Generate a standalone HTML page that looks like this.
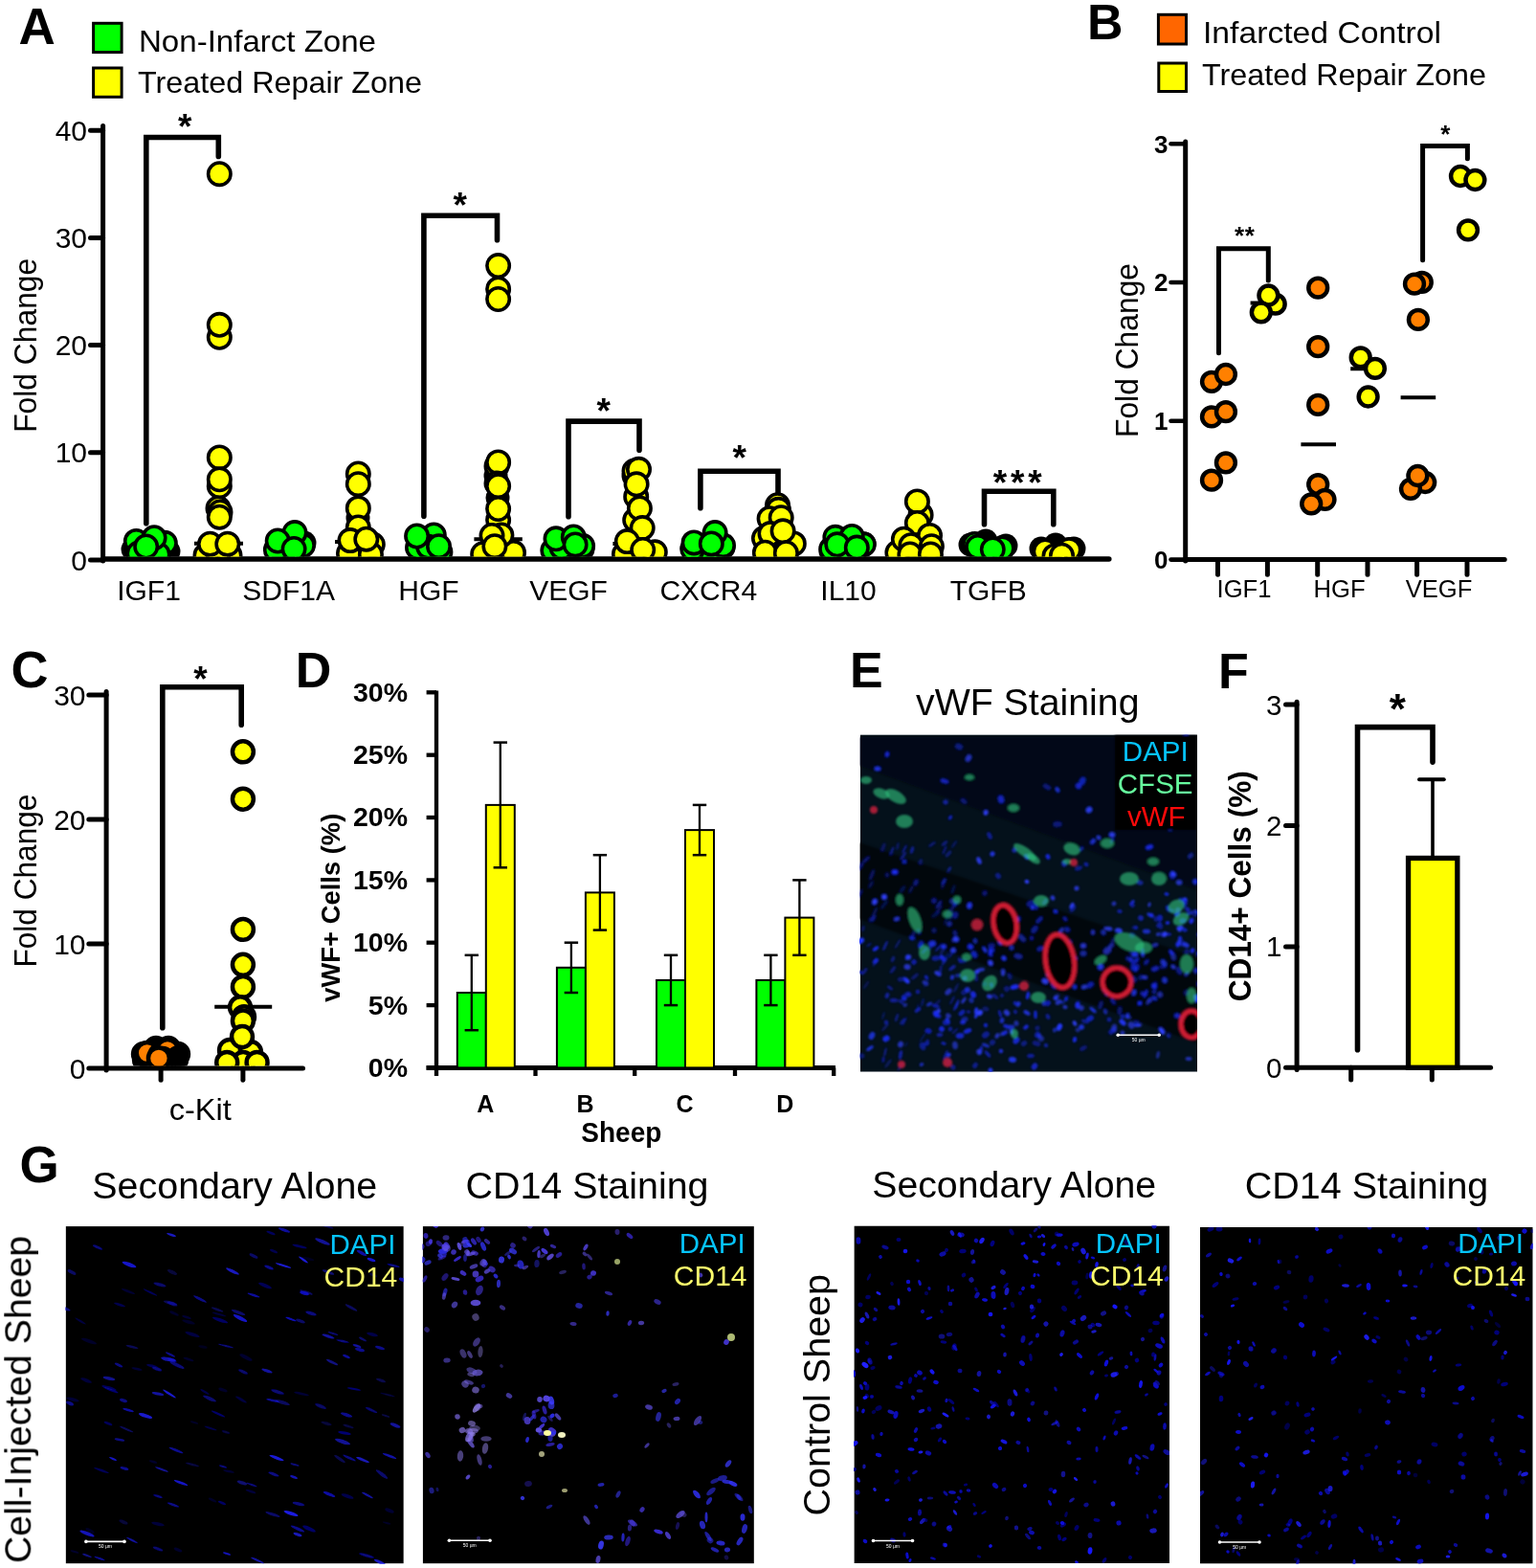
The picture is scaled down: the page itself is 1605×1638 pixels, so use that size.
<!DOCTYPE html><html><head><meta charset="utf-8"><style>html,body{margin:0;padding:0;background:#fff;}svg{display:block}</style></head><body><svg width="1605" height="1638" viewBox="0 0 1605 1638"><rect width="1605" height="1638" fill="#fff"/><text x="19.4" y="46.4" font-family="'Liberation Sans', Arial, sans-serif" font-size="53" font-weight="bold" fill="#000" text-anchor="start">A</text>
<rect x="97.6" y="24.3" width="29.5" height="30.3" fill="#00ff00" stroke="#000" stroke-width="3"/>
<rect x="97.6" y="71" width="29.5" height="30.3" fill="#ffff00" stroke="#000" stroke-width="3"/>
<text x="145.0" y="53.8" font-family="'Liberation Sans', Arial, sans-serif" font-size="30.5" font-weight="normal" fill="#000" text-anchor="start" textLength="248.0" lengthAdjust="spacingAndGlyphs">Non-Infarct Zone</text>
<text x="144.0" y="97.3" font-family="'Liberation Sans', Arial, sans-serif" font-size="30.5" font-weight="normal" fill="#000" text-anchor="start" textLength="297.0" lengthAdjust="spacingAndGlyphs">Treated Repair Zone</text>
<line x1="107.6" y1="131.5" x2="107.6" y2="586.0" stroke="#000" stroke-width="5" stroke-linecap="round"/>
<line x1="94.5" y1="585.0" x2="107.6" y2="585.0" stroke="#000" stroke-width="5" stroke-linecap="round"/>
<text x="91.0" y="595.5" font-family="'Liberation Sans', Arial, sans-serif" font-size="30" font-weight="normal" fill="#000" text-anchor="end">0</text>
<line x1="94.5" y1="472.8" x2="107.6" y2="472.8" stroke="#000" stroke-width="5" stroke-linecap="round"/>
<text x="91.0" y="483.3" font-family="'Liberation Sans', Arial, sans-serif" font-size="30" font-weight="normal" fill="#000" text-anchor="end">10</text>
<line x1="94.5" y1="360.6" x2="107.6" y2="360.6" stroke="#000" stroke-width="5" stroke-linecap="round"/>
<text x="91.0" y="371.1" font-family="'Liberation Sans', Arial, sans-serif" font-size="30" font-weight="normal" fill="#000" text-anchor="end">20</text>
<line x1="94.5" y1="248.4" x2="107.6" y2="248.4" stroke="#000" stroke-width="5" stroke-linecap="round"/>
<text x="91.0" y="258.9" font-family="'Liberation Sans', Arial, sans-serif" font-size="30" font-weight="normal" fill="#000" text-anchor="end">30</text>
<line x1="94.5" y1="136.2" x2="107.6" y2="136.2" stroke="#000" stroke-width="5" stroke-linecap="round"/>
<text x="91.0" y="146.7" font-family="'Liberation Sans', Arial, sans-serif" font-size="30" font-weight="normal" fill="#000" text-anchor="end">40</text>
<line x1="107.6" y1="584.0" x2="1158.8" y2="584.0" stroke="#000" stroke-width="5.5" stroke-linecap="round"/>
<text x="38.5" y="360.8" font-family="'Liberation Sans', Arial, sans-serif" font-size="33" font-weight="normal" fill="#000" text-anchor="middle" textLength="182.0" lengthAdjust="spacingAndGlyphs" transform="rotate(-90 38.5 360.8)">Fold Change</text>
<text x="155.5" y="627.4" font-family="'Liberation Sans', Arial, sans-serif" font-size="30" font-weight="normal" fill="#000" text-anchor="middle">IGF1</text>
<text x="301.7" y="627.4" font-family="'Liberation Sans', Arial, sans-serif" font-size="30" font-weight="normal" fill="#000" text-anchor="middle">SDF1A</text>
<text x="447.9" y="627.4" font-family="'Liberation Sans', Arial, sans-serif" font-size="30" font-weight="normal" fill="#000" text-anchor="middle">HGF</text>
<text x="594.1" y="627.4" font-family="'Liberation Sans', Arial, sans-serif" font-size="30" font-weight="normal" fill="#000" text-anchor="middle">VEGF</text>
<text x="740.3" y="627.4" font-family="'Liberation Sans', Arial, sans-serif" font-size="30" font-weight="normal" fill="#000" text-anchor="middle">CXCR4</text>
<text x="886.5" y="627.4" font-family="'Liberation Sans', Arial, sans-serif" font-size="30" font-weight="normal" fill="#000" text-anchor="middle">IL10</text>
<text x="1032.7" y="627.4" font-family="'Liberation Sans', Arial, sans-serif" font-size="30" font-weight="normal" fill="#000" text-anchor="middle">TGFB</text>
<polyline points="152.8,546.7 152.8,143.5 228.3,143.5 228.3,163.4" fill="none" stroke="#000" stroke-width="5.6" stroke-linecap="round" stroke-linejoin="miter"/>
<polyline points="442.9,539.3 442.9,225.2 519.5,225.2 519.5,250.7" fill="none" stroke="#000" stroke-width="5.6" stroke-linecap="round" stroke-linejoin="miter"/>
<polyline points="594.0,539.7 594.0,440.1 668.0,440.1 668.0,470.3" fill="none" stroke="#000" stroke-width="5.6" stroke-linecap="round" stroke-linejoin="miter"/>
<polyline points="731.9,530.7 731.9,492.2 813.0,492.2 813.0,514.8" fill="none" stroke="#000" stroke-width="5.6" stroke-linecap="round" stroke-linejoin="miter"/>
<polyline points="1028.5,547.8 1028.5,513.2 1100.8,513.2 1100.8,547.8" fill="none" stroke="#000" stroke-width="5.6" stroke-linecap="round" stroke-linejoin="miter"/>
<text x="193.3" y="144.9" font-family="'Liberation Sans', Arial, sans-serif" font-size="37" font-weight="bold" fill="#000" text-anchor="middle">*</text>
<text x="480.7" y="227.2" font-family="'Liberation Sans', Arial, sans-serif" font-size="37" font-weight="bold" fill="#000" text-anchor="middle">*</text>
<text x="630.6" y="441.8" font-family="'Liberation Sans', Arial, sans-serif" font-size="37" font-weight="bold" fill="#000" text-anchor="middle">*</text>
<text x="772.8" y="490.7" font-family="'Liberation Sans', Arial, sans-serif" font-size="37" font-weight="bold" fill="#000" text-anchor="middle">*</text>
<text x="1044.9" y="516.6" font-family="'Liberation Sans', Arial, sans-serif" font-size="37" font-weight="bold" fill="#000" text-anchor="middle">*</text>
<text x="1063.2" y="516.6" font-family="'Liberation Sans', Arial, sans-serif" font-size="37" font-weight="bold" fill="#000" text-anchor="middle">*</text>
<text x="1081.5" y="516.6" font-family="'Liberation Sans', Arial, sans-serif" font-size="37" font-weight="bold" fill="#000" text-anchor="middle">*</text>
<defs><clipPath id="clipA"><rect x="108" y="100" width="1060" height="481.5"/></clipPath><clipPath id="clipB"><rect x="1239" y="100" width="340" height="482"/></clipPath><clipPath id="clipC"><rect x="111" y="700" width="220" height="413.5"/></clipPath></defs>
<g clip-path="url(#clipA)">
<circle cx="139" cy="574" r="12.5" fill="#000"/>
<circle cx="176" cy="576" r="12.5" fill="#000"/>
<circle cx="142.4" cy="565.4" r="11.7" fill="#00ff00" stroke="#000" stroke-width="3.6"/>
<circle cx="172.3" cy="567.3" r="11.7" fill="#00ff00" stroke="#000" stroke-width="3.6"/>
<circle cx="145.0" cy="578.0" r="11.7" fill="#00ff00" stroke="#000" stroke-width="3.6"/>
<circle cx="165.0" cy="579.0" r="11.7" fill="#00ff00" stroke="#000" stroke-width="3.6"/>
<circle cx="161.1" cy="561.7" r="11.7" fill="#00ff00" stroke="#000" stroke-width="3.6"/>
<circle cx="152.7" cy="571.0" r="11.7" fill="#00ff00" stroke="#000" stroke-width="3.6"/>
<line x1="203.0" y1="567.8" x2="254.0" y2="567.8" stroke="#000" stroke-width="4" stroke-linecap="butt"/>
<circle cx="228" cy="533" r="12.5" fill="#000"/>
<circle cx="229.3" cy="181.7" r="11.7" fill="#ffff00" stroke="#000" stroke-width="3.6"/>
<circle cx="229.3" cy="352.3" r="11.7" fill="#ffff00" stroke="#000" stroke-width="3.6"/>
<circle cx="229.3" cy="339.3" r="11.7" fill="#ffff00" stroke="#000" stroke-width="3.6"/>
<circle cx="229.3" cy="477.9" r="11.7" fill="#ffff00" stroke="#000" stroke-width="3.6"/>
<circle cx="229.3" cy="507.8" r="11.7" fill="#ffff00" stroke="#000" stroke-width="3.6"/>
<circle cx="229.3" cy="500.8" r="11.7" fill="#ffff00" stroke="#000" stroke-width="3.6"/>
<circle cx="228.0" cy="531.0" r="11.7" fill="#ffff00" stroke="#000" stroke-width="3.6"/>
<circle cx="230.0" cy="535.0" r="11.7" fill="#ffff00" stroke="#000" stroke-width="3.6"/>
<circle cx="229.3" cy="540.2" r="11.7" fill="#ffff00" stroke="#000" stroke-width="3.6"/>
<circle cx="215.0" cy="580.0" r="11.7" fill="#ffff00" stroke="#000" stroke-width="3.6"/>
<circle cx="240.0" cy="580.0" r="11.7" fill="#ffff00" stroke="#000" stroke-width="3.6"/>
<circle cx="228.0" cy="578.0" r="11.7" fill="#ffff00" stroke="#000" stroke-width="3.6"/>
<circle cx="219.5" cy="568.2" r="11.7" fill="#ffff00" stroke="#000" stroke-width="3.6"/>
<circle cx="237.8" cy="568.2" r="11.7" fill="#ffff00" stroke="#000" stroke-width="3.6"/>
<circle cx="318" cy="567" r="12.5" fill="#000"/>
<circle cx="296" cy="578" r="12.5" fill="#000"/>
<circle cx="288.4" cy="574.4" r="11.7" fill="#00ff00" stroke="#000" stroke-width="3.6"/>
<circle cx="316.4" cy="569.7" r="11.7" fill="#00ff00" stroke="#000" stroke-width="3.6"/>
<circle cx="308.0" cy="556.6" r="11.7" fill="#00ff00" stroke="#000" stroke-width="3.6"/>
<circle cx="290.2" cy="565.0" r="11.7" fill="#00ff00" stroke="#000" stroke-width="3.6"/>
<circle cx="307.1" cy="573.5" r="11.7" fill="#00ff00" stroke="#000" stroke-width="3.6"/>
<line x1="350.0" y1="566.0" x2="400.0" y2="566.0" stroke="#000" stroke-width="4" stroke-linecap="butt"/>
<circle cx="374" cy="541" r="12.5" fill="#000"/>
<circle cx="374.3" cy="495.0" r="11.7" fill="#ffff00" stroke="#000" stroke-width="3.6"/>
<circle cx="374.3" cy="505.7" r="11.7" fill="#ffff00" stroke="#000" stroke-width="3.6"/>
<circle cx="374.3" cy="530.9" r="11.7" fill="#ffff00" stroke="#000" stroke-width="3.6"/>
<circle cx="374.3" cy="551.0" r="11.7" fill="#ffff00" stroke="#000" stroke-width="3.6"/>
<circle cx="389.3" cy="568.8" r="11.7" fill="#ffff00" stroke="#000" stroke-width="3.6"/>
<circle cx="364.5" cy="578.0" r="11.7" fill="#ffff00" stroke="#000" stroke-width="3.6"/>
<circle cx="387.4" cy="579.0" r="11.7" fill="#ffff00" stroke="#000" stroke-width="3.6"/>
<circle cx="366.0" cy="564.6" r="11.7" fill="#ffff00" stroke="#000" stroke-width="3.6"/>
<circle cx="382.8" cy="563.2" r="11.7" fill="#ffff00" stroke="#000" stroke-width="3.6"/>
<circle cx="447" cy="572" r="12.5" fill="#000"/>
<circle cx="440" cy="579" r="12.5" fill="#000"/>
<circle cx="442.0" cy="575.0" r="11.7" fill="#00ff00" stroke="#000" stroke-width="3.6"/>
<circle cx="436.5" cy="572.0" r="11.7" fill="#00ff00" stroke="#000" stroke-width="3.6"/>
<circle cx="459.9" cy="576.8" r="11.7" fill="#00ff00" stroke="#000" stroke-width="3.6"/>
<circle cx="453.3" cy="559.0" r="11.7" fill="#00ff00" stroke="#000" stroke-width="3.6"/>
<circle cx="447.7" cy="571.2" r="11.7" fill="#00ff00" stroke="#000" stroke-width="3.6"/>
<circle cx="435.6" cy="560.0" r="11.7" fill="#00ff00" stroke="#000" stroke-width="3.6"/>
<circle cx="458.5" cy="570.7" r="11.7" fill="#00ff00" stroke="#000" stroke-width="3.6"/>
<line x1="495.4" y1="563.3" x2="545.8" y2="563.3" stroke="#000" stroke-width="4" stroke-linecap="butt"/>
<circle cx="518" cy="497" r="12.5" fill="#000"/>
<circle cx="520" cy="520" r="12.5" fill="#000"/>
<circle cx="520.6" cy="277.6" r="11.7" fill="#ffff00" stroke="#000" stroke-width="3.6"/>
<circle cx="520.6" cy="302.0" r="11.7" fill="#ffff00" stroke="#000" stroke-width="3.6"/>
<circle cx="520.6" cy="312.5" r="11.7" fill="#ffff00" stroke="#000" stroke-width="3.6"/>
<circle cx="519.0" cy="487.0" r="11.7" fill="#ffff00" stroke="#000" stroke-width="3.6"/>
<circle cx="520.6" cy="482.9" r="11.7" fill="#ffff00" stroke="#000" stroke-width="3.6"/>
<circle cx="519.0" cy="505.0" r="11.7" fill="#ffff00" stroke="#000" stroke-width="3.6"/>
<circle cx="520.6" cy="507.7" r="11.7" fill="#ffff00" stroke="#000" stroke-width="3.6"/>
<circle cx="520.6" cy="543.2" r="11.7" fill="#ffff00" stroke="#000" stroke-width="3.6"/>
<circle cx="520.6" cy="531.5" r="11.7" fill="#ffff00" stroke="#000" stroke-width="3.6"/>
<circle cx="504.7" cy="578.7" r="11.7" fill="#ffff00" stroke="#000" stroke-width="3.6"/>
<circle cx="536.5" cy="577.3" r="11.7" fill="#ffff00" stroke="#000" stroke-width="3.6"/>
<circle cx="523.9" cy="559.0" r="11.7" fill="#ffff00" stroke="#000" stroke-width="3.6"/>
<circle cx="514.0" cy="559.5" r="11.7" fill="#ffff00" stroke="#000" stroke-width="3.6"/>
<circle cx="516.9" cy="570.7" r="11.7" fill="#ffff00" stroke="#000" stroke-width="3.6"/>
<circle cx="609" cy="574" r="12.5" fill="#000"/>
<circle cx="590" cy="579" r="12.5" fill="#000"/>
<circle cx="577.8" cy="575.0" r="11.7" fill="#00ff00" stroke="#000" stroke-width="3.6"/>
<circle cx="608.6" cy="570.3" r="11.7" fill="#00ff00" stroke="#000" stroke-width="3.6"/>
<circle cx="587.1" cy="572.1" r="11.7" fill="#00ff00" stroke="#000" stroke-width="3.6"/>
<circle cx="581.0" cy="562.8" r="11.7" fill="#00ff00" stroke="#000" stroke-width="3.6"/>
<circle cx="599.3" cy="561.0" r="11.7" fill="#00ff00" stroke="#000" stroke-width="3.6"/>
<circle cx="601.1" cy="568.9" r="11.7" fill="#00ff00" stroke="#000" stroke-width="3.6"/>
<line x1="640.4" y1="568.0" x2="691.8" y2="568.0" stroke="#000" stroke-width="4" stroke-linecap="butt"/>
<circle cx="662" cy="497" r="12.5" fill="#000"/>
<circle cx="664.7" cy="518.9" r="11.7" fill="#ffff00" stroke="#000" stroke-width="3.6"/>
<circle cx="663.7" cy="543.2" r="11.7" fill="#ffff00" stroke="#000" stroke-width="3.6"/>
<circle cx="663.0" cy="492.0" r="11.7" fill="#ffff00" stroke="#000" stroke-width="3.6"/>
<circle cx="667.5" cy="490.3" r="11.7" fill="#ffff00" stroke="#000" stroke-width="3.6"/>
<circle cx="665.1" cy="505.8" r="11.7" fill="#ffff00" stroke="#000" stroke-width="3.6"/>
<circle cx="668.4" cy="531.0" r="11.7" fill="#ffff00" stroke="#000" stroke-width="3.6"/>
<circle cx="671.2" cy="551.6" r="11.7" fill="#ffff00" stroke="#000" stroke-width="3.6"/>
<circle cx="652.5" cy="578.7" r="11.7" fill="#ffff00" stroke="#000" stroke-width="3.6"/>
<circle cx="684.3" cy="576.8" r="11.7" fill="#ffff00" stroke="#000" stroke-width="3.6"/>
<circle cx="655.3" cy="565.6" r="11.7" fill="#ffff00" stroke="#000" stroke-width="3.6"/>
<circle cx="671.7" cy="574.5" r="11.7" fill="#ffff00" stroke="#000" stroke-width="3.6"/>
<circle cx="756" cy="572" r="12.5" fill="#000"/>
<circle cx="734" cy="579" r="12.5" fill="#000"/>
<circle cx="726.5" cy="581.0" r="11.7" fill="#00ff00" stroke="#000" stroke-width="3.6"/>
<circle cx="744.3" cy="579.0" r="11.7" fill="#00ff00" stroke="#000" stroke-width="3.6"/>
<circle cx="723.7" cy="573.5" r="11.7" fill="#00ff00" stroke="#000" stroke-width="3.6"/>
<circle cx="755.5" cy="569.7" r="11.7" fill="#00ff00" stroke="#000" stroke-width="3.6"/>
<circle cx="747.1" cy="556.6" r="11.7" fill="#00ff00" stroke="#000" stroke-width="3.6"/>
<circle cx="725.1" cy="566.9" r="11.7" fill="#00ff00" stroke="#000" stroke-width="3.6"/>
<circle cx="743.3" cy="567.9" r="11.7" fill="#00ff00" stroke="#000" stroke-width="3.6"/>
<line x1="787.2" y1="567.9" x2="838.0" y2="567.9" stroke="#000" stroke-width="4" stroke-linecap="butt"/>
<circle cx="808" cy="548" r="12.5" fill="#000"/>
<circle cx="812.5" cy="527.7" r="11.7" fill="#ffff00" stroke="#000" stroke-width="3.6"/>
<circle cx="813.4" cy="532.3" r="11.7" fill="#ffff00" stroke="#000" stroke-width="3.6"/>
<circle cx="804.1" cy="541.7" r="11.7" fill="#ffff00" stroke="#000" stroke-width="3.6"/>
<circle cx="816.2" cy="540.7" r="11.7" fill="#ffff00" stroke="#000" stroke-width="3.6"/>
<circle cx="829.3" cy="567.9" r="11.7" fill="#ffff00" stroke="#000" stroke-width="3.6"/>
<circle cx="798.5" cy="562.2" r="11.7" fill="#ffff00" stroke="#000" stroke-width="3.6"/>
<circle cx="805.0" cy="557.6" r="11.7" fill="#ffff00" stroke="#000" stroke-width="3.6"/>
<circle cx="818.1" cy="554.8" r="11.7" fill="#ffff00" stroke="#000" stroke-width="3.6"/>
<circle cx="799.4" cy="577.2" r="11.7" fill="#ffff00" stroke="#000" stroke-width="3.6"/>
<circle cx="821.4" cy="577.7" r="11.7" fill="#ffff00" stroke="#000" stroke-width="3.6"/>
<circle cx="903" cy="568" r="12.5" fill="#000"/>
<circle cx="868" cy="576" r="12.5" fill="#000"/>
<circle cx="878.0" cy="581.0" r="11.7" fill="#00ff00" stroke="#000" stroke-width="3.6"/>
<circle cx="868.7" cy="573.5" r="11.7" fill="#00ff00" stroke="#000" stroke-width="3.6"/>
<circle cx="902.3" cy="568.8" r="11.7" fill="#00ff00" stroke="#000" stroke-width="3.6"/>
<circle cx="872.9" cy="561.3" r="11.7" fill="#00ff00" stroke="#000" stroke-width="3.6"/>
<circle cx="890.2" cy="560.4" r="11.7" fill="#00ff00" stroke="#000" stroke-width="3.6"/>
<circle cx="874.8" cy="568.8" r="11.7" fill="#00ff00" stroke="#000" stroke-width="3.6"/>
<circle cx="895.3" cy="572.1" r="11.7" fill="#00ff00" stroke="#000" stroke-width="3.6"/>
<line x1="933.2" y1="572.5" x2="984.0" y2="572.5" stroke="#000" stroke-width="4" stroke-linecap="butt"/>
<circle cx="962" cy="536" r="12.5" fill="#000"/>
<circle cx="962.1" cy="537.9" r="11.7" fill="#ffff00" stroke="#000" stroke-width="3.6"/>
<circle cx="958.4" cy="523.9" r="11.7" fill="#ffff00" stroke="#000" stroke-width="3.6"/>
<circle cx="958.4" cy="546.4" r="11.7" fill="#ffff00" stroke="#000" stroke-width="3.6"/>
<circle cx="937.9" cy="577.2" r="11.7" fill="#ffff00" stroke="#000" stroke-width="3.6"/>
<circle cx="944.4" cy="563.2" r="11.7" fill="#ffff00" stroke="#000" stroke-width="3.6"/>
<circle cx="971.5" cy="559.4" r="11.7" fill="#ffff00" stroke="#000" stroke-width="3.6"/>
<circle cx="951.9" cy="569.7" r="11.7" fill="#ffff00" stroke="#000" stroke-width="3.6"/>
<circle cx="973.4" cy="570.7" r="11.7" fill="#ffff00" stroke="#000" stroke-width="3.6"/>
<circle cx="950.9" cy="579.0" r="11.7" fill="#ffff00" stroke="#000" stroke-width="3.6"/>
<circle cx="972.4" cy="579.0" r="11.7" fill="#ffff00" stroke="#000" stroke-width="3.6"/>
<circle cx="1014" cy="569" r="12.5" fill="#000"/>
<circle cx="1051" cy="570" r="12.5" fill="#000"/>
<circle cx="1030" cy="565" r="12.5" fill="#000"/>
<circle cx="1018.6" cy="568.4" r="11.7" fill="#00ff00" stroke="#000" stroke-width="3.6"/>
<circle cx="1047.2" cy="572.8" r="11.7" fill="#00ff00" stroke="#000" stroke-width="3.6"/>
<circle cx="1021.7" cy="571.5" r="11.7" fill="#00ff00" stroke="#000" stroke-width="3.6"/>
<circle cx="1037.3" cy="574.0" r="11.7" fill="#00ff00" stroke="#000" stroke-width="3.6"/>
<circle cx="1088" cy="573" r="12.5" fill="#000"/>
<circle cx="1122" cy="573" r="12.5" fill="#000"/>
<circle cx="1103" cy="569" r="12.5" fill="#000"/>
<circle cx="1097" cy="578" r="12.5" fill="#000"/>
<circle cx="1092.1" cy="575.9" r="11.7" fill="#ffff00" stroke="#000" stroke-width="3.6"/>
<circle cx="1117.0" cy="574.6" r="11.7" fill="#ffff00" stroke="#000" stroke-width="3.6"/>
<circle cx="1102.0" cy="580.9" r="11.7" fill="#ffff00" stroke="#000" stroke-width="3.6"/>
<circle cx="1109.5" cy="580.2" r="11.7" fill="#ffff00" stroke="#000" stroke-width="3.6"/>
</g>
<text x="1136.0" y="41.0" font-family="'Liberation Sans', Arial, sans-serif" font-size="52" font-weight="bold" fill="#000" text-anchor="start">B</text>
<rect x="1210.4" y="15.3" width="29.1" height="30.7" fill="#ff6600" stroke="#000" stroke-width="3"/>
<rect x="1210.8" y="66" width="28.7" height="29.5" fill="#ffff00" stroke="#000" stroke-width="3"/>
<text x="1257.0" y="45.3" font-family="'Liberation Sans', Arial, sans-serif" font-size="30.5" font-weight="normal" fill="#000" text-anchor="start" textLength="249.0" lengthAdjust="spacingAndGlyphs">Infarcted Control</text>
<text x="1256.0" y="88.8" font-family="'Liberation Sans', Arial, sans-serif" font-size="30.5" font-weight="normal" fill="#000" text-anchor="start" textLength="297.0" lengthAdjust="spacingAndGlyphs">Treated Repair Zone</text>
<line x1="1238.7" y1="148.0" x2="1238.7" y2="586.0" stroke="#000" stroke-width="5" stroke-linecap="round"/>
<line x1="1223.5" y1="584.6" x2="1238.7" y2="584.6" stroke="#000" stroke-width="4.6" stroke-linecap="round"/>
<text x="1220.5" y="594.0" font-family="'Liberation Sans', Arial, sans-serif" font-size="26" font-weight="bold" fill="#000" text-anchor="end">0</text>
<line x1="1223.5" y1="439.8" x2="1238.7" y2="439.8" stroke="#000" stroke-width="4.6" stroke-linecap="round"/>
<text x="1220.5" y="449.2" font-family="'Liberation Sans', Arial, sans-serif" font-size="26" font-weight="bold" fill="#000" text-anchor="end">1</text>
<line x1="1223.5" y1="295.0" x2="1238.7" y2="295.0" stroke="#000" stroke-width="4.6" stroke-linecap="round"/>
<text x="1220.5" y="304.4" font-family="'Liberation Sans', Arial, sans-serif" font-size="26" font-weight="bold" fill="#000" text-anchor="end">2</text>
<line x1="1223.5" y1="150.2" x2="1238.7" y2="150.2" stroke="#000" stroke-width="4.6" stroke-linecap="round"/>
<text x="1220.5" y="159.6" font-family="'Liberation Sans', Arial, sans-serif" font-size="26" font-weight="bold" fill="#000" text-anchor="end">3</text>
<line x1="1238.7" y1="584.6" x2="1572.2" y2="584.6" stroke="#000" stroke-width="5" stroke-linecap="round"/>
<line x1="1272.5" y1="584.6" x2="1272.5" y2="600.3" stroke="#000" stroke-width="5" stroke-linecap="round"/>
<line x1="1324.4" y1="584.6" x2="1324.4" y2="600.3" stroke="#000" stroke-width="5" stroke-linecap="round"/>
<line x1="1376.7" y1="584.6" x2="1376.7" y2="600.3" stroke="#000" stroke-width="5" stroke-linecap="round"/>
<line x1="1429.0" y1="584.6" x2="1429.0" y2="600.3" stroke="#000" stroke-width="5" stroke-linecap="round"/>
<line x1="1480.6" y1="584.6" x2="1480.6" y2="600.3" stroke="#000" stroke-width="5" stroke-linecap="round"/>
<line x1="1533.0" y1="584.6" x2="1533.0" y2="600.3" stroke="#000" stroke-width="5" stroke-linecap="round"/>
<text x="1300.0" y="623.9" font-family="'Liberation Sans', Arial, sans-serif" font-size="25.6" font-weight="normal" fill="#000" text-anchor="middle">IGF1</text>
<text x="1399.5" y="623.9" font-family="'Liberation Sans', Arial, sans-serif" font-size="25.6" font-weight="normal" fill="#000" text-anchor="middle">HGF</text>
<text x="1503.5" y="623.9" font-family="'Liberation Sans', Arial, sans-serif" font-size="25.6" font-weight="normal" fill="#000" text-anchor="middle">VEGF</text>
<text x="1189.2" y="366.0" font-family="'Liberation Sans', Arial, sans-serif" font-size="33" font-weight="normal" fill="#000" text-anchor="middle" textLength="182.0" lengthAdjust="spacingAndGlyphs" transform="rotate(-90 1189.2 366.0)">Fold Change</text>
<polyline points="1273.5,368.7 1273.5,259.8 1325.3,259.8 1325.3,293.0" fill="none" stroke="#000" stroke-width="5" stroke-linecap="round" stroke-linejoin="miter"/>
<polyline points="1486.6,271.7 1486.6,152.4 1533.4,152.4 1533.4,165.7" fill="none" stroke="#000" stroke-width="5" stroke-linecap="round" stroke-linejoin="miter"/>
<text x="1295.1" y="254.9" font-family="'Liberation Sans', Arial, sans-serif" font-size="26" font-weight="bold" fill="#000" text-anchor="middle">*</text>
<text x="1305.8" y="254.9" font-family="'Liberation Sans', Arial, sans-serif" font-size="26" font-weight="bold" fill="#000" text-anchor="middle">*</text>
<text x="1510.3" y="148.7" font-family="'Liberation Sans', Arial, sans-serif" font-size="26" font-weight="bold" fill="#000" text-anchor="middle">*</text>
<g clip-path="url(#clipB)">
<line x1="1306.6" y1="316.4" x2="1340.0" y2="316.4" stroke="#000" stroke-width="4" stroke-linecap="butt"/>
<line x1="1359.4" y1="464.2" x2="1396.0" y2="464.2" stroke="#000" stroke-width="4" stroke-linecap="butt"/>
<line x1="1411.2" y1="385.2" x2="1446.0" y2="385.2" stroke="#000" stroke-width="4" stroke-linecap="butt"/>
<line x1="1463.6" y1="415.3" x2="1500.2" y2="415.3" stroke="#000" stroke-width="4" stroke-linecap="butt"/>
<circle cx="1266.0" cy="398.8" r="9.9" fill="#ff8000" stroke="#000" stroke-width="4.5"/>
<circle cx="1280.9" cy="391.0" r="9.9" fill="#ff8000" stroke="#000" stroke-width="4.5"/>
<circle cx="1266.0" cy="435.4" r="9.9" fill="#ff8000" stroke="#000" stroke-width="4.5"/>
<circle cx="1280.9" cy="430.2" r="9.9" fill="#ff8000" stroke="#000" stroke-width="4.5"/>
<circle cx="1280.9" cy="483.3" r="9.9" fill="#ff8000" stroke="#000" stroke-width="4.5"/>
<circle cx="1266.0" cy="501.7" r="9.9" fill="#ff8000" stroke="#000" stroke-width="4.5"/>
<circle cx="1332.7" cy="317.7" r="9.9" fill="#ffff00" stroke="#000" stroke-width="4.5"/>
<circle cx="1325.4" cy="308.5" r="9.9" fill="#ffff00" stroke="#000" stroke-width="4.5"/>
<circle cx="1317.8" cy="326.3" r="9.9" fill="#ffff00" stroke="#000" stroke-width="4.5"/>
<circle cx="1377.2" cy="300.7" r="9.9" fill="#ff8000" stroke="#000" stroke-width="4.5"/>
<circle cx="1377.2" cy="362.2" r="9.9" fill="#ff8000" stroke="#000" stroke-width="4.5"/>
<circle cx="1377.2" cy="422.9" r="9.9" fill="#ff8000" stroke="#000" stroke-width="4.5"/>
<circle cx="1377.2" cy="506.1" r="9.9" fill="#ff8000" stroke="#000" stroke-width="4.5"/>
<circle cx="1384.5" cy="521.8" r="9.9" fill="#ff8000" stroke="#000" stroke-width="4.5"/>
<circle cx="1370.2" cy="526.3" r="9.9" fill="#ff8000" stroke="#000" stroke-width="4.5"/>
<circle cx="1421.7" cy="373.4" r="9.9" fill="#ffff00" stroke="#000" stroke-width="4.5"/>
<circle cx="1436.9" cy="384.9" r="9.9" fill="#ffff00" stroke="#000" stroke-width="4.5"/>
<circle cx="1429.6" cy="414.5" r="9.9" fill="#ffff00" stroke="#000" stroke-width="4.5"/>
<circle cx="1485.8" cy="294.9" r="9.9" fill="#ff8000" stroke="#000" stroke-width="4.5"/>
<circle cx="1478.0" cy="296.7" r="9.9" fill="#ff8000" stroke="#000" stroke-width="4.5"/>
<circle cx="1481.9" cy="333.9" r="9.9" fill="#ff8000" stroke="#000" stroke-width="4.5"/>
<circle cx="1489.2" cy="504.0" r="9.9" fill="#ff8000" stroke="#000" stroke-width="4.5"/>
<circle cx="1474.0" cy="510.8" r="9.9" fill="#ff8000" stroke="#000" stroke-width="4.5"/>
<circle cx="1481.4" cy="497.0" r="9.9" fill="#ff8000" stroke="#000" stroke-width="4.5"/>
<circle cx="1526.0" cy="184.0" r="9.9" fill="#ffff00" stroke="#000" stroke-width="4.5"/>
<circle cx="1541.4" cy="188.0" r="9.9" fill="#ffff00" stroke="#000" stroke-width="4.5"/>
<circle cx="1534.0" cy="240.3" r="9.9" fill="#ffff00" stroke="#000" stroke-width="4.5"/>
</g>
<text x="11.5" y="718.4" font-family="'Liberation Sans', Arial, sans-serif" font-size="54" font-weight="bold" fill="#000" text-anchor="start">C</text>
<line x1="111.1" y1="722.6" x2="111.1" y2="1118.0" stroke="#000" stroke-width="5" stroke-linecap="round"/>
<line x1="92.8" y1="1116.0" x2="111.1" y2="1116.0" stroke="#000" stroke-width="5" stroke-linecap="round"/>
<text x="89.5" y="1126.6" font-family="'Liberation Sans', Arial, sans-serif" font-size="30" font-weight="normal" fill="#000" text-anchor="end">0</text>
<line x1="92.8" y1="986.0" x2="111.1" y2="986.0" stroke="#000" stroke-width="5" stroke-linecap="round"/>
<text x="89.5" y="996.6" font-family="'Liberation Sans', Arial, sans-serif" font-size="30" font-weight="normal" fill="#000" text-anchor="end">10</text>
<line x1="92.8" y1="856.0" x2="111.1" y2="856.0" stroke="#000" stroke-width="5" stroke-linecap="round"/>
<text x="89.5" y="866.6" font-family="'Liberation Sans', Arial, sans-serif" font-size="30" font-weight="normal" fill="#000" text-anchor="end">20</text>
<line x1="92.8" y1="726.0" x2="111.1" y2="726.0" stroke="#000" stroke-width="5" stroke-linecap="round"/>
<text x="89.5" y="736.6" font-family="'Liberation Sans', Arial, sans-serif" font-size="30" font-weight="normal" fill="#000" text-anchor="end">30</text>
<line x1="111.1" y1="1116.0" x2="316.5" y2="1116.0" stroke="#000" stroke-width="5" stroke-linecap="round"/>
<line x1="168.1" y1="1116.0" x2="168.1" y2="1128.2" stroke="#000" stroke-width="5" stroke-linecap="round"/>
<line x1="253.9" y1="1116.0" x2="253.9" y2="1128.2" stroke="#000" stroke-width="5" stroke-linecap="round"/>
<text x="209.3" y="1169.9" font-family="'Liberation Sans', Arial, sans-serif" font-size="32" font-weight="normal" fill="#000" text-anchor="middle" textLength="65.0" lengthAdjust="spacingAndGlyphs">c-Kit</text>
<text x="38.5" y="920.1" font-family="'Liberation Sans', Arial, sans-serif" font-size="33" font-weight="normal" fill="#000" text-anchor="middle" textLength="181.0" lengthAdjust="spacingAndGlyphs" transform="rotate(-90 38.5 920.1)">Fold Change</text>
<polyline points="169.8,1073.8 169.8,717.7 252.2,717.7 252.2,757.3" fill="none" stroke="#000" stroke-width="5.6" stroke-linecap="round" stroke-linejoin="miter"/>
<text x="209.4" y="721.5" font-family="'Liberation Sans', Arial, sans-serif" font-size="37" font-weight="bold" fill="#000" text-anchor="middle">*</text>
<g clip-path="url(#clipC)">
<line x1="224.2" y1="1051.7" x2="284.2" y2="1051.7" stroke="#000" stroke-width="4" stroke-linecap="butt"/>
<circle cx="150" cy="1101" r="13.2" fill="#000"/>
<circle cx="163" cy="1095" r="13.2" fill="#000"/>
<circle cx="176" cy="1095" r="13.2" fill="#000"/>
<circle cx="186" cy="1101" r="13.2" fill="#000"/>
<circle cx="184" cy="1107" r="13.2" fill="#000"/>
<circle cx="158" cy="1108" r="13.2" fill="#000"/>
<circle cx="172" cy="1108" r="13.2" fill="#000"/>
<circle cx="151" cy="1107" r="13.2" fill="#000"/>
<circle cx="153.7" cy="1100.0" r="10.95" fill="#ff8000" stroke="#000" stroke-width="4.5"/>
<circle cx="167.5" cy="1102" r="13.2" fill="#000"/>
<circle cx="175.0" cy="1097.0" r="10.95" fill="#ff8000" stroke="#000" stroke-width="4.5"/>
<circle cx="170" cy="1106" r="13.2" fill="#000"/>
<circle cx="186" cy="1104" r="12" fill="#000"/>
<circle cx="165.9" cy="1105.4" r="10.95" fill="#ff8000" stroke="#000" stroke-width="4.5"/>
<circle cx="253.9" cy="785.3" r="10.95" fill="#ffff00" stroke="#000" stroke-width="4.5"/>
<circle cx="253.9" cy="834.7" r="10.95" fill="#ffff00" stroke="#000" stroke-width="4.5"/>
<circle cx="253.9" cy="970.9" r="10.95" fill="#ffff00" stroke="#000" stroke-width="4.5"/>
<circle cx="253.9" cy="1007.8" r="10.95" fill="#ffff00" stroke="#000" stroke-width="4.5"/>
<circle cx="253.9" cy="1030.9" r="10.95" fill="#ffff00" stroke="#000" stroke-width="4.5"/>
<circle cx="251.0" cy="1052.3" r="10.95" fill="#ffff00" stroke="#000" stroke-width="4.5"/>
<circle cx="255.0" cy="1062.2" r="10.95" fill="#ffff00" stroke="#000" stroke-width="4.5"/>
<circle cx="253.9" cy="1066.5" r="10.95" fill="#ffff00" stroke="#000" stroke-width="4.5"/>
<circle cx="240.0" cy="1097.0" r="10.95" fill="#ffff00" stroke="#000" stroke-width="4.5"/>
<circle cx="262.0" cy="1099.0" r="10.95" fill="#ffff00" stroke="#000" stroke-width="4.5"/>
<circle cx="253.0" cy="1083.0" r="10.95" fill="#ffff00" stroke="#000" stroke-width="4.5"/>
<circle cx="254.0" cy="1110.0" r="10.95" fill="#ffff00" stroke="#000" stroke-width="4.5"/>
<circle cx="237.2" cy="1109.9" r="10.95" fill="#ffff00" stroke="#000" stroke-width="4.5"/>
<circle cx="268.6" cy="1109.9" r="10.95" fill="#ffff00" stroke="#000" stroke-width="4.5"/>
</g>
<text x="308.7" y="718.3" font-family="'Liberation Sans', Arial, sans-serif" font-size="52" font-weight="bold" fill="#000" text-anchor="start">D</text>
<line x1="456.0" y1="721.4" x2="456.0" y2="1117.5" stroke="#000" stroke-width="4.3" stroke-linecap="butt"/>
<line x1="445.6" y1="1115.4" x2="456.0" y2="1115.4" stroke="#000" stroke-width="4.3" stroke-linecap="butt"/>
<text x="426.0" y="1124.8" font-family="'Liberation Sans', Arial, sans-serif" font-size="28.5" font-weight="bold" fill="#000" text-anchor="end">0%</text>
<line x1="445.6" y1="1050.1" x2="456.0" y2="1050.1" stroke="#000" stroke-width="4.3" stroke-linecap="butt"/>
<text x="426.0" y="1059.5" font-family="'Liberation Sans', Arial, sans-serif" font-size="28.5" font-weight="bold" fill="#000" text-anchor="end">5%</text>
<line x1="445.6" y1="984.7" x2="456.0" y2="984.7" stroke="#000" stroke-width="4.3" stroke-linecap="butt"/>
<text x="426.0" y="994.1" font-family="'Liberation Sans', Arial, sans-serif" font-size="28.5" font-weight="bold" fill="#000" text-anchor="end">10%</text>
<line x1="445.6" y1="919.4" x2="456.0" y2="919.4" stroke="#000" stroke-width="4.3" stroke-linecap="butt"/>
<text x="426.0" y="928.8" font-family="'Liberation Sans', Arial, sans-serif" font-size="28.5" font-weight="bold" fill="#000" text-anchor="end">15%</text>
<line x1="445.6" y1="854.0" x2="456.0" y2="854.0" stroke="#000" stroke-width="4.3" stroke-linecap="butt"/>
<text x="426.0" y="863.4" font-family="'Liberation Sans', Arial, sans-serif" font-size="28.5" font-weight="bold" fill="#000" text-anchor="end">20%</text>
<line x1="445.6" y1="788.7" x2="456.0" y2="788.7" stroke="#000" stroke-width="4.3" stroke-linecap="butt"/>
<text x="426.0" y="798.1" font-family="'Liberation Sans', Arial, sans-serif" font-size="28.5" font-weight="bold" fill="#000" text-anchor="end">25%</text>
<line x1="445.6" y1="723.3" x2="456.0" y2="723.3" stroke="#000" stroke-width="4.3" stroke-linecap="butt"/>
<text x="426.0" y="732.7" font-family="'Liberation Sans', Arial, sans-serif" font-size="28.5" font-weight="bold" fill="#000" text-anchor="end">30%</text>
<line x1="445.6" y1="1115.4" x2="873.0" y2="1115.4" stroke="#000" stroke-width="5" stroke-linecap="butt"/>
<line x1="456.0" y1="1115.4" x2="456.0" y2="1124.0" stroke="#000" stroke-width="4.3" stroke-linecap="butt"/>
<line x1="559.5" y1="1115.4" x2="559.5" y2="1124.0" stroke="#000" stroke-width="4.3" stroke-linecap="butt"/>
<line x1="663.2" y1="1115.4" x2="663.2" y2="1124.0" stroke="#000" stroke-width="4.3" stroke-linecap="butt"/>
<line x1="768.0" y1="1115.4" x2="768.0" y2="1124.0" stroke="#000" stroke-width="4.3" stroke-linecap="butt"/>
<line x1="871.2" y1="1115.4" x2="871.2" y2="1124.0" stroke="#000" stroke-width="4.3" stroke-linecap="butt"/>
<rect x="477.8" y="1037.0" width="30.0" height="78.4" fill="#00ff00" stroke="#000" stroke-width="2"/>
<line x1="492.8" y1="1076.2" x2="492.8" y2="997.8" stroke="#000" stroke-width="2.3" stroke-linecap="butt"/>
<line x1="485.6" y1="1076.2" x2="500.0" y2="1076.2" stroke="#000" stroke-width="2.5" stroke-linecap="butt"/>
<line x1="485.6" y1="997.8" x2="500.0" y2="997.8" stroke="#000" stroke-width="2.5" stroke-linecap="butt"/>
<rect x="507.8" y="840.9" width="30.0" height="274.5" fill="#ffff00" stroke="#000" stroke-width="2"/>
<line x1="522.8" y1="906.3" x2="522.8" y2="775.6" stroke="#000" stroke-width="2.3" stroke-linecap="butt"/>
<line x1="515.6" y1="906.3" x2="530.0" y2="906.3" stroke="#000" stroke-width="2.5" stroke-linecap="butt"/>
<line x1="515.6" y1="775.6" x2="530.0" y2="775.6" stroke="#000" stroke-width="2.5" stroke-linecap="butt"/>
<rect x="581.9" y="1010.8" width="30.0" height="104.6" fill="#00ff00" stroke="#000" stroke-width="2"/>
<line x1="596.9" y1="1037.0" x2="596.9" y2="984.7" stroke="#000" stroke-width="2.3" stroke-linecap="butt"/>
<line x1="589.7" y1="1037.0" x2="604.1" y2="1037.0" stroke="#000" stroke-width="2.5" stroke-linecap="butt"/>
<line x1="589.7" y1="984.7" x2="604.1" y2="984.7" stroke="#000" stroke-width="2.5" stroke-linecap="butt"/>
<rect x="611.9" y="932.4" width="30.0" height="183.0" fill="#ffff00" stroke="#000" stroke-width="2"/>
<line x1="626.9" y1="971.6" x2="626.9" y2="893.2" stroke="#000" stroke-width="2.3" stroke-linecap="butt"/>
<line x1="619.7" y1="971.6" x2="634.1" y2="971.6" stroke="#000" stroke-width="2.5" stroke-linecap="butt"/>
<line x1="619.7" y1="893.2" x2="634.1" y2="893.2" stroke="#000" stroke-width="2.5" stroke-linecap="butt"/>
<rect x="686.0" y="1023.9" width="30.0" height="91.5" fill="#00ff00" stroke="#000" stroke-width="2"/>
<line x1="701.0" y1="1050.1" x2="701.0" y2="997.8" stroke="#000" stroke-width="2.3" stroke-linecap="butt"/>
<line x1="693.8" y1="1050.1" x2="708.2" y2="1050.1" stroke="#000" stroke-width="2.5" stroke-linecap="butt"/>
<line x1="693.8" y1="997.8" x2="708.2" y2="997.8" stroke="#000" stroke-width="2.5" stroke-linecap="butt"/>
<rect x="716.0" y="867.1" width="30.0" height="248.3" fill="#ffff00" stroke="#000" stroke-width="2"/>
<line x1="731.0" y1="893.2" x2="731.0" y2="840.9" stroke="#000" stroke-width="2.3" stroke-linecap="butt"/>
<line x1="723.8" y1="893.2" x2="738.2" y2="893.2" stroke="#000" stroke-width="2.5" stroke-linecap="butt"/>
<line x1="723.8" y1="840.9" x2="738.2" y2="840.9" stroke="#000" stroke-width="2.5" stroke-linecap="butt"/>
<rect x="790.4" y="1023.9" width="30.0" height="91.5" fill="#00ff00" stroke="#000" stroke-width="2"/>
<line x1="805.4" y1="1050.1" x2="805.4" y2="997.8" stroke="#000" stroke-width="2.3" stroke-linecap="butt"/>
<line x1="798.2" y1="1050.1" x2="812.6" y2="1050.1" stroke="#000" stroke-width="2.5" stroke-linecap="butt"/>
<line x1="798.2" y1="997.8" x2="812.6" y2="997.8" stroke="#000" stroke-width="2.5" stroke-linecap="butt"/>
<rect x="820.4" y="958.6" width="30.0" height="156.8" fill="#ffff00" stroke="#000" stroke-width="2"/>
<line x1="835.4" y1="997.8" x2="835.4" y2="919.4" stroke="#000" stroke-width="2.3" stroke-linecap="butt"/>
<line x1="828.2" y1="997.8" x2="842.6" y2="997.8" stroke="#000" stroke-width="2.5" stroke-linecap="butt"/>
<line x1="828.2" y1="919.4" x2="842.6" y2="919.4" stroke="#000" stroke-width="2.5" stroke-linecap="butt"/>
<text x="507.4" y="1161.8" font-family="'Liberation Sans', Arial, sans-serif" font-size="25" font-weight="bold" fill="#000" text-anchor="middle">A</text>
<text x="611.5" y="1161.8" font-family="'Liberation Sans', Arial, sans-serif" font-size="25" font-weight="bold" fill="#000" text-anchor="middle">B</text>
<text x="715.6" y="1161.8" font-family="'Liberation Sans', Arial, sans-serif" font-size="25" font-weight="bold" fill="#000" text-anchor="middle">C</text>
<text x="820.4" y="1161.8" font-family="'Liberation Sans', Arial, sans-serif" font-size="25" font-weight="bold" fill="#000" text-anchor="middle">D</text>
<text x="649.3" y="1193.2" font-family="'Liberation Sans', Arial, sans-serif" font-size="29" font-weight="bold" fill="#000" text-anchor="middle" textLength="84.0" lengthAdjust="spacingAndGlyphs">Sheep</text>
<text x="354.8" y="948.2" font-family="'Liberation Sans', Arial, sans-serif" font-size="27" font-weight="bold" fill="#000" text-anchor="middle" textLength="197.0" lengthAdjust="spacingAndGlyphs" transform="rotate(-90 354.8 948.2)">vWF+ Cells (%)</text>
<text x="1273.0" y="718.9" font-family="'Liberation Sans', Arial, sans-serif" font-size="52" font-weight="bold" fill="#000" text-anchor="start">F</text>
<line x1="1355.1" y1="733.3" x2="1355.1" y2="1117.5" stroke="#000" stroke-width="5" stroke-linecap="round"/>
<line x1="1343.5" y1="1115.3" x2="1355.1" y2="1115.3" stroke="#000" stroke-width="5" stroke-linecap="round"/>
<text x="1339.5" y="1125.7" font-family="'Liberation Sans', Arial, sans-serif" font-size="29.5" font-weight="normal" fill="#000" text-anchor="end">0</text>
<line x1="1343.5" y1="988.9" x2="1355.1" y2="988.9" stroke="#000" stroke-width="5" stroke-linecap="round"/>
<text x="1339.5" y="999.3" font-family="'Liberation Sans', Arial, sans-serif" font-size="29.5" font-weight="normal" fill="#000" text-anchor="end">1</text>
<line x1="1343.5" y1="862.5" x2="1355.1" y2="862.5" stroke="#000" stroke-width="5" stroke-linecap="round"/>
<text x="1339.5" y="872.9" font-family="'Liberation Sans', Arial, sans-serif" font-size="29.5" font-weight="normal" fill="#000" text-anchor="end">2</text>
<line x1="1343.5" y1="736.1" x2="1355.1" y2="736.1" stroke="#000" stroke-width="5" stroke-linecap="round"/>
<text x="1339.5" y="746.5" font-family="'Liberation Sans', Arial, sans-serif" font-size="29.5" font-weight="normal" fill="#000" text-anchor="end">3</text>
<line x1="1355.1" y1="1115.3" x2="1557.6" y2="1115.3" stroke="#000" stroke-width="5" stroke-linecap="round"/>
<line x1="1411.7" y1="1115.3" x2="1411.7" y2="1128.0" stroke="#000" stroke-width="5" stroke-linecap="round"/>
<line x1="1496.3" y1="1115.3" x2="1496.3" y2="1128.0" stroke="#000" stroke-width="5" stroke-linecap="round"/>
<line x1="1497.0" y1="896.0" x2="1497.0" y2="814.0" stroke="#000" stroke-width="3.6" stroke-linecap="butt"/>
<line x1="1483.0" y1="814.2" x2="1508.8" y2="814.2" stroke="#000" stroke-width="3.9" stroke-linecap="round"/>
<rect x="1471.55" y="896.45" width="51.3" height="218.8" fill="#ffff00" stroke="#000" stroke-width="5.3"/>
<polyline points="1418.5,1096.7 1418.5,759.6 1497.0,759.6 1497.0,796.1" fill="none" stroke="#000" stroke-width="5.6" stroke-linecap="round" stroke-linejoin="miter"/>
<text x="1460.3" y="755.5" font-family="'Liberation Sans', Arial, sans-serif" font-size="44" font-weight="bold" fill="#000" text-anchor="middle">*</text>
<text x="1306.7" y="925.8" font-family="'Liberation Sans', Arial, sans-serif" font-size="33" font-weight="bold" fill="#000" text-anchor="middle" textLength="241.0" lengthAdjust="spacingAndGlyphs" transform="rotate(-90 1306.7 925.8)">CD14+ Cells (%)</text>
<filter id="bl" x="-5%" y="-5%" width="110%" height="110%"><feGaussianBlur stdDeviation="0.7"/></filter>
<filter id="bl2" x="-5%" y="-5%" width="110%" height="110%"><feGaussianBlur stdDeviation="1.1"/></filter>
<clipPath id="im1"><rect x="68.6" y="1281.1" width="353.20000000000005" height="352.3000000000002"/></clipPath>
<g clip-path="url(#im1)"><rect x="68.6" y="1281.1" width="353.20000000000005" height="352.3000000000002" fill="#000"/><g filter="url(#bl)"><ellipse cx="228" cy="1477" rx="7.8" ry="1.2" fill="#08088c" fill-opacity="0.76" transform="rotate(25 228 1477)"/><ellipse cx="236" cy="1496" rx="4.4" ry="1.3" fill="#1818ea" fill-opacity="0.26" transform="rotate(17 236 1496)"/><ellipse cx="355" cy="1524" rx="6.9" ry="1.6" fill="#2020ff" fill-opacity="0.31" transform="rotate(34 355 1524)"/><ellipse cx="73" cy="1466" rx="4.2" ry="1.9" fill="#1010d4" fill-opacity="0.62" transform="rotate(24 73 1466)"/><ellipse cx="343" cy="1396" rx="6.9" ry="1.5" fill="#1818ea" fill-opacity="0.66" transform="rotate(17 343 1396)"/><ellipse cx="230" cy="1379" rx="8.5" ry="1.8" fill="#08088c" fill-opacity="0.70" transform="rotate(18 230 1379)"/><ellipse cx="180" cy="1362" rx="5.8" ry="1.8" fill="#1010d4" fill-opacity="0.47" transform="rotate(20 180 1362)"/><ellipse cx="407" cy="1578" rx="5.0" ry="1.9" fill="#1010d4" fill-opacity="0.24" transform="rotate(22 407 1578)"/><ellipse cx="201" cy="1530" rx="7.5" ry="1.3" fill="#1818ea" fill-opacity="0.26" transform="rotate(14 201 1530)"/><ellipse cx="186" cy="1619" rx="4.6" ry="1.7" fill="#1010d4" fill-opacity="0.21" transform="rotate(23 186 1619)"/><ellipse cx="233" cy="1452" rx="4.9" ry="1.7" fill="#08088c" fill-opacity="0.29" transform="rotate(19 233 1452)"/><ellipse cx="296" cy="1322" rx="8.5" ry="1.0" fill="#2020ff" fill-opacity="0.81" transform="rotate(17 296 1322)"/><ellipse cx="413" cy="1489" rx="5.8" ry="1.9" fill="#1818ea" fill-opacity="0.65" transform="rotate(21 413 1489)"/><ellipse cx="104" cy="1628" rx="6.0" ry="1.0" fill="#1818ea" fill-opacity="0.63" transform="rotate(20 104 1628)"/><ellipse cx="362" cy="1417" rx="4.1" ry="1.4" fill="#1818ea" fill-opacity="0.64" transform="rotate(23 362 1417)"/><ellipse cx="113" cy="1487" rx="4.6" ry="1.4" fill="#08088c" fill-opacity="0.64" transform="rotate(22 113 1487)"/><ellipse cx="178" cy="1361" rx="7.3" ry="1.9" fill="#1818ea" fill-opacity="0.34" transform="rotate(14 178 1361)"/><ellipse cx="404" cy="1591" rx="4.4" ry="1.0" fill="#08088c" fill-opacity="0.28" transform="rotate(15 404 1591)"/><ellipse cx="249" cy="1371" rx="7.7" ry="1.6" fill="#2020ff" fill-opacity="0.41" transform="rotate(20 249 1371)"/><ellipse cx="130" cy="1534" rx="4.6" ry="1.5" fill="#1010d4" fill-opacity="0.66" transform="rotate(15 130 1534)"/><ellipse cx="286" cy="1307" rx="4.3" ry="1.4" fill="#1010d4" fill-opacity="0.37" transform="rotate(23 286 1307)"/><ellipse cx="84" cy="1380" rx="6.6" ry="1.1" fill="#08088c" fill-opacity="0.45" transform="rotate(31 84 1380)"/><ellipse cx="383" cy="1625" rx="8.3" ry="1.6" fill="#08088c" fill-opacity="0.85" transform="rotate(16 383 1625)"/><ellipse cx="236" cy="1406" rx="8.3" ry="1.0" fill="#0c0cb0" fill-opacity="0.65" transform="rotate(14 236 1406)"/><ellipse cx="239" cy="1537" rx="6.0" ry="1.4" fill="#1010d4" fill-opacity="0.23" transform="rotate(12 239 1537)"/><ellipse cx="399" cy="1540" rx="7.6" ry="1.9" fill="#1818ea" fill-opacity="0.45" transform="rotate(37 399 1540)"/><ellipse cx="311" cy="1597" rx="7.9" ry="1.6" fill="#1010d4" fill-opacity="0.64" transform="rotate(24 311 1597)"/><ellipse cx="203" cy="1486" rx="4.3" ry="1.1" fill="#08088c" fill-opacity="0.28" transform="rotate(16 203 1486)"/><ellipse cx="159" cy="1427" rx="6.1" ry="1.5" fill="#08088c" fill-opacity="0.58" transform="rotate(14 159 1427)"/><ellipse cx="252" cy="1462" rx="6.7" ry="1.5" fill="#0c0cb0" fill-opacity="0.36" transform="rotate(30 252 1462)"/><ellipse cx="315" cy="1456" rx="8.0" ry="1.4" fill="#0c0cb0" fill-opacity="0.30" transform="rotate(12 315 1456)"/><ellipse cx="285" cy="1463" rx="7.0" ry="1.4" fill="#0c0cb0" fill-opacity="0.82" transform="rotate(13 285 1463)"/><ellipse cx="184" cy="1515" rx="8.0" ry="1.4" fill="#1818ea" fill-opacity="0.61" transform="rotate(22 184 1515)"/><ellipse cx="180" cy="1329" rx="5.6" ry="1.9" fill="#2020ff" fill-opacity="0.23" transform="rotate(25 180 1329)"/><ellipse cx="91" cy="1625" rx="5.2" ry="1.2" fill="#2020ff" fill-opacity="0.49" transform="rotate(21 91 1625)"/><ellipse cx="290" cy="1454" rx="7.2" ry="1.8" fill="#0c0cb0" fill-opacity="0.64" transform="rotate(18 290 1454)"/><ellipse cx="181" cy="1572" rx="6.6" ry="1.3" fill="#0c0cb0" fill-opacity="0.75" transform="rotate(19 181 1572)"/><ellipse cx="75" cy="1329" rx="4.9" ry="1.8" fill="#2020ff" fill-opacity="0.39" transform="rotate(27 75 1329)"/><ellipse cx="344" cy="1561" rx="6.8" ry="1.7" fill="#1010d4" fill-opacity="0.77" transform="rotate(22 344 1561)"/><ellipse cx="407" cy="1521" rx="7.7" ry="1.3" fill="#1818ea" fill-opacity="0.70" transform="rotate(20 407 1521)"/><ellipse cx="335" cy="1469" rx="6.4" ry="1.9" fill="#0c0cb0" fill-opacity="0.55" transform="rotate(23 335 1469)"/><ellipse cx="421" cy="1337" rx="4.4" ry="1.9" fill="#1818ea" fill-opacity="0.71" transform="rotate(21 421 1337)"/><ellipse cx="114" cy="1440" rx="6.5" ry="1.7" fill="#2020ff" fill-opacity="0.55" transform="rotate(12 114 1440)"/><ellipse cx="358" cy="1401" rx="6.9" ry="1.2" fill="#0c0cb0" fill-opacity="0.71" transform="rotate(12 358 1401)"/><ellipse cx="358" cy="1506" rx="8.4" ry="2.0" fill="#2020ff" fill-opacity="0.58" transform="rotate(19 358 1506)"/><ellipse cx="348" cy="1393" rx="5.6" ry="1.1" fill="#1010d4" fill-opacity="0.51" transform="rotate(17 348 1393)"/><ellipse cx="263" cy="1551" rx="5.9" ry="1.0" fill="#1010d4" fill-opacity="0.57" transform="rotate(19 263 1551)"/><ellipse cx="311" cy="1603" rx="4.7" ry="1.5" fill="#2020ff" fill-opacity="0.71" transform="rotate(20 311 1603)"/><ellipse cx="365" cy="1523" rx="7.4" ry="1.4" fill="#1010d4" fill-opacity="0.59" transform="rotate(25 365 1523)"/><ellipse cx="362" cy="1478" rx="6.4" ry="1.8" fill="#1818ea" fill-opacity="0.59" transform="rotate(18 362 1478)"/><ellipse cx="178" cy="1415" rx="5.4" ry="1.1" fill="#1818ea" fill-opacity="0.58" transform="rotate(26 178 1415)"/><ellipse cx="165" cy="1456" rx="6.4" ry="1.5" fill="#2020ff" fill-opacity="0.62" transform="rotate(11 165 1456)"/><ellipse cx="78" cy="1621" rx="4.5" ry="1.1" fill="#08088c" fill-opacity="0.32" transform="rotate(15 78 1621)"/><ellipse cx="398" cy="1442" rx="5.2" ry="1.5" fill="#2020ff" fill-opacity="0.29" transform="rotate(19 398 1442)"/><ellipse cx="222" cy="1567" rx="4.5" ry="1.4" fill="#0c0cb0" fill-opacity="0.22" transform="rotate(25 222 1567)"/><ellipse cx="160" cy="1527" rx="4.2" ry="1.2" fill="#1010d4" fill-opacity="0.21" transform="rotate(17 160 1527)"/><ellipse cx="169" cy="1535" rx="7.3" ry="1.1" fill="#2020ff" fill-opacity="0.56" transform="rotate(20 169 1535)"/><ellipse cx="157" cy="1350" rx="8.0" ry="1.0" fill="#08088c" fill-opacity="0.64" transform="rotate(26 157 1350)"/><ellipse cx="360" cy="1497" rx="6.9" ry="1.5" fill="#08088c" fill-opacity="0.80" transform="rotate(10 360 1497)"/><ellipse cx="285" cy="1582" rx="8.1" ry="1.6" fill="#1818ea" fill-opacity="0.44" transform="rotate(18 285 1582)"/><ellipse cx="132" cy="1493" rx="8.0" ry="1.1" fill="#1818ea" fill-opacity="0.37" transform="rotate(23 132 1493)"/><ellipse cx="325" cy="1372" rx="6.0" ry="1.9" fill="#1010d4" fill-opacity="0.58" transform="rotate(18 325 1372)"/><ellipse cx="318" cy="1351" rx="4.9" ry="1.7" fill="#1010d4" fill-opacity="0.84" transform="rotate(14 318 1351)"/><ellipse cx="411" cy="1322" rx="6.9" ry="1.3" fill="#08088c" fill-opacity="0.90" transform="rotate(14 411 1322)"/><ellipse cx="363" cy="1563" rx="6.8" ry="1.9" fill="#08088c" fill-opacity="0.54" transform="rotate(19 363 1563)"/><ellipse cx="135" cy="1321" rx="7.8" ry="2.0" fill="#1818ea" fill-opacity="0.85" transform="rotate(20 135 1321)"/><ellipse cx="102" cy="1303" rx="5.5" ry="1.5" fill="#1010d4" fill-opacity="0.56" transform="rotate(25 102 1303)"/><ellipse cx="220" cy="1492" rx="6.9" ry="1.0" fill="#1010d4" fill-opacity="0.34" transform="rotate(18 220 1492)"/><ellipse cx="212" cy="1407" rx="4.7" ry="1.5" fill="#08088c" fill-opacity="0.21" transform="rotate(12 212 1407)"/><ellipse cx="384" cy="1562" rx="6.6" ry="1.2" fill="#2020ff" fill-opacity="0.61" transform="rotate(28 384 1562)"/><ellipse cx="189" cy="1549" rx="7.7" ry="1.4" fill="#1818ea" fill-opacity="0.83" transform="rotate(20 189 1549)"/><ellipse cx="379" cy="1525" rx="7.4" ry="1.4" fill="#2020ff" fill-opacity="0.71" transform="rotate(22 379 1525)"/><ellipse cx="93" cy="1401" rx="8.5" ry="1.9" fill="#0c0cb0" fill-opacity="0.23" transform="rotate(19 93 1401)"/><ellipse cx="165" cy="1618" rx="5.5" ry="1.7" fill="#0c0cb0" fill-opacity="0.60" transform="rotate(20 165 1618)"/><ellipse cx="257" cy="1418" rx="7.4" ry="2.0" fill="#1010d4" fill-opacity="0.22" transform="rotate(27 257 1418)"/><ellipse cx="286" cy="1540" rx="6.0" ry="1.5" fill="#0c0cb0" fill-opacity="0.73" transform="rotate(20 286 1540)"/><ellipse cx="297" cy="1285" rx="6.5" ry="1.5" fill="#0c0cb0" fill-opacity="0.88" transform="rotate(20 297 1285)"/><ellipse cx="269" cy="1630" rx="7.6" ry="1.1" fill="#2020ff" fill-opacity="0.62" transform="rotate(24 269 1630)"/><ellipse cx="337" cy="1297" rx="8.4" ry="1.9" fill="#2020ff" fill-opacity="0.58" transform="rotate(23 337 1297)"/><ellipse cx="279" cy="1432" rx="5.9" ry="1.5" fill="#2020ff" fill-opacity="0.62" transform="rotate(19 279 1432)"/><ellipse cx="197" cy="1381" rx="7.0" ry="1.7" fill="#0c0cb0" fill-opacity="0.22" transform="rotate(16 197 1381)"/><ellipse cx="341" cy="1487" rx="5.8" ry="1.7" fill="#1818ea" fill-opacity="0.24" transform="rotate(15 341 1487)"/><ellipse cx="180" cy="1421" rx="4.3" ry="1.9" fill="#0c0cb0" fill-opacity="0.50" transform="rotate(13 180 1421)"/><ellipse cx="237" cy="1623" rx="4.2" ry="1.1" fill="#1818ea" fill-opacity="0.77" transform="rotate(16 237 1623)"/><ellipse cx="390" cy="1332" rx="4.2" ry="1.4" fill="#1010d4" fill-opacity="0.28" transform="rotate(24 390 1332)"/><ellipse cx="373" cy="1406" rx="4.6" ry="1.4" fill="#1818ea" fill-opacity="0.67" transform="rotate(19 373 1406)"/><ellipse cx="229" cy="1373" rx="7.7" ry="1.1" fill="#08088c" fill-opacity="0.40" transform="rotate(15 229 1373)"/><ellipse cx="114" cy="1450" rx="8.0" ry="1.8" fill="#08088c" fill-opacity="0.64" transform="rotate(17 114 1450)"/><ellipse cx="195" cy="1376" rx="4.9" ry="1.3" fill="#08088c" fill-opacity="0.37" transform="rotate(17 195 1376)"/><ellipse cx="405" cy="1457" rx="8.0" ry="1.0" fill="#1818ea" fill-opacity="0.24" transform="rotate(14 405 1457)"/><ellipse cx="164" cy="1430" rx="5.3" ry="1.8" fill="#08088c" fill-opacity="0.84" transform="rotate(18 164 1430)"/><ellipse cx="125" cy="1363" rx="6.2" ry="1.4" fill="#0c0cb0" fill-opacity="0.44" transform="rotate(18 125 1363)"/><ellipse cx="243" cy="1328" rx="7.6" ry="1.6" fill="#2020ff" fill-opacity="0.74" transform="rotate(26 243 1328)"/><ellipse cx="143" cy="1430" rx="5.8" ry="1.2" fill="#0c0cb0" fill-opacity="0.31" transform="rotate(13 143 1430)"/><ellipse cx="364" cy="1490" rx="5.9" ry="1.4" fill="#1818ea" fill-opacity="0.27" transform="rotate(18 364 1490)"/><ellipse cx="378" cy="1309" rx="5.9" ry="1.6" fill="#1010d4" fill-opacity="0.77" transform="rotate(28 378 1309)"/><ellipse cx="232" cy="1570" rx="4.4" ry="1.3" fill="#08088c" fill-opacity="0.71" transform="rotate(24 232 1570)"/><ellipse cx="314" cy="1380" rx="5.0" ry="1.7" fill="#1818ea" fill-opacity="0.43" transform="rotate(20 314 1380)"/><ellipse cx="389" cy="1394" rx="6.0" ry="1.8" fill="#0c0cb0" fill-opacity="0.41" transform="rotate(14 389 1394)"/><ellipse cx="180" cy="1421" rx="5.1" ry="1.4" fill="#08088c" fill-opacity="0.46" transform="rotate(22 180 1421)"/><ellipse cx="197" cy="1420" rx="5.7" ry="1.4" fill="#08088c" fill-opacity="0.31" transform="rotate(17 197 1420)"/><ellipse cx="277" cy="1343" rx="7.4" ry="1.9" fill="#1010d4" fill-opacity="0.40" transform="rotate(22 277 1343)"/><ellipse cx="76" cy="1462" rx="6.9" ry="1.8" fill="#1010d4" fill-opacity="0.24" transform="rotate(14 76 1462)"/><ellipse cx="262" cy="1558" rx="5.5" ry="1.3" fill="#1010d4" fill-opacity="0.27" transform="rotate(18 262 1558)"/><ellipse cx="179" cy="1290" rx="5.1" ry="1.2" fill="#2020ff" fill-opacity="0.74" transform="rotate(19 179 1290)"/><ellipse cx="253" cy="1549" rx="5.6" ry="1.8" fill="#2020ff" fill-opacity="0.43" transform="rotate(18 253 1549)"/><ellipse cx="116" cy="1452" rx="8.1" ry="1.4" fill="#08088c" fill-opacity="0.78" transform="rotate(21 116 1452)"/><ellipse cx="304" cy="1581" rx="7.8" ry="1.9" fill="#2020ff" fill-opacity="0.87" transform="rotate(18 304 1581)"/><ellipse cx="295" cy="1465" rx="8.2" ry="1.9" fill="#2020ff" fill-opacity="0.37" transform="rotate(18 295 1465)"/><ellipse cx="125" cy="1504" rx="5.4" ry="1.4" fill="#1818ea" fill-opacity="0.57" transform="rotate(11 125 1504)"/><ellipse cx="165" cy="1592" rx="6.9" ry="1.8" fill="#0c0cb0" fill-opacity="0.33" transform="rotate(12 165 1592)"/><ellipse cx="90" cy="1442" rx="6.2" ry="1.8" fill="#08088c" fill-opacity="0.42" transform="rotate(21 90 1442)"/><ellipse cx="138" cy="1407" rx="6.7" ry="1.2" fill="#2020ff" fill-opacity="0.33" transform="rotate(14 138 1407)"/><ellipse cx="167" cy="1342" rx="6.8" ry="1.9" fill="#0c0cb0" fill-opacity="0.59" transform="rotate(16 167 1342)"/><ellipse cx="370" cy="1451" rx="7.5" ry="1.1" fill="#08088c" fill-opacity="0.80" transform="rotate(10 370 1451)"/><ellipse cx="209" cy="1357" rx="7.6" ry="1.4" fill="#1818ea" fill-opacity="0.57" transform="rotate(27 209 1357)"/><ellipse cx="251" cy="1377" rx="8.0" ry="1.9" fill="#1818ea" fill-opacity="0.83" transform="rotate(27 251 1377)"/><ellipse cx="227" cy="1368" rx="6.7" ry="1.2" fill="#2020ff" fill-opacity="0.31" transform="rotate(20 227 1368)"/><ellipse cx="182" cy="1372" rx="5.2" ry="1.5" fill="#08088c" fill-opacity="0.31" transform="rotate(24 182 1372)"/><ellipse cx="341" cy="1281" rx="7.7" ry="1.1" fill="#1818ea" fill-opacity="0.39" transform="rotate(16 341 1281)"/><ellipse cx="322" cy="1315" rx="6.4" ry="1.5" fill="#08088c" fill-opacity="0.21" transform="rotate(14 322 1315)"/><ellipse cx="134" cy="1349" rx="7.5" ry="1.4" fill="#1010d4" fill-opacity="0.23" transform="rotate(21 134 1349)"/><ellipse cx="214" cy="1454" rx="5.4" ry="1.1" fill="#0c0cb0" fill-opacity="0.41" transform="rotate(32 214 1454)"/><ellipse cx="233" cy="1532" rx="4.3" ry="1.1" fill="#0c0cb0" fill-opacity="0.67" transform="rotate(16 233 1532)"/><ellipse cx="307" cy="1543" rx="4.1" ry="1.4" fill="#2020ff" fill-opacity="0.70" transform="rotate(21 307 1543)"/><ellipse cx="152" cy="1479" rx="7.5" ry="1.9" fill="#2020ff" fill-opacity="0.79" transform="rotate(18 152 1479)"/><ellipse cx="323" cy="1597" rx="7.4" ry="2.0" fill="#08088c" fill-opacity="0.73" transform="rotate(24 323 1597)"/><ellipse cx="265" cy="1312" rx="4.9" ry="1.7" fill="#1818ea" fill-opacity="0.43" transform="rotate(26 265 1312)"/><ellipse cx="403" cy="1479" rx="4.4" ry="1.1" fill="#2020ff" fill-opacity="0.27" transform="rotate(19 403 1479)"/><ellipse cx="308" cy="1530" rx="4.9" ry="1.0" fill="#1818ea" fill-opacity="0.52" transform="rotate(16 308 1530)"/><ellipse cx="317" cy="1316" rx="5.8" ry="1.1" fill="#2020ff" fill-opacity="0.84" transform="rotate(34 317 1316)"/><ellipse cx="219" cy="1461" rx="7.5" ry="1.8" fill="#1818ea" fill-opacity="0.47" transform="rotate(23 219 1461)"/><ellipse cx="185" cy="1426" rx="8.4" ry="1.8" fill="#0c0cb0" fill-opacity="0.66" transform="rotate(25 185 1426)"/><ellipse cx="283" cy="1288" rx="4.8" ry="1.3" fill="#0c0cb0" fill-opacity="0.51" transform="rotate(20 283 1288)"/><ellipse cx="265" cy="1353" rx="6.8" ry="1.2" fill="#1010d4" fill-opacity="0.74" transform="rotate(18 265 1353)"/><ellipse cx="388" cy="1473" rx="6.8" ry="1.5" fill="#0c0cb0" fill-opacity="0.60" transform="rotate(24 388 1473)"/><ellipse cx="138" cy="1609" rx="6.6" ry="1.0" fill="#1818ea" fill-opacity="0.66" transform="rotate(28 138 1609)"/><ellipse cx="343" cy="1329" rx="6.6" ry="1.7" fill="#2020ff" fill-opacity="0.43" transform="rotate(20 343 1329)"/><ellipse cx="397" cy="1408" rx="5.1" ry="1.6" fill="#1818ea" fill-opacity="0.58" transform="rotate(17 397 1408)"/><ellipse cx="91" cy="1602" rx="8.1" ry="2.0" fill="#1818ea" fill-opacity="0.77" transform="rotate(21 91 1602)"/><ellipse cx="281" cy="1324" rx="5.1" ry="1.6" fill="#0c0cb0" fill-opacity="0.78" transform="rotate(22 281 1324)"/><ellipse cx="134" cy="1473" rx="6.0" ry="1.4" fill="#1010d4" fill-opacity="0.75" transform="rotate(16 134 1473)"/><ellipse cx="397" cy="1632" rx="6.8" ry="1.6" fill="#2020ff" fill-opacity="0.73" transform="rotate(25 397 1632)"/><ellipse cx="124" cy="1426" rx="4.6" ry="1.4" fill="#1010d4" fill-opacity="0.60" transform="rotate(26 124 1426)"/><ellipse cx="129" cy="1463" rx="4.2" ry="1.8" fill="#0c0cb0" fill-opacity="0.71" transform="rotate(19 129 1463)"/><ellipse cx="347" cy="1423" rx="6.7" ry="1.5" fill="#2020ff" fill-opacity="0.49" transform="rotate(26 347 1423)"/><ellipse cx="289" cy="1523" rx="8.0" ry="1.5" fill="#2020ff" fill-opacity="0.83" transform="rotate(20 289 1523)"/><ellipse cx="312" cy="1571" rx="6.5" ry="1.9" fill="#1010d4" fill-opacity="0.57" transform="rotate(12 312 1571)"/><ellipse cx="254" cy="1433" rx="5.3" ry="1.6" fill="#1010d4" fill-opacity="0.50" transform="rotate(24 254 1433)"/><ellipse cx="201" cy="1394" rx="8.0" ry="1.9" fill="#0c0cb0" fill-opacity="0.37" transform="rotate(18 201 1394)"/><ellipse cx="367" cy="1366" rx="7.1" ry="1.5" fill="#2020ff" fill-opacity="0.37" transform="rotate(29 367 1366)"/><ellipse cx="176" cy="1420" rx="8.0" ry="2.0" fill="#1818ea" fill-opacity="0.71" transform="rotate(10 176 1420)"/><ellipse cx="376" cy="1410" rx="5.0" ry="1.7" fill="#1818ea" fill-opacity="0.60" transform="rotate(14 376 1410)"/><ellipse cx="388" cy="1316" rx="4.6" ry="1.5" fill="#1818ea" fill-opacity="0.87" transform="rotate(18 388 1316)"/><ellipse cx="68" cy="1367" rx="6.0" ry="1.5" fill="#1010d4" fill-opacity="0.57" transform="rotate(19 68 1367)"/><ellipse cx="118" cy="1524" rx="4.2" ry="1.0" fill="#1818ea" fill-opacity="0.83" transform="rotate(24 118 1524)"/><ellipse cx="177" cy="1456" rx="8.0" ry="1.2" fill="#2020ff" fill-opacity="0.80" transform="rotate(33 177 1456)"/><ellipse cx="313" cy="1302" rx="7.8" ry="1.4" fill="#0c0cb0" fill-opacity="0.53" transform="rotate(14 313 1302)"/><ellipse cx="129" cy="1590" rx="4.9" ry="1.9" fill="#1818ea" fill-opacity="0.24" transform="rotate(23 129 1590)"/><ellipse cx="106" cy="1536" rx="8.3" ry="1.3" fill="#0c0cb0" fill-opacity="0.49" transform="rotate(20 106 1536)"/><ellipse cx="379" cy="1399" rx="4.4" ry="1.2" fill="#2020ff" fill-opacity="0.42" transform="rotate(28 379 1399)"/><ellipse cx="320" cy="1350" rx="7.2" ry="1.5" fill="#1818ea" fill-opacity="0.41" transform="rotate(18 320 1350)"/><ellipse cx="165" cy="1563" rx="5.0" ry="1.3" fill="#08088c" fill-opacity="0.85" transform="rotate(18 165 1563)"/><ellipse cx="304" cy="1378" rx="6.1" ry="1.1" fill="#1010d4" fill-opacity="0.84" transform="rotate(20 304 1378)"/><ellipse cx="94" cy="1599" rx="5.1" ry="1.8" fill="#08088c" fill-opacity="0.26" transform="rotate(27 94 1599)"/></g></g>
<line x1="89.9" y1="1610.4" x2="130" y2="1610.4" stroke="#fff" stroke-width="1.6"/>
<circle cx="89.9" cy="1610.4" r="1.8" fill="#fff"/><circle cx="130" cy="1610.4" r="1.8" fill="#fff"/>
<text x="110.0" y="1617.4" font-family="'Liberation Sans', Arial, sans-serif" font-size="5" font-weight="normal" fill="#fff" text-anchor="middle">50 µm</text>
<text x="413.4" y="1309.8" font-family="'Liberation Sans', Arial, sans-serif" font-size="29.5" font-weight="normal" fill="#06c4fc" text-anchor="end">DAPI</text>
<text x="415.3" y="1343.6" font-family="'Liberation Sans', Arial, sans-serif" font-size="30" font-weight="normal" fill="#fcfc6c" text-anchor="end">CD14</text>
<clipPath id="im2"><rect x="441.7" y="1281.1" width="346.2" height="352.3000000000002"/></clipPath>
<g clip-path="url(#im2)"><rect x="441.7" y="1281.1" width="346.2" height="352.3000000000002" fill="#000"/><g filter="url(#bl)"><ellipse cx="483" cy="1272" rx="2.6" ry="2.4" fill="#2e2ee8" fill-opacity="0.92" transform="rotate(133 483 1272)"/><ellipse cx="518" cy="1333" rx="2.8" ry="2.0" fill="#2e2ee8" fill-opacity="0.83" transform="rotate(44 518 1333)"/><ellipse cx="536" cy="1301" rx="2.9" ry="2.7" fill="#4a3ae8" fill-opacity="0.56" transform="rotate(29 536 1301)"/><ellipse cx="497" cy="1331" rx="3.4" ry="3.4" fill="#5a48f0" fill-opacity="0.74" transform="rotate(177 497 1331)"/><ellipse cx="525" cy="1366" rx="3.4" ry="2.2" fill="#6050e0" fill-opacity="0.57" transform="rotate(35 525 1366)"/><ellipse cx="465" cy="1350" rx="4.5" ry="2.2" fill="#2e2ee8" fill-opacity="0.64" transform="rotate(106 465 1350)"/><ellipse cx="466" cy="1293" rx="2.7" ry="3.5" fill="#5a48f0" fill-opacity="0.51" transform="rotate(85 466 1293)"/><ellipse cx="505" cy="1302" rx="5.0" ry="2.4" fill="#2e2ee8" fill-opacity="0.82" transform="rotate(66 505 1302)"/><ellipse cx="509" cy="1328" rx="3.5" ry="2.2" fill="#6050e0" fill-opacity="0.74" transform="rotate(148 509 1328)"/><ellipse cx="448" cy="1299" rx="2.6" ry="3.4" fill="#3a2ad8" fill-opacity="0.54" transform="rotate(66 448 1299)"/><ellipse cx="486" cy="1295" rx="2.8" ry="2.9" fill="#2e2ee8" fill-opacity="0.64" transform="rotate(166 486 1295)"/><ellipse cx="487" cy="1301" rx="2.6" ry="3.5" fill="#3c3cff" fill-opacity="0.74" transform="rotate(87 487 1301)"/><ellipse cx="490" cy="1300" rx="3.8" ry="1.6" fill="#3c3cff" fill-opacity="0.91" transform="rotate(45 490 1300)"/><ellipse cx="463" cy="1307" rx="5.3" ry="2.8" fill="#2e2ee8" fill-opacity="0.85" transform="rotate(177 463 1307)"/><ellipse cx="465" cy="1303" rx="3.9" ry="3.5" fill="#5a48f0" fill-opacity="0.88" transform="rotate(76 465 1303)"/><ellipse cx="500" cy="1295" rx="3.4" ry="2.3" fill="#3a2ad8" fill-opacity="0.57" transform="rotate(57 500 1295)"/><ellipse cx="467" cy="1301" rx="4.0" ry="2.5" fill="#4a3ae8" fill-opacity="0.75" transform="rotate(61 467 1301)"/><ellipse cx="504" cy="1284" rx="2.6" ry="2.1" fill="#3c3cff" fill-opacity="0.75" transform="rotate(125 504 1284)"/><ellipse cx="465" cy="1334" rx="4.4" ry="2.7" fill="#3a2ad8" fill-opacity="0.51" transform="rotate(129 465 1334)"/><ellipse cx="463" cy="1309" rx="4.4" ry="3.1" fill="#2e2ee8" fill-opacity="0.66" transform="rotate(52 463 1309)"/><ellipse cx="447" cy="1319" rx="3.8" ry="2.2" fill="#3c3cff" fill-opacity="0.65" transform="rotate(157 447 1319)"/><ellipse cx="501" cy="1336" rx="4.6" ry="2.9" fill="#3a2ad8" fill-opacity="0.83" transform="rotate(154 501 1336)"/><ellipse cx="462" cy="1314" rx="4.7" ry="1.6" fill="#3a2ad8" fill-opacity="0.57" transform="rotate(156 462 1314)"/><ellipse cx="501" cy="1348" rx="5.5" ry="3.5" fill="#4a3ae8" fill-opacity="0.57" transform="rotate(114 501 1348)"/><ellipse cx="484" cy="1330" rx="3.7" ry="2.2" fill="#4a3ae8" fill-opacity="0.80" transform="rotate(35 484 1330)"/><ellipse cx="497" cy="1361" rx="5.4" ry="3.2" fill="#6050e0" fill-opacity="0.89" transform="rotate(0 497 1361)"/><ellipse cx="495" cy="1297" rx="4.1" ry="2.2" fill="#3a2ad8" fill-opacity="0.76" transform="rotate(54 495 1297)"/><ellipse cx="444" cy="1336" rx="3.9" ry="1.8" fill="#3a2ad8" fill-opacity="0.67" transform="rotate(116 444 1336)"/><ellipse cx="532" cy="1313" rx="2.5" ry="1.7" fill="#3c3cff" fill-opacity="0.75" transform="rotate(63 532 1313)"/><ellipse cx="464" cy="1354" rx="3.8" ry="2.0" fill="#6050e0" fill-opacity="0.63" transform="rotate(102 464 1354)"/><ellipse cx="441" cy="1316" rx="3.3" ry="3.5" fill="#2e2ee8" fill-opacity="0.72" transform="rotate(29 441 1316)"/><ellipse cx="486" cy="1297" rx="3.9" ry="1.7" fill="#5a48f0" fill-opacity="0.78" transform="rotate(167 486 1297)"/><ellipse cx="480" cy="1302" rx="4.1" ry="2.0" fill="#6050e0" fill-opacity="0.92" transform="rotate(71 480 1302)"/><ellipse cx="434" cy="1320" rx="3.4" ry="2.7" fill="#3a2ad8" fill-opacity="0.71" transform="rotate(130 434 1320)"/><ellipse cx="507" cy="1319" rx="3.5" ry="2.1" fill="#3c3cff" fill-opacity="0.74" transform="rotate(51 507 1319)"/><ellipse cx="455" cy="1280" rx="3.3" ry="2.4" fill="#4a3ae8" fill-opacity="0.91" transform="rotate(24 455 1280)"/><ellipse cx="544" cy="1321" rx="4.6" ry="3.4" fill="#2e2ee8" fill-opacity="0.79" transform="rotate(77 544 1321)"/><ellipse cx="440" cy="1303" rx="3.9" ry="3.0" fill="#3a2ad8" fill-opacity="0.64" transform="rotate(130 440 1303)"/><ellipse cx="445" cy="1291" rx="2.9" ry="2.5" fill="#3a2ad8" fill-opacity="0.75" transform="rotate(85 445 1291)"/><ellipse cx="450" cy="1297" rx="2.7" ry="2.0" fill="#4a3ae8" fill-opacity="0.87" transform="rotate(97 450 1297)"/><ellipse cx="476" cy="1336" rx="4.6" ry="1.6" fill="#6050e0" fill-opacity="0.88" transform="rotate(12 476 1336)"/><ellipse cx="488" cy="1308" rx="2.9" ry="2.7" fill="#6050e0" fill-opacity="0.69" transform="rotate(53 488 1308)"/><ellipse cx="506" cy="1321" rx="3.3" ry="2.6" fill="#4a3ae8" fill-opacity="0.55" transform="rotate(68 506 1321)"/><ellipse cx="505" cy="1319" rx="4.0" ry="3.4" fill="#6050e0" fill-opacity="0.67" transform="rotate(123 505 1319)"/><ellipse cx="486" cy="1314" rx="4.1" ry="1.9" fill="#2e2ee8" fill-opacity="0.53" transform="rotate(91 486 1314)"/><ellipse cx="459" cy="1299" rx="3.9" ry="2.3" fill="#3a2ad8" fill-opacity="0.56" transform="rotate(42 459 1299)"/><ellipse cx="496" cy="1309" rx="4.0" ry="2.4" fill="#4a3ae8" fill-opacity="0.68" transform="rotate(16 496 1309)"/><ellipse cx="489" cy="1309" rx="2.7" ry="1.8" fill="#6050e0" fill-opacity="0.93" transform="rotate(98 489 1309)"/><ellipse cx="492" cy="1310" rx="5.0" ry="1.8" fill="#6050e0" fill-opacity="0.78" transform="rotate(164 492 1310)"/><ellipse cx="475" cy="1363" rx="3.6" ry="2.9" fill="#6050e0" fill-opacity="0.66" transform="rotate(127 475 1363)"/><ellipse cx="488" cy="1297" rx="3.1" ry="1.9" fill="#2e2ee8" fill-opacity="0.53" transform="rotate(7 488 1297)"/><ellipse cx="495" cy="1323" rx="4.5" ry="2.2" fill="#6050e0" fill-opacity="0.69" transform="rotate(160 495 1323)"/><ellipse cx="460" cy="1312" rx="3.0" ry="2.2" fill="#3c3cff" fill-opacity="0.67" transform="rotate(34 460 1312)"/><ellipse cx="478" cy="1315" rx="4.5" ry="1.6" fill="#3a2ad8" fill-opacity="0.90" transform="rotate(147 478 1315)"/><ellipse cx="467" cy="1304" rx="3.9" ry="3.4" fill="#6050e0" fill-opacity="0.55" transform="rotate(4 467 1304)"/><ellipse cx="540" cy="1322" rx="3.0" ry="1.5" fill="#4a3ae8" fill-opacity="0.52" transform="rotate(179 540 1322)"/><ellipse cx="612" cy="1303" rx="3.7" ry="1.9" fill="#5a48f0" fill-opacity="0.77" transform="rotate(122 612 1303)"/><ellipse cx="569" cy="1307" rx="4.1" ry="2.1" fill="#4a3ae8" fill-opacity="0.89" transform="rotate(38 569 1307)"/><ellipse cx="514" cy="1326" rx="3.9" ry="3.0" fill="#4a3ae8" fill-opacity="0.66" transform="rotate(31 514 1326)"/><ellipse cx="560" cy="1305" rx="4.8" ry="1.6" fill="#4a3ae8" fill-opacity="0.52" transform="rotate(145 560 1305)"/><ellipse cx="567" cy="1312" rx="3.3" ry="1.6" fill="#6050e0" fill-opacity="0.42" transform="rotate(150 567 1312)"/><ellipse cx="548" cy="1294" rx="2.7" ry="2.0" fill="#5a48f0" fill-opacity="0.45" transform="rotate(34 548 1294)"/><ellipse cx="509" cy="1297" rx="3.6" ry="2.0" fill="#4a3ae8" fill-opacity="0.61" transform="rotate(39 509 1297)"/><ellipse cx="553" cy="1279" rx="4.7" ry="3.0" fill="#6050e0" fill-opacity="0.68" transform="rotate(55 553 1279)"/><ellipse cx="616" cy="1334" rx="2.8" ry="2.3" fill="#3a2ad8" fill-opacity="0.64" transform="rotate(147 616 1334)"/><ellipse cx="616" cy="1313" rx="4.3" ry="1.6" fill="#6050e0" fill-opacity="0.50" transform="rotate(50 616 1313)"/><ellipse cx="575" cy="1313" rx="4.4" ry="2.3" fill="#6050e0" fill-opacity="0.85" transform="rotate(139 575 1313)"/><ellipse cx="531" cy="1309" rx="4.5" ry="1.5" fill="#3c3cff" fill-opacity="0.42" transform="rotate(147 531 1309)"/><ellipse cx="578" cy="1302" rx="3.3" ry="1.7" fill="#4a3ae8" fill-opacity="0.65" transform="rotate(23 578 1302)"/><ellipse cx="620" cy="1330" rx="2.8" ry="3.0" fill="#4a3ae8" fill-opacity="0.81" transform="rotate(100 620 1330)"/><ellipse cx="611" cy="1310" rx="2.8" ry="1.8" fill="#6050e0" fill-opacity="0.58" transform="rotate(42 611 1310)"/><ellipse cx="563" cy="1310" rx="4.1" ry="1.7" fill="#5a48f0" fill-opacity="0.78" transform="rotate(95 563 1310)"/><ellipse cx="588" cy="1329" rx="4.0" ry="1.8" fill="#6050e0" fill-opacity="0.42" transform="rotate(165 588 1329)"/><ellipse cx="474" cy="1308" rx="2.8" ry="2.8" fill="#4a3ae8" fill-opacity="0.74" transform="rotate(107 474 1308)"/><ellipse cx="610" cy="1323" rx="3.5" ry="1.8" fill="#3a2ad8" fill-opacity="0.54" transform="rotate(87 610 1323)"/><ellipse cx="571" cy="1287" rx="4.5" ry="2.5" fill="#5a48f0" fill-opacity="0.85" transform="rotate(66 571 1287)"/><ellipse cx="549" cy="1324" rx="3.5" ry="1.6" fill="#6050e0" fill-opacity="0.60" transform="rotate(150 549 1324)"/><ellipse cx="584" cy="1311" rx="3.7" ry="2.2" fill="#3a2ad8" fill-opacity="0.67" transform="rotate(143 584 1311)"/><ellipse cx="561" cy="1320" rx="4.1" ry="2.7" fill="#2e2ee8" fill-opacity="0.41" transform="rotate(92 561 1320)"/><ellipse cx="524" cy="1316" rx="3.5" ry="3.0" fill="#3c3cff" fill-opacity="0.81" transform="rotate(98 524 1316)"/><ellipse cx="484" cy="1414" rx="4.9" ry="3.0" fill="#7a68e0" fill-opacity="0.48" transform="rotate(65 484 1414)"/><ellipse cx="497" cy="1376" rx="3.6" ry="3.9" fill="#9080e0" fill-opacity="0.47" transform="rotate(155 497 1376)"/><ellipse cx="499" cy="1434" rx="5.6" ry="3.4" fill="#6a5ad8" fill-opacity="0.73" transform="rotate(173 499 1434)"/><ellipse cx="493" cy="1432" rx="5.9" ry="3.1" fill="#6a5ad8" fill-opacity="0.53" transform="rotate(22 493 1432)"/><ellipse cx="481" cy="1521" rx="5.7" ry="3.2" fill="#8a78e8" fill-opacity="0.52" transform="rotate(95 481 1521)"/><ellipse cx="492" cy="1508" rx="5.3" ry="2.2" fill="#6a5ad8" fill-opacity="0.78" transform="rotate(53 492 1508)"/><ellipse cx="493" cy="1487" rx="4.0" ry="2.9" fill="#9080e0" fill-opacity="0.59" transform="rotate(11 493 1487)"/><ellipse cx="489" cy="1504" rx="3.2" ry="2.1" fill="#6a5ad8" fill-opacity="0.40" transform="rotate(160 489 1504)"/><ellipse cx="490" cy="1444" rx="5.1" ry="2.1" fill="#6a5ad8" fill-opacity="0.57" transform="rotate(18 490 1444)"/><ellipse cx="490" cy="1501" rx="5.6" ry="3.2" fill="#8a78e8" fill-opacity="0.71" transform="rotate(116 490 1501)"/><ellipse cx="497" cy="1452" rx="3.8" ry="3.5" fill="#8a78e8" fill-opacity="0.61" transform="rotate(17 497 1452)"/><ellipse cx="499" cy="1470" rx="3.8" ry="3.6" fill="#7a68e0" fill-opacity="0.44" transform="rotate(128 499 1470)"/><ellipse cx="486" cy="1446" rx="3.4" ry="3.9" fill="#7a68e0" fill-opacity="0.56" transform="rotate(134 486 1446)"/><ellipse cx="492" cy="1501" rx="5.8" ry="2.1" fill="#6a5ad8" fill-opacity="0.69" transform="rotate(69 492 1501)"/><ellipse cx="508" cy="1503" rx="5.7" ry="2.8" fill="#8a78e8" fill-opacity="0.48" transform="rotate(180 508 1503)"/><ellipse cx="491" cy="1415" rx="4.3" ry="2.1" fill="#7a68e0" fill-opacity="0.54" transform="rotate(61 491 1415)"/><ellipse cx="507" cy="1513" rx="5.9" ry="3.1" fill="#9080e0" fill-opacity="0.52" transform="rotate(100 507 1513)"/><ellipse cx="492" cy="1436" rx="3.8" ry="2.0" fill="#8a78e8" fill-opacity="0.46" transform="rotate(15 492 1436)"/><ellipse cx="494" cy="1495" rx="5.9" ry="2.9" fill="#8a78e8" fill-opacity="0.56" transform="rotate(175 494 1495)"/><ellipse cx="478" cy="1480" rx="2.7" ry="2.8" fill="#7a68e0" fill-opacity="0.70" transform="rotate(85 478 1480)"/><ellipse cx="498" cy="1471" rx="5.7" ry="2.8" fill="#9080e0" fill-opacity="0.80" transform="rotate(130 498 1471)"/><ellipse cx="501" cy="1525" rx="6.0" ry="2.4" fill="#7a68e0" fill-opacity="0.54" transform="rotate(76 501 1525)"/><ellipse cx="492" cy="1501" rx="5.2" ry="2.2" fill="#8a78e8" fill-opacity="0.66" transform="rotate(114 492 1501)"/><ellipse cx="496" cy="1492" rx="5.9" ry="3.2" fill="#9080e0" fill-opacity="0.41" transform="rotate(3 496 1492)"/><ellipse cx="494" cy="1498" rx="2.8" ry="2.3" fill="#9080e0" fill-opacity="0.64" transform="rotate(33 494 1498)"/><ellipse cx="501" cy="1469" rx="3.5" ry="2.2" fill="#7a68e0" fill-opacity="0.53" transform="rotate(175 501 1469)"/><ellipse cx="483" cy="1494" rx="3.4" ry="3.1" fill="#8a78e8" fill-opacity="0.68" transform="rotate(157 483 1494)"/><ellipse cx="490" cy="1495" rx="4.0" ry="3.0" fill="#8a78e8" fill-opacity="0.62" transform="rotate(3 490 1495)"/><ellipse cx="498" cy="1402" rx="5.2" ry="3.1" fill="#6a5ad8" fill-opacity="0.55" transform="rotate(125 498 1402)"/><ellipse cx="502" cy="1412" rx="6.0" ry="2.6" fill="#9080e0" fill-opacity="0.42" transform="rotate(95 502 1412)"/><ellipse cx="568" cy="1483" rx="3.5" ry="3.3" fill="#2e2ee8" fill-opacity="0.72" transform="rotate(38 568 1483)"/><ellipse cx="575" cy="1502" rx="3.9" ry="2.6" fill="#2e2ee8" fill-opacity="0.62" transform="rotate(89 575 1502)"/><ellipse cx="567" cy="1497" rx="4.5" ry="2.5" fill="#3a2ad8" fill-opacity="0.66" transform="rotate(174 567 1497)"/><ellipse cx="576" cy="1463" rx="4.5" ry="2.9" fill="#3c3cff" fill-opacity="0.84" transform="rotate(70 576 1463)"/><ellipse cx="560" cy="1474" rx="3.9" ry="1.5" fill="#3a2ad8" fill-opacity="0.62" transform="rotate(162 560 1474)"/><ellipse cx="564" cy="1462" rx="2.8" ry="2.9" fill="#6050e0" fill-opacity="0.84" transform="rotate(5 564 1462)"/><ellipse cx="556" cy="1481" rx="4.2" ry="1.7" fill="#3c3cff" fill-opacity="0.63" transform="rotate(127 556 1481)"/><ellipse cx="583" cy="1480" rx="4.4" ry="2.0" fill="#6050e0" fill-opacity="0.72" transform="rotate(49 583 1480)"/><ellipse cx="551" cy="1484" rx="4.1" ry="3.4" fill="#5a48f0" fill-opacity="0.73" transform="rotate(84 551 1484)"/><ellipse cx="577" cy="1498" rx="3.6" ry="2.5" fill="#6050e0" fill-opacity="0.76" transform="rotate(14 577 1498)"/><ellipse cx="575" cy="1509" rx="4.8" ry="1.8" fill="#3a2ad8" fill-opacity="0.71" transform="rotate(168 575 1509)"/><ellipse cx="558" cy="1478" rx="4.6" ry="2.1" fill="#3a2ad8" fill-opacity="0.64" transform="rotate(76 558 1478)"/><ellipse cx="576" cy="1468" rx="4.1" ry="3.4" fill="#3c3cff" fill-opacity="0.65" transform="rotate(88 576 1468)"/><ellipse cx="585" cy="1511" rx="2.9" ry="3.1" fill="#2e2ee8" fill-opacity="0.82" transform="rotate(51 585 1511)"/><ellipse cx="569" cy="1473" rx="4.7" ry="2.1" fill="#3a2ad8" fill-opacity="0.72" transform="rotate(74 569 1473)"/><ellipse cx="577" cy="1495" rx="4.5" ry="3.3" fill="#4a3ae8" fill-opacity="0.80" transform="rotate(32 577 1495)"/><ellipse cx="578" cy="1497" rx="3.2" ry="1.7" fill="#2e2ee8" fill-opacity="0.80" transform="rotate(169 578 1497)"/><ellipse cx="566" cy="1490" rx="4.0" ry="1.7" fill="#4a3ae8" fill-opacity="0.86" transform="rotate(138 566 1490)"/><ellipse cx="563" cy="1494" rx="2.6" ry="3.3" fill="#6050e0" fill-opacity="0.99" transform="rotate(99 563 1494)"/><ellipse cx="577" cy="1479" rx="2.7" ry="2.1" fill="#2e2ee8" fill-opacity="0.94" transform="rotate(146 577 1479)"/><ellipse cx="551" cy="1504" rx="3.1" ry="1.8" fill="#2e2ee8" fill-opacity="0.85" transform="rotate(103 551 1504)"/><ellipse cx="571" cy="1461" rx="3.6" ry="3.4" fill="#5a48f0" fill-opacity="0.91" transform="rotate(24 571 1461)"/><ellipse cx="776" cy="1585" rx="3.7" ry="2.5" fill="#3030f0" fill-opacity="0.86" transform="rotate(90 776 1585)"/><ellipse cx="778" cy="1597" rx="5.0" ry="2.7" fill="#3030f0" fill-opacity="0.74" transform="rotate(106 778 1597)"/><ellipse cx="773" cy="1610" rx="4.9" ry="2.5" fill="#3030f0" fill-opacity="0.77" transform="rotate(123 773 1610)"/><ellipse cx="760" cy="1619" rx="3.1" ry="2.4" fill="#3030f0" fill-opacity="0.74" transform="rotate(172 760 1619)"/><ellipse cx="753" cy="1612" rx="4.6" ry="2.4" fill="#3030f0" fill-opacity="0.80" transform="rotate(188 753 1612)"/><ellipse cx="747" cy="1619" rx="4.6" ry="1.9" fill="#3030f0" fill-opacity="0.69" transform="rotate(205 747 1619)"/><ellipse cx="742" cy="1609" rx="3.6" ry="2.9" fill="#3030f0" fill-opacity="0.52" transform="rotate(221 742 1609)"/><ellipse cx="740" cy="1605" rx="5.9" ry="2.1" fill="#3030f0" fill-opacity="0.64" transform="rotate(237 740 1605)"/><ellipse cx="734" cy="1593" rx="4.4" ry="2.9" fill="#3030f0" fill-opacity="0.76" transform="rotate(254 734 1593)"/><ellipse cx="738" cy="1585" rx="5.4" ry="1.5" fill="#3030f0" fill-opacity="0.79" transform="rotate(270 738 1585)"/><ellipse cx="741" cy="1568" rx="4.4" ry="2.2" fill="#3030f0" fill-opacity="0.69" transform="rotate(303 741 1568)"/><ellipse cx="743" cy="1558" rx="5.9" ry="2.6" fill="#3030f0" fill-opacity="0.58" transform="rotate(319 743 1558)"/><ellipse cx="747" cy="1547" rx="5.0" ry="2.1" fill="#3030f0" fill-opacity="0.55" transform="rotate(335 747 1547)"/><ellipse cx="755" cy="1544" rx="4.9" ry="2.9" fill="#3030f0" fill-opacity="0.60" transform="rotate(352 755 1544)"/><ellipse cx="760" cy="1548" rx="5.8" ry="2.1" fill="#3030f0" fill-opacity="0.79" transform="rotate(368 760 1548)"/><ellipse cx="766" cy="1550" rx="4.7" ry="2.3" fill="#3030f0" fill-opacity="0.90" transform="rotate(385 766 1550)"/><ellipse cx="772" cy="1564" rx="5.7" ry="2.3" fill="#3030f0" fill-opacity="0.50" transform="rotate(401 772 1564)"/><ellipse cx="772" cy="1564" rx="3.6" ry="1.8" fill="#3030f0" fill-opacity="0.59" transform="rotate(417 772 1564)"/><ellipse cx="784" cy="1577" rx="4.4" ry="1.9" fill="#3030f0" fill-opacity="0.54" transform="rotate(434 784 1577)"/><ellipse cx="708" cy="1464" rx="3.6" ry="2.5" fill="#2e2ee8" fill-opacity="0.70" transform="rotate(129 708 1464)"/><ellipse cx="658" cy="1596" rx="3.5" ry="2.1" fill="#4a3ae8" fill-opacity="0.52" transform="rotate(96 658 1596)"/><ellipse cx="661" cy="1591" rx="5.7" ry="2.5" fill="#4a3ae8" fill-opacity="0.60" transform="rotate(30 661 1591)"/><ellipse cx="728" cy="1561" rx="5.3" ry="2.5" fill="#2e2ee8" fill-opacity="0.89" transform="rotate(49 728 1561)"/><ellipse cx="711" cy="1582" rx="5.5" ry="2.8" fill="#6050e0" fill-opacity="0.75" transform="rotate(143 711 1582)"/><ellipse cx="688" cy="1480" rx="5.0" ry="2.7" fill="#3c3cff" fill-opacity="0.59" transform="rotate(105 688 1480)"/><ellipse cx="656" cy="1610" rx="5.4" ry="2.4" fill="#3a2ad8" fill-opacity="0.58" transform="rotate(109 656 1610)"/><ellipse cx="729" cy="1484" rx="5.9" ry="2.8" fill="#6050e0" fill-opacity="0.65" transform="rotate(126 729 1484)"/><ellipse cx="636" cy="1606" rx="4.8" ry="2.6" fill="#3c3cff" fill-opacity="0.71" transform="rotate(178 636 1606)"/><ellipse cx="707" cy="1482" rx="3.5" ry="2.1" fill="#6050e0" fill-opacity="0.70" transform="rotate(174 707 1482)"/><ellipse cx="651" cy="1606" rx="4.5" ry="1.6" fill="#2e2ee8" fill-opacity="0.79" transform="rotate(93 651 1606)"/><ellipse cx="661" cy="1591" rx="3.9" ry="2.5" fill="#4a3ae8" fill-opacity="0.56" transform="rotate(58 661 1591)"/><ellipse cx="671" cy="1577" rx="3.1" ry="2.3" fill="#4a3ae8" fill-opacity="0.71" transform="rotate(123 671 1577)"/><ellipse cx="628" cy="1614" rx="4.6" ry="2.8" fill="#3c3cff" fill-opacity="0.87" transform="rotate(103 628 1614)"/><ellipse cx="688" cy="1600" rx="4.9" ry="2.1" fill="#3a2ad8" fill-opacity="0.94" transform="rotate(17 688 1600)"/><ellipse cx="678" cy="1470" rx="4.0" ry="2.5" fill="#6050e0" fill-opacity="0.70" transform="rotate(18 678 1470)"/><ellipse cx="613" cy="1588" rx="5.5" ry="2.3" fill="#6050e0" fill-opacity="0.66" transform="rotate(56 613 1588)"/><ellipse cx="676" cy="1510" rx="3.4" ry="1.6" fill="#6050e0" fill-opacity="0.65" transform="rotate(131 676 1510)"/><ellipse cx="457" cy="1556" rx="2.3" ry="1.5" fill="#2e2ee8" fill-opacity="0.38" transform="rotate(76 457 1556)"/><ellipse cx="548" cy="1480" rx="4.3" ry="1.6" fill="#3c3cff" fill-opacity="0.34" transform="rotate(106 548 1480)"/><ellipse cx="658" cy="1382" rx="3.1" ry="1.9" fill="#4a3ae8" fill-opacity="0.68" transform="rotate(118 658 1382)"/><ellipse cx="625" cy="1629" rx="4.1" ry="2.4" fill="#6050e0" fill-opacity="0.77" transform="rotate(102 625 1629)"/><ellipse cx="505" cy="1448" rx="2.2" ry="2.2" fill="#2e2ee8" fill-opacity="0.45" transform="rotate(58 505 1448)"/><ellipse cx="759" cy="1402" rx="3.0" ry="2.8" fill="#4a3ae8" fill-opacity="0.85" transform="rotate(113 759 1402)"/><ellipse cx="489" cy="1543" rx="2.9" ry="1.8" fill="#6050e0" fill-opacity="0.84" transform="rotate(131 489 1543)"/><ellipse cx="447" cy="1520" rx="3.5" ry="2.2" fill="#5a48f0" fill-opacity="0.64" transform="rotate(57 447 1520)"/><ellipse cx="599" cy="1383" rx="3.6" ry="1.9" fill="#5a48f0" fill-opacity="0.57" transform="rotate(6 599 1383)"/><ellipse cx="643" cy="1458" rx="2.8" ry="2.0" fill="#2e2ee8" fill-opacity="0.64" transform="rotate(162 643 1458)"/><ellipse cx="500" cy="1607" rx="2.1" ry="2.2" fill="#6050e0" fill-opacity="0.41" transform="rotate(8 500 1607)"/><ellipse cx="759" cy="1627" rx="2.6" ry="2.2" fill="#3a2ad8" fill-opacity="0.32" transform="rotate(59 759 1627)"/><ellipse cx="486" cy="1350" rx="2.3" ry="2.8" fill="#3a2ad8" fill-opacity="0.65" transform="rotate(177 486 1350)"/><ellipse cx="708" cy="1594" rx="4.0" ry="1.9" fill="#3a2ad8" fill-opacity="0.39" transform="rotate(105 708 1594)"/><ellipse cx="536" cy="1307" rx="4.4" ry="2.8" fill="#3c3cff" fill-opacity="0.72" transform="rotate(32 536 1307)"/><ellipse cx="605" cy="1364" rx="3.8" ry="2.9" fill="#3c3cff" fill-opacity="0.61" transform="rotate(10 605 1364)"/><ellipse cx="575" cy="1482" rx="3.7" ry="1.5" fill="#4a3ae8" fill-opacity="0.38" transform="rotate(51 575 1482)"/><ellipse cx="698" cy="1604" rx="4.4" ry="2.2" fill="#5a48f0" fill-opacity="0.76" transform="rotate(58 698 1604)"/><ellipse cx="699" cy="1489" rx="2.9" ry="1.9" fill="#6050e0" fill-opacity="0.42" transform="rotate(58 699 1489)"/><ellipse cx="732" cy="1486" rx="2.0" ry="2.4" fill="#3c3cff" fill-opacity="0.43" transform="rotate(82 732 1486)"/><ellipse cx="446" cy="1389" rx="3.0" ry="2.5" fill="#5a48f0" fill-opacity="0.42" transform="rotate(41 446 1389)"/><ellipse cx="732" cy="1332" rx="2.3" ry="2.4" fill="#5a48f0" fill-opacity="0.69" transform="rotate(137 732 1332)"/><ellipse cx="694" cy="1453" rx="2.8" ry="1.9" fill="#3c3cff" fill-opacity="0.63" transform="rotate(157 694 1453)"/><ellipse cx="646" cy="1561" rx="3.9" ry="2.0" fill="#3c3cff" fill-opacity="0.56" transform="rotate(117 646 1561)"/><ellipse cx="623" cy="1574" rx="2.4" ry="1.7" fill="#2e2ee8" fill-opacity="0.73" transform="rotate(54 623 1574)"/><ellipse cx="574" cy="1574" rx="3.6" ry="1.7" fill="#2e2ee8" fill-opacity="0.55" transform="rotate(153 574 1574)"/><ellipse cx="636" cy="1351" rx="4.3" ry="1.8" fill="#4a3ae8" fill-opacity="0.60" transform="rotate(18 636 1351)"/><ellipse cx="512" cy="1532" rx="2.2" ry="2.0" fill="#3a2ad8" fill-opacity="0.68" transform="rotate(50 512 1532)"/><ellipse cx="658" cy="1291" rx="4.0" ry="2.1" fill="#3a2ad8" fill-opacity="0.74" transform="rotate(41 658 1291)"/><ellipse cx="467" cy="1421" rx="3.7" ry="2.6" fill="#6050e0" fill-opacity="0.56" transform="rotate(176 467 1421)"/><ellipse cx="628" cy="1551" rx="3.5" ry="1.8" fill="#2e2ee8" fill-opacity="0.72" transform="rotate(172 628 1551)"/><ellipse cx="532" cy="1458" rx="3.5" ry="2.4" fill="#6050e0" fill-opacity="0.67" transform="rotate(32 532 1458)"/><ellipse cx="761" cy="1529" rx="4.3" ry="2.3" fill="#3c3cff" fill-opacity="0.73" transform="rotate(128 761 1529)"/><ellipse cx="670" cy="1382" rx="3.2" ry="2.3" fill="#6050e0" fill-opacity="0.70" transform="rotate(177 670 1382)"/><ellipse cx="706" cy="1446" rx="3.6" ry="1.9" fill="#6050e0" fill-opacity="0.43" transform="rotate(169 706 1446)"/><ellipse cx="687" cy="1360" rx="3.9" ry="2.5" fill="#4a3ae8" fill-opacity="0.60" transform="rotate(26 687 1360)"/><ellipse cx="714" cy="1582" rx="3.7" ry="2.5" fill="#6050e0" fill-opacity="0.38" transform="rotate(26 714 1582)"/><ellipse cx="482" cy="1300" rx="3.1" ry="1.8" fill="#6050e0" fill-opacity="0.37" transform="rotate(137 482 1300)"/><ellipse cx="451" cy="1557" rx="3.3" ry="2.6" fill="#3c3cff" fill-opacity="0.49" transform="rotate(78 451 1557)"/><ellipse cx="521" cy="1341" rx="4.2" ry="2.0" fill="#3c3cff" fill-opacity="0.72" transform="rotate(92 521 1341)"/><ellipse cx="645" cy="1287" rx="2.5" ry="2.9" fill="#5a48f0" fill-opacity="0.45" transform="rotate(178 645 1287)"/><ellipse cx="546" cy="1565" rx="2.2" ry="2.2" fill="#3c3cff" fill-opacity="0.81" transform="rotate(43 546 1565)"/><ellipse cx="524" cy="1427" rx="2.0" ry="1.7" fill="#6050e0" fill-opacity="0.38" transform="rotate(39 524 1427)"/><ellipse cx="552" cy="1550" rx="3.9" ry="3.0" fill="#3a2ad8" fill-opacity="0.36" transform="rotate(170 552 1550)"/><ellipse cx="635" cy="1372" rx="2.7" ry="1.7" fill="#3c3cff" fill-opacity="0.73" transform="rotate(96 635 1372)"/><ellipse cx="572" cy="1497" rx="4" ry="3" fill="#ffffa0"/><ellipse cx="587" cy="1499" rx="4" ry="3" fill="#f0f0c0"/><ellipse cx="764" cy="1397" rx="4" ry="4" fill="#d8e890" fill-opacity="0.8"/><ellipse cx="590" cy="1557" rx="3" ry="2" fill="#e0e0a0" fill-opacity="0.7"/><ellipse cx="645" cy="1318" rx="3" ry="3" fill="#d8e890" fill-opacity="0.7"/><ellipse cx="566" cy="1519" rx="3" ry="3" fill="#e8e8b0" fill-opacity="0.7"/></g></g>
<line x1="469.4" y1="1609.3" x2="512" y2="1609.3" stroke="#fff" stroke-width="1.6"/>
<circle cx="469.4" cy="1609.3" r="1.8" fill="#fff"/><circle cx="512" cy="1609.3" r="1.8" fill="#fff"/>
<text x="490.7" y="1616.3" font-family="'Liberation Sans', Arial, sans-serif" font-size="5" font-weight="normal" fill="#fff" text-anchor="middle">50 µm</text>
<text x="778.6" y="1308.8" font-family="'Liberation Sans', Arial, sans-serif" font-size="29.5" font-weight="normal" fill="#06c4fc" text-anchor="end">DAPI</text>
<text x="780.5" y="1342.7" font-family="'Liberation Sans', Arial, sans-serif" font-size="30" font-weight="normal" fill="#fcfc6c" text-anchor="end">CD14</text>
<clipPath id="im3"><rect x="892.4" y="1280.5" width="329.6" height="352.5"/></clipPath>
<g clip-path="url(#im3)"><rect x="892.4" y="1280.5" width="329.6" height="352.5" fill="#000"/><g filter="url(#bl)"><ellipse cx="971" cy="1472" rx="2.8" ry="2.1" fill="#0808a0" fill-opacity="0.78" transform="rotate(67 971 1472)"/><ellipse cx="1192" cy="1446" rx="4.0" ry="1.9" fill="#1414ff" fill-opacity="0.91" transform="rotate(99 1192 1446)"/><ellipse cx="1049" cy="1506" rx="3.7" ry="2.0" fill="#1414ff" fill-opacity="0.86" transform="rotate(27 1049 1506)"/><ellipse cx="1114" cy="1303" rx="1.9" ry="2.3" fill="#0808a0" fill-opacity="0.90" transform="rotate(136 1114 1303)"/><ellipse cx="981" cy="1490" rx="3.4" ry="2.5" fill="#2020ff" fill-opacity="0.67" transform="rotate(166 981 1490)"/><ellipse cx="1156" cy="1437" rx="2.0" ry="1.5" fill="#0a0ac4" fill-opacity="0.57" transform="rotate(168 1156 1437)"/><ellipse cx="1211" cy="1434" rx="2.7" ry="2.4" fill="#0a0ac4" fill-opacity="0.77" transform="rotate(113 1211 1434)"/><ellipse cx="1068" cy="1424" rx="3.3" ry="2.5" fill="#0a0ac4" fill-opacity="0.92" transform="rotate(42 1068 1424)"/><ellipse cx="1219" cy="1517" rx="3.9" ry="2.5" fill="#0a0ac4" fill-opacity="0.76" transform="rotate(29 1219 1517)"/><ellipse cx="1128" cy="1355" rx="2.4" ry="1.5" fill="#0808a0" fill-opacity="0.72" transform="rotate(150 1128 1355)"/><ellipse cx="1103" cy="1451" rx="2.7" ry="1.5" fill="#0c0ce8" fill-opacity="0.61" transform="rotate(62 1103 1451)"/><ellipse cx="1146" cy="1588" rx="3.5" ry="1.8" fill="#0808a0" fill-opacity="0.77" transform="rotate(8 1146 1588)"/><ellipse cx="1074" cy="1605" rx="4.0" ry="1.7" fill="#1414ff" fill-opacity="0.49" transform="rotate(50 1074 1605)"/><ellipse cx="1090" cy="1291" rx="2.4" ry="1.6" fill="#2020ff" fill-opacity="0.83" transform="rotate(36 1090 1291)"/><ellipse cx="1215" cy="1400" rx="3.8" ry="1.8" fill="#1414ff" fill-opacity="0.70" transform="rotate(65 1215 1400)"/><ellipse cx="1064" cy="1507" rx="2.0" ry="2.6" fill="#0808a0" fill-opacity="0.90" transform="rotate(107 1064 1507)"/><ellipse cx="982" cy="1504" rx="2.8" ry="1.6" fill="#0a0ac4" fill-opacity="0.62" transform="rotate(129 982 1504)"/><ellipse cx="1004" cy="1558" rx="1.8" ry="2.1" fill="#0a0ac4" fill-opacity="0.80" transform="rotate(178 1004 1558)"/><ellipse cx="912" cy="1501" rx="3.1" ry="1.7" fill="#0a0ac4" fill-opacity="0.72" transform="rotate(84 912 1501)"/><ellipse cx="1086" cy="1617" rx="2.4" ry="1.9" fill="#0a0ac4" fill-opacity="0.78" transform="rotate(4 1086 1617)"/><ellipse cx="998" cy="1408" rx="3.7" ry="1.6" fill="#0a0ac4" fill-opacity="0.88" transform="rotate(56 998 1408)"/><ellipse cx="927" cy="1567" rx="2.5" ry="1.6" fill="#1414ff" fill-opacity="0.89" transform="rotate(175 927 1567)"/><ellipse cx="971" cy="1346" rx="2.0" ry="1.7" fill="#0c0ce8" fill-opacity="0.63" transform="rotate(78 971 1346)"/><ellipse cx="1167" cy="1435" rx="2.0" ry="2.3" fill="#1414ff" fill-opacity="0.57" transform="rotate(154 1167 1435)"/><ellipse cx="1080" cy="1376" rx="3.0" ry="1.5" fill="#0c0ce8" fill-opacity="0.89" transform="rotate(142 1080 1376)"/><ellipse cx="1169" cy="1345" rx="3.6" ry="1.7" fill="#0c0ce8" fill-opacity="0.52" transform="rotate(50 1169 1345)"/><ellipse cx="988" cy="1560" rx="3.2" ry="1.7" fill="#0a0ac4" fill-opacity="0.76" transform="rotate(49 988 1560)"/><ellipse cx="904" cy="1426" rx="3.9" ry="2.4" fill="#2020ff" fill-opacity="0.99" transform="rotate(36 904 1426)"/><ellipse cx="1035" cy="1615" rx="1.9" ry="1.9" fill="#1414ff" fill-opacity="0.86" transform="rotate(167 1035 1615)"/><ellipse cx="1139" cy="1620" rx="3.7" ry="2.4" fill="#1414ff" fill-opacity="0.98" transform="rotate(98 1139 1620)"/><ellipse cx="932" cy="1366" rx="3.8" ry="2.5" fill="#0808a0" fill-opacity="0.94" transform="rotate(6 932 1366)"/><ellipse cx="1082" cy="1285" rx="2.9" ry="1.6" fill="#1414ff" fill-opacity="0.46" transform="rotate(134 1082 1285)"/><ellipse cx="1069" cy="1299" rx="2.6" ry="1.6" fill="#0c0ce8" fill-opacity="0.92" transform="rotate(164 1069 1299)"/><ellipse cx="1049" cy="1556" rx="2.1" ry="2.5" fill="#1414ff" fill-opacity="0.52" transform="rotate(63 1049 1556)"/><ellipse cx="971" cy="1377" rx="3.6" ry="1.3" fill="#1414ff" fill-opacity="0.80" transform="rotate(160 971 1377)"/><ellipse cx="1177" cy="1298" rx="3.2" ry="2.0" fill="#0a0ac4" fill-opacity="0.48" transform="rotate(49 1177 1298)"/><ellipse cx="999" cy="1569" rx="1.9" ry="1.4" fill="#1414ff" fill-opacity="0.72" transform="rotate(154 999 1569)"/><ellipse cx="903" cy="1532" rx="2.5" ry="1.7" fill="#2020ff" fill-opacity="0.64" transform="rotate(93 903 1532)"/><ellipse cx="1105" cy="1487" rx="4.0" ry="1.9" fill="#1414ff" fill-opacity="0.52" transform="rotate(65 1105 1487)"/><ellipse cx="893" cy="1535" rx="2.2" ry="1.8" fill="#0808a0" fill-opacity="0.78" transform="rotate(143 893 1535)"/><ellipse cx="1150" cy="1414" rx="3.8" ry="1.4" fill="#0808a0" fill-opacity="0.80" transform="rotate(144 1150 1414)"/><ellipse cx="1143" cy="1391" rx="2.8" ry="1.6" fill="#2020ff" fill-opacity="0.74" transform="rotate(171 1143 1391)"/><ellipse cx="1121" cy="1305" rx="2.1" ry="1.3" fill="#2020ff" fill-opacity="0.63" transform="rotate(76 1121 1305)"/><ellipse cx="1212" cy="1477" rx="2.8" ry="1.5" fill="#0c0ce8" fill-opacity="0.90" transform="rotate(157 1212 1477)"/><ellipse cx="1111" cy="1593" rx="3.4" ry="2.0" fill="#0c0ce8" fill-opacity="0.51" transform="rotate(143 1111 1593)"/><ellipse cx="1086" cy="1282" rx="1.9" ry="1.4" fill="#2020ff" fill-opacity="0.50" transform="rotate(26 1086 1282)"/><ellipse cx="1183" cy="1343" rx="1.9" ry="1.4" fill="#0c0ce8" fill-opacity="0.72" transform="rotate(4 1183 1343)"/><ellipse cx="1122" cy="1380" rx="1.9" ry="2.3" fill="#0c0ce8" fill-opacity="0.73" transform="rotate(54 1122 1380)"/><ellipse cx="1128" cy="1318" rx="1.9" ry="1.7" fill="#0808a0" fill-opacity="0.76" transform="rotate(135 1128 1318)"/><ellipse cx="1165" cy="1365" rx="2.8" ry="2.2" fill="#1414ff" fill-opacity="0.97" transform="rotate(32 1165 1365)"/><ellipse cx="975" cy="1492" rx="2.7" ry="1.4" fill="#0808a0" fill-opacity="0.73" transform="rotate(169 975 1492)"/><ellipse cx="1213" cy="1426" rx="2.7" ry="2.0" fill="#1414ff" fill-opacity="0.77" transform="rotate(135 1213 1426)"/><ellipse cx="1197" cy="1522" rx="3.8" ry="1.5" fill="#2020ff" fill-opacity="0.50" transform="rotate(28 1197 1522)"/><ellipse cx="1139" cy="1604" rx="3.1" ry="2.4" fill="#2020ff" fill-opacity="0.52" transform="rotate(93 1139 1604)"/><ellipse cx="1140" cy="1332" rx="3.7" ry="2.0" fill="#1414ff" fill-opacity="0.88" transform="rotate(93 1140 1332)"/><ellipse cx="1114" cy="1582" rx="3.1" ry="1.6" fill="#0808a0" fill-opacity="0.57" transform="rotate(107 1114 1582)"/><ellipse cx="900" cy="1449" rx="3.1" ry="1.6" fill="#1414ff" fill-opacity="0.72" transform="rotate(69 900 1449)"/><ellipse cx="1177" cy="1428" rx="2.3" ry="2.1" fill="#0808a0" fill-opacity="0.95" transform="rotate(126 1177 1428)"/><ellipse cx="1107" cy="1290" rx="3.7" ry="1.8" fill="#0c0ce8" fill-opacity="0.85" transform="rotate(179 1107 1290)"/><ellipse cx="1209" cy="1445" rx="3.2" ry="2.3" fill="#1414ff" fill-opacity="0.49" transform="rotate(41 1209 1445)"/><ellipse cx="964" cy="1370" rx="2.1" ry="2.1" fill="#0a0ac4" fill-opacity="0.82" transform="rotate(160 964 1370)"/><ellipse cx="904" cy="1610" rx="2.5" ry="1.9" fill="#0c0ce8" fill-opacity="0.85" transform="rotate(31 904 1610)"/><ellipse cx="920" cy="1313" rx="1.9" ry="1.9" fill="#0a0ac4" fill-opacity="0.85" transform="rotate(150 920 1313)"/><ellipse cx="1003" cy="1290" rx="2.9" ry="1.6" fill="#2020ff" fill-opacity="0.77" transform="rotate(60 1003 1290)"/><ellipse cx="1207" cy="1418" rx="3.7" ry="1.4" fill="#0c0ce8" fill-opacity="0.69" transform="rotate(98 1207 1418)"/><ellipse cx="1037" cy="1466" rx="3.9" ry="1.8" fill="#0808a0" fill-opacity="0.87" transform="rotate(45 1037 1466)"/><ellipse cx="1142" cy="1384" rx="2.0" ry="2.5" fill="#0a0ac4" fill-opacity="0.64" transform="rotate(122 1142 1384)"/><ellipse cx="1079" cy="1466" rx="2.6" ry="2.2" fill="#0808a0" fill-opacity="0.82" transform="rotate(120 1079 1466)"/><ellipse cx="1079" cy="1344" rx="2.2" ry="2.5" fill="#1414ff" fill-opacity="0.81" transform="rotate(116 1079 1344)"/><ellipse cx="933" cy="1609" rx="3.2" ry="2.1" fill="#0a0ac4" fill-opacity="0.68" transform="rotate(25 933 1609)"/><ellipse cx="991" cy="1346" rx="3.4" ry="1.4" fill="#1414ff" fill-opacity="0.55" transform="rotate(87 991 1346)"/><ellipse cx="1075" cy="1483" rx="2.4" ry="1.8" fill="#0c0ce8" fill-opacity="0.93" transform="rotate(71 1075 1483)"/><ellipse cx="906" cy="1458" rx="2.6" ry="1.7" fill="#0808a0" fill-opacity="0.67" transform="rotate(44 906 1458)"/><ellipse cx="1071" cy="1552" rx="2.1" ry="2.1" fill="#0c0ce8" fill-opacity="0.82" transform="rotate(64 1071 1552)"/><ellipse cx="1078" cy="1601" rx="3.0" ry="2.2" fill="#1414ff" fill-opacity="0.67" transform="rotate(20 1078 1601)"/><ellipse cx="1217" cy="1325" rx="3.6" ry="2.0" fill="#2020ff" fill-opacity="0.54" transform="rotate(109 1217 1325)"/><ellipse cx="951" cy="1587" rx="1.9" ry="2.3" fill="#0a0ac4" fill-opacity="0.94" transform="rotate(67 951 1587)"/><ellipse cx="1205" cy="1415" rx="2.5" ry="1.9" fill="#0808a0" fill-opacity="0.74" transform="rotate(99 1205 1415)"/><ellipse cx="1125" cy="1596" rx="3.1" ry="2.2" fill="#0c0ce8" fill-opacity="0.45" transform="rotate(120 1125 1596)"/><ellipse cx="1146" cy="1514" rx="3.2" ry="1.6" fill="#0808a0" fill-opacity="0.88" transform="rotate(89 1146 1514)"/><ellipse cx="962" cy="1567" rx="2.0" ry="1.7" fill="#2020ff" fill-opacity="0.81" transform="rotate(167 962 1567)"/><ellipse cx="942" cy="1445" rx="1.9" ry="2.1" fill="#0c0ce8" fill-opacity="0.73" transform="rotate(16 942 1445)"/><ellipse cx="1057" cy="1287" rx="3.7" ry="2.2" fill="#0a0ac4" fill-opacity="0.52" transform="rotate(61 1057 1287)"/><ellipse cx="1175" cy="1492" rx="3.4" ry="1.7" fill="#0c0ce8" fill-opacity="0.89" transform="rotate(167 1175 1492)"/><ellipse cx="1199" cy="1584" rx="2.9" ry="1.4" fill="#1414ff" fill-opacity="0.47" transform="rotate(79 1199 1584)"/><ellipse cx="918" cy="1351" rx="2.8" ry="1.4" fill="#2020ff" fill-opacity="0.92" transform="rotate(29 918 1351)"/><ellipse cx="961" cy="1453" rx="3.5" ry="1.8" fill="#2020ff" fill-opacity="0.55" transform="rotate(4 961 1453)"/><ellipse cx="1189" cy="1534" rx="2.8" ry="1.8" fill="#0a0ac4" fill-opacity="0.67" transform="rotate(66 1189 1534)"/><ellipse cx="1212" cy="1564" rx="2.1" ry="1.9" fill="#0a0ac4" fill-opacity="0.56" transform="rotate(47 1212 1564)"/><ellipse cx="961" cy="1340" rx="3.2" ry="1.5" fill="#1414ff" fill-opacity="0.78" transform="rotate(73 961 1340)"/><ellipse cx="1038" cy="1345" rx="2.8" ry="1.8" fill="#2020ff" fill-opacity="0.84" transform="rotate(151 1038 1345)"/><ellipse cx="909" cy="1422" rx="3.8" ry="2.4" fill="#0c0ce8" fill-opacity="0.58" transform="rotate(71 909 1422)"/><ellipse cx="1020" cy="1347" rx="2.6" ry="1.5" fill="#0c0ce8" fill-opacity="0.48" transform="rotate(60 1020 1347)"/><ellipse cx="1132" cy="1377" rx="3.5" ry="2.6" fill="#2020ff" fill-opacity="0.72" transform="rotate(142 1132 1377)"/><ellipse cx="1077" cy="1291" rx="2.5" ry="1.4" fill="#0a0ac4" fill-opacity="0.69" transform="rotate(61 1077 1291)"/><ellipse cx="921" cy="1498" rx="1.8" ry="2.0" fill="#0c0ce8" fill-opacity="0.72" transform="rotate(19 921 1498)"/><ellipse cx="954" cy="1460" rx="2.5" ry="1.9" fill="#2020ff" fill-opacity="0.64" transform="rotate(60 954 1460)"/><ellipse cx="1109" cy="1415" rx="2.0" ry="1.7" fill="#2020ff" fill-opacity="0.92" transform="rotate(135 1109 1415)"/><ellipse cx="930" cy="1418" rx="2.2" ry="2.3" fill="#2020ff" fill-opacity="0.85" transform="rotate(60 930 1418)"/><ellipse cx="1168" cy="1475" rx="3.6" ry="1.9" fill="#0a0ac4" fill-opacity="0.69" transform="rotate(166 1168 1475)"/><ellipse cx="1124" cy="1402" rx="3.4" ry="2.1" fill="#0808a0" fill-opacity="0.84" transform="rotate(148 1124 1402)"/><ellipse cx="1020" cy="1452" rx="3.6" ry="1.4" fill="#0c0ce8" fill-opacity="0.83" transform="rotate(28 1020 1452)"/><ellipse cx="1110" cy="1393" rx="3.7" ry="2.4" fill="#0c0ce8" fill-opacity="0.70" transform="rotate(108 1110 1393)"/><ellipse cx="1188" cy="1539" rx="1.8" ry="1.6" fill="#0a0ac4" fill-opacity="0.88" transform="rotate(60 1188 1539)"/><ellipse cx="1194" cy="1399" rx="2.0" ry="2.1" fill="#2020ff" fill-opacity="0.58" transform="rotate(56 1194 1399)"/><ellipse cx="908" cy="1334" rx="4.0" ry="1.4" fill="#0808a0" fill-opacity="0.61" transform="rotate(116 908 1334)"/><ellipse cx="961" cy="1580" rx="3.5" ry="2.1" fill="#0808a0" fill-opacity="0.88" transform="rotate(93 961 1580)"/><ellipse cx="1069" cy="1346" rx="1.9" ry="2.3" fill="#0c0ce8" fill-opacity="0.78" transform="rotate(32 1069 1346)"/><ellipse cx="1175" cy="1316" rx="2.0" ry="1.9" fill="#0a0ac4" fill-opacity="0.57" transform="rotate(170 1175 1316)"/><ellipse cx="1166" cy="1497" rx="2.7" ry="2.2" fill="#0a0ac4" fill-opacity="0.88" transform="rotate(116 1166 1497)"/><ellipse cx="988" cy="1614" rx="2.3" ry="2.0" fill="#2020ff" fill-opacity="0.71" transform="rotate(80 988 1614)"/><ellipse cx="1132" cy="1307" rx="3.5" ry="2.5" fill="#2020ff" fill-opacity="0.83" transform="rotate(62 1132 1307)"/><ellipse cx="1012" cy="1557" rx="2.3" ry="1.8" fill="#0808a0" fill-opacity="1.00" transform="rotate(12 1012 1557)"/><ellipse cx="1003" cy="1432" rx="2.5" ry="2.3" fill="#1414ff" fill-opacity="0.56" transform="rotate(15 1003 1432)"/><ellipse cx="964" cy="1589" rx="3.8" ry="2.0" fill="#2020ff" fill-opacity="0.68" transform="rotate(132 964 1589)"/><ellipse cx="1205" cy="1599" rx="3.8" ry="2.6" fill="#2020ff" fill-opacity="0.71" transform="rotate(171 1205 1599)"/><ellipse cx="1086" cy="1292" rx="2.2" ry="1.4" fill="#0c0ce8" fill-opacity="0.85" transform="rotate(172 1086 1292)"/><ellipse cx="989" cy="1463" rx="2.2" ry="1.6" fill="#0c0ce8" fill-opacity="0.72" transform="rotate(115 989 1463)"/><ellipse cx="904" cy="1445" rx="2.1" ry="1.9" fill="#0a0ac4" fill-opacity="0.95" transform="rotate(35 904 1445)"/><ellipse cx="1038" cy="1353" rx="3.9" ry="2.6" fill="#0a0ac4" fill-opacity="0.93" transform="rotate(88 1038 1353)"/><ellipse cx="1015" cy="1337" rx="2.8" ry="2.6" fill="#2020ff" fill-opacity="0.57" transform="rotate(56 1015 1337)"/><ellipse cx="1208" cy="1382" rx="3.8" ry="2.3" fill="#0a0ac4" fill-opacity="0.61" transform="rotate(5 1208 1382)"/><ellipse cx="972" cy="1565" rx="3.2" ry="1.5" fill="#1414ff" fill-opacity="0.46" transform="rotate(2 972 1565)"/><ellipse cx="1206" cy="1281" rx="2.6" ry="2.6" fill="#2020ff" fill-opacity="0.65" transform="rotate(177 1206 1281)"/><ellipse cx="1074" cy="1453" rx="2.8" ry="1.7" fill="#0a0ac4" fill-opacity="0.48" transform="rotate(43 1074 1453)"/><ellipse cx="1072" cy="1313" rx="3.3" ry="1.9" fill="#1414ff" fill-opacity="0.85" transform="rotate(56 1072 1313)"/><ellipse cx="1004" cy="1290" rx="3.8" ry="2.4" fill="#1414ff" fill-opacity="0.59" transform="rotate(7 1004 1290)"/><ellipse cx="937" cy="1548" rx="3.5" ry="1.7" fill="#0808a0" fill-opacity="0.52" transform="rotate(142 937 1548)"/><ellipse cx="897" cy="1296" rx="3.8" ry="2.5" fill="#0c0ce8" fill-opacity="0.71" transform="rotate(87 897 1296)"/><ellipse cx="1112" cy="1608" rx="2.9" ry="1.8" fill="#0808a0" fill-opacity="0.80" transform="rotate(147 1112 1608)"/><ellipse cx="989" cy="1306" rx="2.0" ry="2.3" fill="#0808a0" fill-opacity="0.69" transform="rotate(25 989 1306)"/><ellipse cx="984" cy="1370" rx="2.1" ry="1.7" fill="#0808a0" fill-opacity="0.74" transform="rotate(51 984 1370)"/><ellipse cx="1028" cy="1580" rx="3.1" ry="1.3" fill="#0808a0" fill-opacity="0.77" transform="rotate(149 1028 1580)"/><ellipse cx="1073" cy="1452" rx="2.0" ry="2.2" fill="#0a0ac4" fill-opacity="0.65" transform="rotate(50 1073 1452)"/><ellipse cx="1062" cy="1596" rx="2.2" ry="2.5" fill="#2020ff" fill-opacity="0.55" transform="rotate(173 1062 1596)"/><ellipse cx="1018" cy="1572" rx="2.3" ry="1.3" fill="#0a0ac4" fill-opacity="0.62" transform="rotate(57 1018 1572)"/><ellipse cx="1093" cy="1476" rx="2.4" ry="2.6" fill="#2020ff" fill-opacity="0.49" transform="rotate(6 1093 1476)"/><ellipse cx="968" cy="1351" rx="2.1" ry="2.1" fill="#0808a0" fill-opacity="0.52" transform="rotate(14 968 1351)"/><ellipse cx="1169" cy="1591" rx="2.7" ry="2.6" fill="#0c0ce8" fill-opacity="0.70" transform="rotate(170 1169 1591)"/><ellipse cx="988" cy="1478" rx="3.9" ry="1.5" fill="#2020ff" fill-opacity="0.95" transform="rotate(31 988 1478)"/><ellipse cx="951" cy="1630" rx="2.1" ry="1.4" fill="#0c0ce8" fill-opacity="0.87" transform="rotate(121 951 1630)"/><ellipse cx="950" cy="1347" rx="1.9" ry="2.5" fill="#1414ff" fill-opacity="0.74" transform="rotate(148 950 1347)"/><ellipse cx="1018" cy="1318" rx="2.4" ry="1.5" fill="#0c0ce8" fill-opacity="0.53" transform="rotate(70 1018 1318)"/><ellipse cx="934" cy="1404" rx="3.9" ry="1.3" fill="#0c0ce8" fill-opacity="0.65" transform="rotate(165 934 1404)"/><ellipse cx="939" cy="1449" rx="3.9" ry="1.9" fill="#0808a0" fill-opacity="0.84" transform="rotate(12 939 1449)"/><ellipse cx="995" cy="1288" rx="3.1" ry="1.9" fill="#2020ff" fill-opacity="0.75" transform="rotate(62 995 1288)"/><ellipse cx="1038" cy="1469" rx="3.5" ry="1.7" fill="#1414ff" fill-opacity="0.86" transform="rotate(150 1038 1469)"/><ellipse cx="1139" cy="1386" rx="2.5" ry="2.4" fill="#1414ff" fill-opacity="0.52" transform="rotate(155 1139 1386)"/><ellipse cx="1091" cy="1300" rx="2.1" ry="1.3" fill="#1414ff" fill-opacity="0.93" transform="rotate(111 1091 1300)"/><ellipse cx="1154" cy="1630" rx="3.3" ry="1.7" fill="#0808a0" fill-opacity="0.70" transform="rotate(123 1154 1630)"/><ellipse cx="1084" cy="1395" rx="2.5" ry="2.0" fill="#1414ff" fill-opacity="0.66" transform="rotate(106 1084 1395)"/><ellipse cx="997" cy="1407" rx="3.7" ry="2.4" fill="#0a0ac4" fill-opacity="0.61" transform="rotate(108 997 1407)"/><ellipse cx="1214" cy="1375" rx="2.3" ry="2.6" fill="#0808a0" fill-opacity="0.85" transform="rotate(22 1214 1375)"/><ellipse cx="974" cy="1433" rx="2.9" ry="2.0" fill="#1414ff" fill-opacity="0.93" transform="rotate(48 974 1433)"/><ellipse cx="1218" cy="1467" rx="1.9" ry="1.8" fill="#0808a0" fill-opacity="0.75" transform="rotate(79 1218 1467)"/><ellipse cx="1093" cy="1383" rx="2.6" ry="2.6" fill="#2020ff" fill-opacity="0.65" transform="rotate(43 1093 1383)"/><ellipse cx="963" cy="1474" rx="3.4" ry="1.8" fill="#2020ff" fill-opacity="0.76" transform="rotate(159 963 1474)"/><ellipse cx="896" cy="1411" rx="2.6" ry="2.1" fill="#2020ff" fill-opacity="0.93" transform="rotate(67 896 1411)"/><ellipse cx="1085" cy="1332" rx="1.9" ry="1.3" fill="#0a0ac4" fill-opacity="0.94" transform="rotate(40 1085 1332)"/><ellipse cx="961" cy="1434" rx="3.0" ry="2.5" fill="#0c0ce8" fill-opacity="0.74" transform="rotate(35 961 1434)"/><ellipse cx="1135" cy="1572" rx="2.8" ry="2.2" fill="#1414ff" fill-opacity="0.52" transform="rotate(151 1135 1572)"/><ellipse cx="1182" cy="1414" rx="2.4" ry="1.5" fill="#0a0ac4" fill-opacity="0.90" transform="rotate(86 1182 1414)"/><ellipse cx="1090" cy="1310" rx="2.6" ry="1.9" fill="#0a0ac4" fill-opacity="0.99" transform="rotate(5 1090 1310)"/><ellipse cx="1048" cy="1329" rx="3.1" ry="2.5" fill="#2020ff" fill-opacity="0.61" transform="rotate(37 1048 1329)"/><ellipse cx="987" cy="1506" rx="1.9" ry="2.4" fill="#0c0ce8" fill-opacity="0.86" transform="rotate(134 987 1506)"/><ellipse cx="998" cy="1580" rx="3.2" ry="1.4" fill="#2020ff" fill-opacity="0.81" transform="rotate(58 998 1580)"/><ellipse cx="1105" cy="1591" rx="2.2" ry="1.8" fill="#0a0ac4" fill-opacity="0.50" transform="rotate(41 1105 1591)"/><ellipse cx="1104" cy="1289" rx="2.3" ry="2.4" fill="#0808a0" fill-opacity="0.55" transform="rotate(168 1104 1289)"/><ellipse cx="1163" cy="1571" rx="2.4" ry="2.6" fill="#2020ff" fill-opacity="0.81" transform="rotate(165 1163 1571)"/><ellipse cx="1066" cy="1351" rx="2.1" ry="2.0" fill="#0808a0" fill-opacity="0.79" transform="rotate(54 1066 1351)"/><ellipse cx="1009" cy="1551" rx="2.2" ry="1.4" fill="#0808a0" fill-opacity="0.69" transform="rotate(164 1009 1551)"/><ellipse cx="995" cy="1348" rx="2.2" ry="1.4" fill="#1414ff" fill-opacity="0.70" transform="rotate(157 995 1348)"/><ellipse cx="1198" cy="1457" rx="2.2" ry="1.3" fill="#0a0ac4" fill-opacity="0.72" transform="rotate(152 1198 1457)"/><ellipse cx="1019" cy="1581" rx="2.3" ry="1.8" fill="#0c0ce8" fill-opacity="0.57" transform="rotate(150 1019 1581)"/><ellipse cx="986" cy="1402" rx="3.4" ry="1.6" fill="#0a0ac4" fill-opacity="0.62" transform="rotate(10 986 1402)"/><ellipse cx="949" cy="1339" rx="2.3" ry="2.2" fill="#1414ff" fill-opacity="0.79" transform="rotate(87 949 1339)"/><ellipse cx="950" cy="1545" rx="2.7" ry="1.5" fill="#0808a0" fill-opacity="0.62" transform="rotate(71 950 1545)"/><ellipse cx="1016" cy="1308" rx="2.9" ry="2.1" fill="#2020ff" fill-opacity="0.60" transform="rotate(97 1016 1308)"/><ellipse cx="1189" cy="1522" rx="4.0" ry="1.7" fill="#0808a0" fill-opacity="1.00" transform="rotate(40 1189 1522)"/><ellipse cx="1051" cy="1343" rx="3.7" ry="1.5" fill="#0a0ac4" fill-opacity="0.63" transform="rotate(129 1051 1343)"/><ellipse cx="1007" cy="1332" rx="2.1" ry="2.5" fill="#0808a0" fill-opacity="0.66" transform="rotate(54 1007 1332)"/><ellipse cx="906" cy="1403" rx="2.0" ry="2.3" fill="#0808a0" fill-opacity="0.75" transform="rotate(114 906 1403)"/><ellipse cx="992" cy="1595" rx="2.5" ry="1.8" fill="#0808a0" fill-opacity="0.96" transform="rotate(159 992 1595)"/><ellipse cx="1107" cy="1606" rx="3.4" ry="1.8" fill="#0808a0" fill-opacity="0.71" transform="rotate(76 1107 1606)"/><ellipse cx="1079" cy="1368" rx="3.6" ry="2.2" fill="#0808a0" fill-opacity="0.63" transform="rotate(126 1079 1368)"/><ellipse cx="945" cy="1603" rx="2.7" ry="1.6" fill="#0808a0" fill-opacity="0.67" transform="rotate(87 945 1603)"/><ellipse cx="1082" cy="1318" rx="3.3" ry="1.5" fill="#2020ff" fill-opacity="0.82" transform="rotate(10 1082 1318)"/><ellipse cx="931" cy="1475" rx="3.7" ry="2.0" fill="#2020ff" fill-opacity="0.67" transform="rotate(21 931 1475)"/><ellipse cx="914" cy="1378" rx="2.1" ry="2.5" fill="#0a0ac4" fill-opacity="0.71" transform="rotate(57 914 1378)"/><ellipse cx="1035" cy="1373" rx="2.4" ry="2.3" fill="#1414ff" fill-opacity="0.97" transform="rotate(173 1035 1373)"/><ellipse cx="1112" cy="1367" rx="3.4" ry="2.5" fill="#0a0ac4" fill-opacity="0.50" transform="rotate(47 1112 1367)"/><ellipse cx="1124" cy="1545" rx="2.5" ry="1.4" fill="#2020ff" fill-opacity="0.91" transform="rotate(41 1124 1545)"/><ellipse cx="939" cy="1295" rx="2.1" ry="2.5" fill="#0808a0" fill-opacity="0.69" transform="rotate(88 939 1295)"/><ellipse cx="1033" cy="1480" rx="2.4" ry="2.0" fill="#2020ff" fill-opacity="0.77" transform="rotate(103 1033 1480)"/><ellipse cx="1020" cy="1296" rx="2.3" ry="2.3" fill="#0c0ce8" fill-opacity="0.73" transform="rotate(31 1020 1296)"/><ellipse cx="1207" cy="1579" rx="2.4" ry="2.1" fill="#0a0ac4" fill-opacity="0.76" transform="rotate(131 1207 1579)"/><ellipse cx="1211" cy="1406" rx="4.0" ry="2.3" fill="#1414ff" fill-opacity="0.72" transform="rotate(21 1211 1406)"/><ellipse cx="1136" cy="1333" rx="3.4" ry="1.6" fill="#0808a0" fill-opacity="0.50" transform="rotate(98 1136 1333)"/><ellipse cx="918" cy="1520" rx="3.2" ry="2.0" fill="#0c0ce8" fill-opacity="0.84" transform="rotate(17 918 1520)"/><ellipse cx="1074" cy="1514" rx="3.3" ry="1.3" fill="#1414ff" fill-opacity="0.60" transform="rotate(80 1074 1514)"/><ellipse cx="1123" cy="1340" rx="3.4" ry="2.4" fill="#0808a0" fill-opacity="0.65" transform="rotate(6 1123 1340)"/><ellipse cx="907" cy="1355" rx="2.8" ry="2.2" fill="#0808a0" fill-opacity="0.63" transform="rotate(2 907 1355)"/><ellipse cx="966" cy="1440" rx="2.3" ry="1.5" fill="#0a0ac4" fill-opacity="0.67" transform="rotate(144 966 1440)"/><ellipse cx="1023" cy="1626" rx="2.3" ry="1.4" fill="#0808a0" fill-opacity="0.67" transform="rotate(21 1023 1626)"/><ellipse cx="1086" cy="1359" rx="2.4" ry="2.3" fill="#0808a0" fill-opacity="0.78" transform="rotate(82 1086 1359)"/><ellipse cx="1111" cy="1540" rx="3.2" ry="2.3" fill="#2020ff" fill-opacity="0.55" transform="rotate(94 1111 1540)"/><ellipse cx="1041" cy="1467" rx="3.9" ry="1.5" fill="#0808a0" fill-opacity="0.74" transform="rotate(51 1041 1467)"/><ellipse cx="994" cy="1464" rx="4.0" ry="1.5" fill="#0808a0" fill-opacity="0.72" transform="rotate(41 994 1464)"/><ellipse cx="1050" cy="1367" rx="1.8" ry="1.3" fill="#2020ff" fill-opacity="0.79" transform="rotate(166 1050 1367)"/><ellipse cx="911" cy="1459" rx="1.9" ry="2.2" fill="#0c0ce8" fill-opacity="0.62" transform="rotate(86 911 1459)"/><ellipse cx="1048" cy="1386" rx="2.5" ry="2.0" fill="#1414ff" fill-opacity="0.67" transform="rotate(55 1048 1386)"/><ellipse cx="1106" cy="1320" rx="2.0" ry="2.3" fill="#1414ff" fill-opacity="0.74" transform="rotate(123 1106 1320)"/><ellipse cx="1146" cy="1459" rx="3.9" ry="1.7" fill="#0c0ce8" fill-opacity="0.92" transform="rotate(113 1146 1459)"/><ellipse cx="1061" cy="1455" rx="3.8" ry="1.8" fill="#2020ff" fill-opacity="0.84" transform="rotate(65 1061 1455)"/><ellipse cx="1077" cy="1418" rx="3.9" ry="1.7" fill="#0808a0" fill-opacity="0.71" transform="rotate(84 1077 1418)"/><ellipse cx="1102" cy="1558" rx="2.6" ry="2.1" fill="#1414ff" fill-opacity="0.86" transform="rotate(135 1102 1558)"/><ellipse cx="1208" cy="1448" rx="3.1" ry="2.2" fill="#0a0ac4" fill-opacity="1.00" transform="rotate(36 1208 1448)"/><ellipse cx="908" cy="1422" rx="2.0" ry="1.5" fill="#0a0ac4" fill-opacity="0.73" transform="rotate(69 908 1422)"/><ellipse cx="976" cy="1592" rx="2.6" ry="2.4" fill="#0a0ac4" fill-opacity="0.65" transform="rotate(102 976 1592)"/><ellipse cx="1161" cy="1419" rx="2.4" ry="1.6" fill="#2020ff" fill-opacity="0.58" transform="rotate(163 1161 1419)"/><ellipse cx="957" cy="1494" rx="3.1" ry="1.8" fill="#0c0ce8" fill-opacity="0.71" transform="rotate(116 957 1494)"/><ellipse cx="1058" cy="1477" rx="2.7" ry="2.1" fill="#2020ff" fill-opacity="0.84" transform="rotate(110 1058 1477)"/><ellipse cx="1194" cy="1349" rx="4.0" ry="1.5" fill="#0c0ce8" fill-opacity="0.88" transform="rotate(160 1194 1349)"/><ellipse cx="1189" cy="1323" rx="3.0" ry="1.5" fill="#0a0ac4" fill-opacity="0.68" transform="rotate(107 1189 1323)"/><ellipse cx="1219" cy="1336" rx="2.9" ry="2.1" fill="#2020ff" fill-opacity="0.73" transform="rotate(124 1219 1336)"/><ellipse cx="902" cy="1474" rx="2.5" ry="1.8" fill="#0a0ac4" fill-opacity="0.99" transform="rotate(106 902 1474)"/><ellipse cx="985" cy="1310" rx="3.7" ry="2.4" fill="#1414ff" fill-opacity="0.63" transform="rotate(160 985 1310)"/><ellipse cx="1136" cy="1312" rx="3.6" ry="1.6" fill="#1414ff" fill-opacity="0.85" transform="rotate(101 1136 1312)"/><ellipse cx="893" cy="1508" rx="3.9" ry="2.3" fill="#1414ff" fill-opacity="0.90" transform="rotate(147 893 1508)"/><ellipse cx="915" cy="1368" rx="2.6" ry="1.6" fill="#1414ff" fill-opacity="0.56" transform="rotate(37 915 1368)"/><ellipse cx="1098" cy="1556" rx="1.9" ry="2.5" fill="#0a0ac4" fill-opacity="0.60" transform="rotate(82 1098 1556)"/><ellipse cx="987" cy="1614" rx="2.5" ry="2.2" fill="#1414ff" fill-opacity="0.51" transform="rotate(36 987 1614)"/><ellipse cx="1188" cy="1421" rx="2.3" ry="2.3" fill="#0808a0" fill-opacity="0.78" transform="rotate(62 1188 1421)"/><ellipse cx="932" cy="1341" rx="2.2" ry="1.7" fill="#0808a0" fill-opacity="0.51" transform="rotate(58 932 1341)"/><ellipse cx="996" cy="1472" rx="3.0" ry="1.3" fill="#0a0ac4" fill-opacity="0.69" transform="rotate(73 996 1472)"/><ellipse cx="1125" cy="1632" rx="2.1" ry="1.5" fill="#0c0ce8" fill-opacity="0.92" transform="rotate(30 1125 1632)"/><ellipse cx="1050" cy="1415" rx="2.6" ry="1.8" fill="#2020ff" fill-opacity="0.65" transform="rotate(93 1050 1415)"/><ellipse cx="896" cy="1472" rx="3.0" ry="1.3" fill="#2020ff" fill-opacity="0.49" transform="rotate(86 896 1472)"/><ellipse cx="993" cy="1362" rx="2.2" ry="2.3" fill="#1414ff" fill-opacity="0.59" transform="rotate(96 993 1362)"/><ellipse cx="918" cy="1471" rx="3.7" ry="2.6" fill="#0a0ac4" fill-opacity="0.48" transform="rotate(151 918 1471)"/><ellipse cx="1017" cy="1318" rx="2.6" ry="1.9" fill="#2020ff" fill-opacity="0.45" transform="rotate(136 1017 1318)"/><ellipse cx="1044" cy="1433" rx="2.0" ry="2.3" fill="#0c0ce8" fill-opacity="0.82" transform="rotate(117 1044 1433)"/><ellipse cx="959" cy="1317" rx="1.9" ry="1.6" fill="#0a0ac4" fill-opacity="0.84" transform="rotate(15 959 1317)"/><ellipse cx="904" cy="1460" rx="2.5" ry="1.9" fill="#1414ff" fill-opacity="0.99" transform="rotate(169 904 1460)"/><ellipse cx="992" cy="1394" rx="3.3" ry="2.1" fill="#1414ff" fill-opacity="0.46" transform="rotate(172 992 1394)"/><ellipse cx="1141" cy="1434" rx="2.8" ry="2.0" fill="#0a0ac4" fill-opacity="0.82" transform="rotate(126 1141 1434)"/><ellipse cx="937" cy="1537" rx="2.0" ry="2.3" fill="#0a0ac4" fill-opacity="0.75" transform="rotate(144 937 1537)"/><ellipse cx="1002" cy="1565" rx="2.5" ry="1.7" fill="#0808a0" fill-opacity="0.87" transform="rotate(43 1002 1565)"/><ellipse cx="1148" cy="1384" rx="3.4" ry="2.1" fill="#2020ff" fill-opacity="0.67" transform="rotate(13 1148 1384)"/><ellipse cx="1208" cy="1432" rx="3.2" ry="1.3" fill="#0c0ce8" fill-opacity="0.85" transform="rotate(39 1208 1432)"/><ellipse cx="1037" cy="1299" rx="3.3" ry="2.1" fill="#0808a0" fill-opacity="0.79" transform="rotate(115 1037 1299)"/><ellipse cx="1055" cy="1465" rx="3.7" ry="2.6" fill="#1414ff" fill-opacity="0.50" transform="rotate(88 1055 1465)"/><ellipse cx="1120" cy="1567" rx="3.4" ry="1.6" fill="#2020ff" fill-opacity="0.59" transform="rotate(141 1120 1567)"/><ellipse cx="936" cy="1478" rx="4.0" ry="2.5" fill="#0c0ce8" fill-opacity="0.79" transform="rotate(104 936 1478)"/><ellipse cx="970" cy="1518" rx="3.3" ry="2.4" fill="#0a0ac4" fill-opacity="0.82" transform="rotate(21 970 1518)"/><ellipse cx="892" cy="1435" rx="3.8" ry="2.1" fill="#0c0ce8" fill-opacity="0.88" transform="rotate(88 892 1435)"/><ellipse cx="951" cy="1442" rx="3.7" ry="2.0" fill="#0a0ac4" fill-opacity="0.64" transform="rotate(102 951 1442)"/><ellipse cx="913" cy="1475" rx="2.0" ry="2.4" fill="#0808a0" fill-opacity="0.55" transform="rotate(65 913 1475)"/><ellipse cx="1048" cy="1395" rx="3.1" ry="1.6" fill="#0a0ac4" fill-opacity="0.84" transform="rotate(31 1048 1395)"/><ellipse cx="1101" cy="1302" rx="3.3" ry="1.7" fill="#1414ff" fill-opacity="0.76" transform="rotate(135 1101 1302)"/><ellipse cx="1077" cy="1403" rx="3.1" ry="1.5" fill="#0a0ac4" fill-opacity="0.69" transform="rotate(141 1077 1403)"/><ellipse cx="1124" cy="1300" rx="3.8" ry="2.2" fill="#0c0ce8" fill-opacity="0.79" transform="rotate(166 1124 1300)"/><ellipse cx="1214" cy="1374" rx="1.8" ry="2.6" fill="#0c0ce8" fill-opacity="0.89" transform="rotate(55 1214 1374)"/><ellipse cx="1026" cy="1296" rx="3.5" ry="2.2" fill="#2020ff" fill-opacity="0.91" transform="rotate(124 1026 1296)"/><ellipse cx="906" cy="1374" rx="3.8" ry="1.8" fill="#2020ff" fill-opacity="0.68" transform="rotate(66 906 1374)"/><ellipse cx="899" cy="1363" rx="2.3" ry="2.5" fill="#0808a0" fill-opacity="0.66" transform="rotate(108 899 1363)"/><ellipse cx="1121" cy="1382" rx="3.7" ry="1.3" fill="#0a0ac4" fill-opacity="0.81" transform="rotate(29 1121 1382)"/><ellipse cx="1052" cy="1349" rx="4.0" ry="2.3" fill="#2020ff" fill-opacity="0.74" transform="rotate(103 1052 1349)"/><ellipse cx="1164" cy="1436" rx="3.6" ry="2.6" fill="#2020ff" fill-opacity="0.87" transform="rotate(160 1164 1436)"/><ellipse cx="1021" cy="1353" rx="3.7" ry="2.2" fill="#1414ff" fill-opacity="0.65" transform="rotate(118 1021 1353)"/><ellipse cx="1153" cy="1372" rx="3.2" ry="2.3" fill="#2020ff" fill-opacity="0.53" transform="rotate(151 1153 1372)"/><ellipse cx="1006" cy="1307" rx="3.7" ry="2.3" fill="#0a0ac4" fill-opacity="0.60" transform="rotate(177 1006 1307)"/><ellipse cx="956" cy="1538" rx="3.2" ry="1.6" fill="#1414ff" fill-opacity="0.58" transform="rotate(148 956 1538)"/><ellipse cx="1179" cy="1373" rx="4.0" ry="1.4" fill="#0c0ce8" fill-opacity="0.76" transform="rotate(44 1179 1373)"/><ellipse cx="1204" cy="1512" rx="3.9" ry="2.4" fill="#0c0ce8" fill-opacity="0.75" transform="rotate(104 1204 1512)"/><ellipse cx="1202" cy="1390" rx="2.1" ry="2.5" fill="#0808a0" fill-opacity="0.55" transform="rotate(64 1202 1390)"/><ellipse cx="1219" cy="1552" rx="3.0" ry="1.5" fill="#0a0ac4" fill-opacity="0.92" transform="rotate(121 1219 1552)"/><ellipse cx="1144" cy="1548" rx="1.8" ry="2.0" fill="#0a0ac4" fill-opacity="0.72" transform="rotate(15 1144 1548)"/><ellipse cx="912" cy="1429" rx="2.7" ry="1.8" fill="#0808a0" fill-opacity="0.62" transform="rotate(160 912 1429)"/><ellipse cx="1102" cy="1487" rx="3.9" ry="1.4" fill="#2020ff" fill-opacity="0.59" transform="rotate(154 1102 1487)"/><ellipse cx="1146" cy="1321" rx="3.1" ry="1.8" fill="#1414ff" fill-opacity="0.87" transform="rotate(98 1146 1321)"/><ellipse cx="1164" cy="1485" rx="3.7" ry="1.4" fill="#0a0ac4" fill-opacity="0.49" transform="rotate(113 1164 1485)"/><ellipse cx="1081" cy="1332" rx="2.2" ry="1.5" fill="#0c0ce8" fill-opacity="0.87" transform="rotate(112 1081 1332)"/><ellipse cx="948" cy="1625" rx="3.6" ry="1.6" fill="#0c0ce8" fill-opacity="0.88" transform="rotate(82 948 1625)"/><ellipse cx="1029" cy="1358" rx="3.0" ry="1.7" fill="#0c0ce8" fill-opacity="0.91" transform="rotate(8 1029 1358)"/><ellipse cx="957" cy="1437" rx="2.0" ry="1.9" fill="#0a0ac4" fill-opacity="0.81" transform="rotate(16 957 1437)"/><ellipse cx="939" cy="1360" rx="3.8" ry="1.4" fill="#2020ff" fill-opacity="0.93" transform="rotate(87 939 1360)"/><ellipse cx="1097" cy="1570" rx="3.2" ry="1.5" fill="#0c0ce8" fill-opacity="0.79" transform="rotate(64 1097 1570)"/><ellipse cx="1040" cy="1552" rx="3.7" ry="2.4" fill="#0c0ce8" fill-opacity="0.76" transform="rotate(43 1040 1552)"/><ellipse cx="1181" cy="1526" rx="3.9" ry="1.7" fill="#2020ff" fill-opacity="0.69" transform="rotate(100 1181 1526)"/><ellipse cx="1058" cy="1363" rx="3.2" ry="2.1" fill="#0808a0" fill-opacity="0.54" transform="rotate(73 1058 1363)"/><ellipse cx="1110" cy="1591" rx="2.1" ry="2.3" fill="#0c0ce8" fill-opacity="0.94" transform="rotate(95 1110 1591)"/><ellipse cx="1156" cy="1424" rx="3.6" ry="2.0" fill="#0c0ce8" fill-opacity="0.93" transform="rotate(108 1156 1424)"/><ellipse cx="946" cy="1307" rx="2.3" ry="2.4" fill="#1414ff" fill-opacity="0.90" transform="rotate(85 946 1307)"/><ellipse cx="1207" cy="1446" rx="2.0" ry="2.5" fill="#0a0ac4" fill-opacity="0.89" transform="rotate(126 1207 1446)"/><ellipse cx="1011" cy="1482" rx="2.5" ry="1.4" fill="#0a0ac4" fill-opacity="0.59" transform="rotate(4 1011 1482)"/><ellipse cx="901" cy="1379" rx="3.2" ry="2.4" fill="#2020ff" fill-opacity="0.90" transform="rotate(128 901 1379)"/><ellipse cx="1128" cy="1416" rx="3.7" ry="1.8" fill="#1414ff" fill-opacity="0.81" transform="rotate(45 1128 1416)"/><ellipse cx="914" cy="1556" rx="2.1" ry="1.6" fill="#2020ff" fill-opacity="0.83" transform="rotate(54 914 1556)"/><ellipse cx="962" cy="1517" rx="2.5" ry="1.4" fill="#2020ff" fill-opacity="0.93" transform="rotate(174 962 1517)"/><ellipse cx="1133" cy="1473" rx="2.2" ry="2.0" fill="#1414ff" fill-opacity="0.77" transform="rotate(57 1133 1473)"/><ellipse cx="1045" cy="1513" rx="2.1" ry="2.2" fill="#1414ff" fill-opacity="0.81" transform="rotate(164 1045 1513)"/><ellipse cx="1078" cy="1365" rx="2.6" ry="2.2" fill="#2020ff" fill-opacity="0.78" transform="rotate(91 1078 1365)"/><ellipse cx="1023" cy="1435" rx="3.0" ry="2.3" fill="#2020ff" fill-opacity="0.62" transform="rotate(101 1023 1435)"/><ellipse cx="1127" cy="1493" rx="2.0" ry="2.6" fill="#0c0ce8" fill-opacity="0.79" transform="rotate(134 1127 1493)"/><ellipse cx="978" cy="1444" rx="2.8" ry="2.0" fill="#1414ff" fill-opacity="0.79" transform="rotate(17 978 1444)"/><ellipse cx="1052" cy="1586" rx="2.3" ry="1.9" fill="#2020ff" fill-opacity="0.46" transform="rotate(105 1052 1586)"/><ellipse cx="1181" cy="1627" rx="2.0" ry="2.1" fill="#0a0ac4" fill-opacity="0.55" transform="rotate(122 1181 1627)"/><ellipse cx="906" cy="1449" rx="3.6" ry="2.4" fill="#0808a0" fill-opacity="0.69" transform="rotate(94 906 1449)"/><ellipse cx="897" cy="1546" rx="2.8" ry="1.6" fill="#2020ff" fill-opacity="0.91" transform="rotate(68 897 1546)"/><ellipse cx="1117" cy="1507" rx="2.6" ry="2.1" fill="#0808a0" fill-opacity="0.97" transform="rotate(20 1117 1507)"/><ellipse cx="1154" cy="1502" rx="2.6" ry="1.4" fill="#0a0ac4" fill-opacity="0.91" transform="rotate(113 1154 1502)"/><ellipse cx="984" cy="1396" rx="3.4" ry="2.6" fill="#2020ff" fill-opacity="0.47" transform="rotate(0 984 1396)"/><ellipse cx="975" cy="1628" rx="3.1" ry="1.4" fill="#0a0ac4" fill-opacity="0.80" transform="rotate(15 975 1628)"/><ellipse cx="895" cy="1580" rx="2.1" ry="1.8" fill="#0808a0" fill-opacity="0.53" transform="rotate(54 895 1580)"/><ellipse cx="1142" cy="1314" rx="2.3" ry="1.3" fill="#0c0ce8" fill-opacity="0.83" transform="rotate(13 1142 1314)"/><ellipse cx="995" cy="1559" rx="3.9" ry="1.7" fill="#1414ff" fill-opacity="0.71" transform="rotate(8 995 1559)"/><ellipse cx="1177" cy="1366" rx="2.2" ry="2.5" fill="#0a0ac4" fill-opacity="0.65" transform="rotate(31 1177 1366)"/><ellipse cx="1076" cy="1597" rx="2.8" ry="1.7" fill="#1414ff" fill-opacity="0.55" transform="rotate(163 1076 1597)"/><ellipse cx="967" cy="1588" rx="2.5" ry="1.9" fill="#0808a0" fill-opacity="0.61" transform="rotate(24 967 1588)"/><ellipse cx="925" cy="1303" rx="3.8" ry="2.0" fill="#0c0ce8" fill-opacity="0.59" transform="rotate(19 925 1303)"/><ellipse cx="1193" cy="1351" rx="3.0" ry="2.2" fill="#0808a0" fill-opacity="0.92" transform="rotate(31 1193 1351)"/><ellipse cx="957" cy="1504" rx="2.0" ry="2.4" fill="#1414ff" fill-opacity="0.67" transform="rotate(58 957 1504)"/><ellipse cx="896" cy="1559" rx="2.6" ry="2.6" fill="#0c0ce8" fill-opacity="0.65" transform="rotate(167 896 1559)"/><ellipse cx="1069" cy="1399" rx="4.0" ry="2.4" fill="#0808a0" fill-opacity="0.92" transform="rotate(103 1069 1399)"/><ellipse cx="1125" cy="1349" rx="3.9" ry="1.6" fill="#0808a0" fill-opacity="0.70" transform="rotate(124 1125 1349)"/><ellipse cx="1127" cy="1524" rx="2.8" ry="1.5" fill="#0c0ce8" fill-opacity="0.72" transform="rotate(174 1127 1524)"/><ellipse cx="952" cy="1514" rx="3.6" ry="1.7" fill="#0c0ce8" fill-opacity="0.95" transform="rotate(9 952 1514)"/><ellipse cx="992" cy="1597" rx="3.3" ry="2.6" fill="#2020ff" fill-opacity="0.62" transform="rotate(32 992 1597)"/><ellipse cx="1217" cy="1490" rx="3.7" ry="1.9" fill="#0a0ac4" fill-opacity="0.84" transform="rotate(93 1217 1490)"/></g></g>
<line x1="912.5" y1="1609.5" x2="953.5" y2="1609.5" stroke="#fff" stroke-width="1.6"/>
<circle cx="912.5" cy="1609.5" r="1.8" fill="#fff"/><circle cx="953.5" cy="1609.5" r="1.8" fill="#fff"/>
<text x="933.0" y="1616.5" font-family="'Liberation Sans', Arial, sans-serif" font-size="5" font-weight="normal" fill="#fff" text-anchor="middle">50 µm</text>
<text x="1213.6" y="1308.8" font-family="'Liberation Sans', Arial, sans-serif" font-size="29.5" font-weight="normal" fill="#06c4fc" text-anchor="end">DAPI</text>
<text x="1215.8" y="1342.7" font-family="'Liberation Sans', Arial, sans-serif" font-size="30" font-weight="normal" fill="#fcfc6c" text-anchor="end">CD14</text>
<clipPath id="im4"><rect x="1254" y="1282" width="347.70000000000005" height="351.5999999999999"/></clipPath>
<g clip-path="url(#im4)"><rect x="1254" y="1282" width="347.70000000000005" height="351.5999999999999" fill="#000"/><g filter="url(#bl)"><ellipse cx="1336" cy="1318" rx="2.0" ry="1.3" fill="#1414ff" fill-opacity="0.68" transform="rotate(71 1336 1318)"/><ellipse cx="1355" cy="1629" rx="3.0" ry="1.7" fill="#0808a0" fill-opacity="0.45" transform="rotate(11 1355 1629)"/><ellipse cx="1291" cy="1357" rx="3.6" ry="1.6" fill="#0a0ac4" fill-opacity="0.54" transform="rotate(167 1291 1357)"/><ellipse cx="1472" cy="1539" rx="2.0" ry="2.1" fill="#0a0ac4" fill-opacity="0.75" transform="rotate(154 1472 1539)"/><ellipse cx="1430" cy="1344" rx="3.9" ry="2.4" fill="#0c0ce8" fill-opacity="0.92" transform="rotate(85 1430 1344)"/><ellipse cx="1546" cy="1285" rx="3.7" ry="2.0" fill="#0a0ac4" fill-opacity="0.60" transform="rotate(53 1546 1285)"/><ellipse cx="1462" cy="1433" rx="2.4" ry="2.3" fill="#0a0ac4" fill-opacity="0.40" transform="rotate(29 1462 1433)"/><ellipse cx="1415" cy="1632" rx="3.3" ry="1.5" fill="#2020ff" fill-opacity="0.75" transform="rotate(93 1415 1632)"/><ellipse cx="1277" cy="1603" rx="2.4" ry="1.8" fill="#2020ff" fill-opacity="0.80" transform="rotate(114 1277 1603)"/><ellipse cx="1366" cy="1478" rx="3.6" ry="2.2" fill="#0c0ce8" fill-opacity="0.52" transform="rotate(163 1366 1478)"/><ellipse cx="1457" cy="1585" rx="2.4" ry="1.3" fill="#1414ff" fill-opacity="0.56" transform="rotate(22 1457 1585)"/><ellipse cx="1283" cy="1621" rx="1.8" ry="1.7" fill="#0a0ac4" fill-opacity="0.93" transform="rotate(51 1283 1621)"/><ellipse cx="1524" cy="1426" rx="3.3" ry="1.4" fill="#0808a0" fill-opacity="0.72" transform="rotate(170 1524 1426)"/><ellipse cx="1565" cy="1384" rx="3.9" ry="1.7" fill="#0808a0" fill-opacity="0.36" transform="rotate(45 1565 1384)"/><ellipse cx="1270" cy="1342" rx="4.0" ry="2.0" fill="#0a0ac4" fill-opacity="0.61" transform="rotate(141 1270 1342)"/><ellipse cx="1326" cy="1604" rx="1.9" ry="1.5" fill="#0c0ce8" fill-opacity="0.76" transform="rotate(20 1326 1604)"/><ellipse cx="1306" cy="1296" rx="2.5" ry="1.3" fill="#1414ff" fill-opacity="0.85" transform="rotate(88 1306 1296)"/><ellipse cx="1356" cy="1632" rx="2.9" ry="1.6" fill="#1414ff" fill-opacity="0.60" transform="rotate(117 1356 1632)"/><ellipse cx="1267" cy="1430" rx="3.6" ry="1.9" fill="#2020ff" fill-opacity="0.37" transform="rotate(45 1267 1430)"/><ellipse cx="1343" cy="1367" rx="2.7" ry="1.6" fill="#1414ff" fill-opacity="0.55" transform="rotate(37 1343 1367)"/><ellipse cx="1564" cy="1392" rx="2.7" ry="2.5" fill="#0808a0" fill-opacity="0.74" transform="rotate(21 1564 1392)"/><ellipse cx="1529" cy="1543" rx="2.7" ry="2.5" fill="#0c0ce8" fill-opacity="0.69" transform="rotate(89 1529 1543)"/><ellipse cx="1583" cy="1340" rx="3.6" ry="2.1" fill="#2020ff" fill-opacity="0.84" transform="rotate(53 1583 1340)"/><ellipse cx="1438" cy="1512" rx="2.5" ry="1.8" fill="#0a0ac4" fill-opacity="0.65" transform="rotate(123 1438 1512)"/><ellipse cx="1553" cy="1380" rx="1.9" ry="2.5" fill="#1414ff" fill-opacity="0.43" transform="rotate(113 1553 1380)"/><ellipse cx="1591" cy="1516" rx="3.3" ry="1.9" fill="#1414ff" fill-opacity="0.63" transform="rotate(11 1591 1516)"/><ellipse cx="1394" cy="1419" rx="3.8" ry="1.3" fill="#1414ff" fill-opacity="0.88" transform="rotate(144 1394 1419)"/><ellipse cx="1294" cy="1566" rx="3.0" ry="2.4" fill="#1414ff" fill-opacity="0.47" transform="rotate(141 1294 1566)"/><ellipse cx="1488" cy="1398" rx="3.8" ry="1.9" fill="#2020ff" fill-opacity="0.40" transform="rotate(161 1488 1398)"/><ellipse cx="1496" cy="1322" rx="3.1" ry="1.5" fill="#0a0ac4" fill-opacity="0.57" transform="rotate(101 1496 1322)"/><ellipse cx="1521" cy="1466" rx="3.6" ry="1.4" fill="#0a0ac4" fill-opacity="0.68" transform="rotate(2 1521 1466)"/><ellipse cx="1387" cy="1558" rx="3.5" ry="2.4" fill="#1414ff" fill-opacity="0.59" transform="rotate(56 1387 1558)"/><ellipse cx="1281" cy="1603" rx="2.9" ry="1.9" fill="#0a0ac4" fill-opacity="0.86" transform="rotate(144 1281 1603)"/><ellipse cx="1524" cy="1305" rx="3.2" ry="2.5" fill="#1414ff" fill-opacity="0.64" transform="rotate(159 1524 1305)"/><ellipse cx="1295" cy="1478" rx="2.2" ry="1.5" fill="#1414ff" fill-opacity="0.65" transform="rotate(67 1295 1478)"/><ellipse cx="1372" cy="1472" rx="1.8" ry="1.7" fill="#1414ff" fill-opacity="0.68" transform="rotate(163 1372 1472)"/><ellipse cx="1423" cy="1533" rx="2.9" ry="1.8" fill="#0c0ce8" fill-opacity="0.53" transform="rotate(87 1423 1533)"/><ellipse cx="1334" cy="1345" rx="3.3" ry="2.1" fill="#0c0ce8" fill-opacity="0.54" transform="rotate(156 1334 1345)"/><ellipse cx="1572" cy="1446" rx="3.9" ry="2.0" fill="#0a0ac4" fill-opacity="0.61" transform="rotate(164 1572 1446)"/><ellipse cx="1469" cy="1420" rx="2.6" ry="2.2" fill="#0808a0" fill-opacity="0.43" transform="rotate(45 1469 1420)"/><ellipse cx="1283" cy="1333" rx="2.4" ry="2.5" fill="#1414ff" fill-opacity="0.47" transform="rotate(146 1283 1333)"/><ellipse cx="1530" cy="1519" rx="2.7" ry="2.5" fill="#0c0ce8" fill-opacity="0.46" transform="rotate(159 1530 1519)"/><ellipse cx="1482" cy="1397" rx="3.1" ry="2.0" fill="#0c0ce8" fill-opacity="0.80" transform="rotate(54 1482 1397)"/><ellipse cx="1285" cy="1408" rx="2.1" ry="2.1" fill="#0c0ce8" fill-opacity="0.65" transform="rotate(146 1285 1408)"/><ellipse cx="1454" cy="1611" rx="2.2" ry="1.9" fill="#0c0ce8" fill-opacity="0.88" transform="rotate(137 1454 1611)"/><ellipse cx="1331" cy="1558" rx="3.7" ry="1.6" fill="#2020ff" fill-opacity="0.64" transform="rotate(119 1331 1558)"/><ellipse cx="1331" cy="1411" rx="3.2" ry="2.6" fill="#0808a0" fill-opacity="0.89" transform="rotate(134 1331 1411)"/><ellipse cx="1393" cy="1423" rx="2.8" ry="2.1" fill="#0a0ac4" fill-opacity="0.50" transform="rotate(147 1393 1423)"/><ellipse cx="1566" cy="1443" rx="2.7" ry="1.8" fill="#0a0ac4" fill-opacity="0.37" transform="rotate(101 1566 1443)"/><ellipse cx="1432" cy="1443" rx="3.1" ry="1.7" fill="#0a0ac4" fill-opacity="0.40" transform="rotate(174 1432 1443)"/><ellipse cx="1344" cy="1360" rx="3.5" ry="1.5" fill="#0808a0" fill-opacity="0.49" transform="rotate(167 1344 1360)"/><ellipse cx="1358" cy="1615" rx="3.3" ry="2.0" fill="#0808a0" fill-opacity="0.93" transform="rotate(29 1358 1615)"/><ellipse cx="1345" cy="1466" rx="2.3" ry="2.5" fill="#0c0ce8" fill-opacity="0.40" transform="rotate(28 1345 1466)"/><ellipse cx="1348" cy="1590" rx="3.8" ry="2.2" fill="#0808a0" fill-opacity="0.79" transform="rotate(116 1348 1590)"/><ellipse cx="1482" cy="1616" rx="3.0" ry="2.2" fill="#0c0ce8" fill-opacity="0.78" transform="rotate(158 1482 1616)"/><ellipse cx="1446" cy="1458" rx="2.9" ry="1.4" fill="#0a0ac4" fill-opacity="0.45" transform="rotate(28 1446 1458)"/><ellipse cx="1558" cy="1372" rx="3.7" ry="1.7" fill="#0a0ac4" fill-opacity="0.58" transform="rotate(70 1558 1372)"/><ellipse cx="1401" cy="1292" rx="2.5" ry="2.3" fill="#0c0ce8" fill-opacity="0.40" transform="rotate(158 1401 1292)"/><ellipse cx="1294" cy="1496" rx="3.0" ry="1.9" fill="#1414ff" fill-opacity="0.78" transform="rotate(3 1294 1496)"/><ellipse cx="1318" cy="1572" rx="2.5" ry="1.5" fill="#2020ff" fill-opacity="0.67" transform="rotate(179 1318 1572)"/><ellipse cx="1319" cy="1449" rx="2.5" ry="2.1" fill="#0a0ac4" fill-opacity="0.89" transform="rotate(163 1319 1449)"/><ellipse cx="1463" cy="1295" rx="3.1" ry="2.3" fill="#0a0ac4" fill-opacity="0.70" transform="rotate(114 1463 1295)"/><ellipse cx="1527" cy="1450" rx="3.8" ry="2.5" fill="#0c0ce8" fill-opacity="0.88" transform="rotate(150 1527 1450)"/><ellipse cx="1483" cy="1527" rx="2.8" ry="2.5" fill="#0808a0" fill-opacity="0.91" transform="rotate(109 1483 1527)"/><ellipse cx="1316" cy="1297" rx="3.4" ry="1.4" fill="#0808a0" fill-opacity="0.76" transform="rotate(93 1316 1297)"/><ellipse cx="1371" cy="1493" rx="2.1" ry="2.6" fill="#0a0ac4" fill-opacity="0.85" transform="rotate(25 1371 1493)"/><ellipse cx="1431" cy="1282" rx="2.4" ry="2.5" fill="#0808a0" fill-opacity="0.88" transform="rotate(152 1431 1282)"/><ellipse cx="1593" cy="1286" rx="2.6" ry="2.5" fill="#1414ff" fill-opacity="0.80" transform="rotate(126 1593 1286)"/><ellipse cx="1538" cy="1387" rx="2.7" ry="1.5" fill="#0808a0" fill-opacity="0.65" transform="rotate(70 1538 1387)"/><ellipse cx="1276" cy="1461" rx="3.3" ry="2.3" fill="#0808a0" fill-opacity="0.77" transform="rotate(92 1276 1461)"/><ellipse cx="1406" cy="1343" rx="3.9" ry="1.7" fill="#2020ff" fill-opacity="0.80" transform="rotate(3 1406 1343)"/><ellipse cx="1396" cy="1502" rx="3.5" ry="1.6" fill="#0a0ac4" fill-opacity="0.52" transform="rotate(152 1396 1502)"/><ellipse cx="1284" cy="1423" rx="3.1" ry="1.7" fill="#1414ff" fill-opacity="0.91" transform="rotate(110 1284 1423)"/><ellipse cx="1526" cy="1500" rx="3.3" ry="2.5" fill="#0a0ac4" fill-opacity="0.65" transform="rotate(126 1526 1500)"/><ellipse cx="1294" cy="1402" rx="2.2" ry="1.6" fill="#1414ff" fill-opacity="0.86" transform="rotate(82 1294 1402)"/><ellipse cx="1294" cy="1623" rx="3.1" ry="1.5" fill="#0808a0" fill-opacity="0.80" transform="rotate(53 1294 1623)"/><ellipse cx="1484" cy="1631" rx="3.5" ry="2.3" fill="#0c0ce8" fill-opacity="0.76" transform="rotate(162 1484 1631)"/><ellipse cx="1345" cy="1490" rx="3.7" ry="2.6" fill="#0808a0" fill-opacity="0.45" transform="rotate(114 1345 1490)"/><ellipse cx="1517" cy="1299" rx="3.3" ry="2.6" fill="#1414ff" fill-opacity="0.38" transform="rotate(10 1517 1299)"/><ellipse cx="1568" cy="1529" rx="2.0" ry="1.6" fill="#2020ff" fill-opacity="0.43" transform="rotate(120 1568 1529)"/><ellipse cx="1421" cy="1474" rx="2.7" ry="1.8" fill="#0a0ac4" fill-opacity="0.37" transform="rotate(97 1421 1474)"/><ellipse cx="1574" cy="1346" rx="2.3" ry="2.0" fill="#0a0ac4" fill-opacity="0.47" transform="rotate(64 1574 1346)"/><ellipse cx="1471" cy="1403" rx="3.9" ry="1.5" fill="#0c0ce8" fill-opacity="0.56" transform="rotate(65 1471 1403)"/><ellipse cx="1596" cy="1357" rx="2.5" ry="2.2" fill="#1414ff" fill-opacity="0.54" transform="rotate(5 1596 1357)"/><ellipse cx="1442" cy="1612" rx="2.2" ry="2.6" fill="#2020ff" fill-opacity="0.72" transform="rotate(171 1442 1612)"/><ellipse cx="1376" cy="1284" rx="1.9" ry="2.3" fill="#2020ff" fill-opacity="0.79" transform="rotate(126 1376 1284)"/><ellipse cx="1400" cy="1322" rx="1.9" ry="1.4" fill="#0808a0" fill-opacity="0.45" transform="rotate(53 1400 1322)"/><ellipse cx="1489" cy="1303" rx="3.1" ry="2.1" fill="#1414ff" fill-opacity="0.78" transform="rotate(150 1489 1303)"/><ellipse cx="1262" cy="1435" rx="3.2" ry="1.5" fill="#1414ff" fill-opacity="0.71" transform="rotate(144 1262 1435)"/><ellipse cx="1335" cy="1542" rx="2.2" ry="1.7" fill="#0a0ac4" fill-opacity="0.76" transform="rotate(97 1335 1542)"/><ellipse cx="1443" cy="1619" rx="3.1" ry="2.6" fill="#0a0ac4" fill-opacity="0.37" transform="rotate(169 1443 1619)"/><ellipse cx="1307" cy="1482" rx="2.8" ry="1.5" fill="#2020ff" fill-opacity="0.88" transform="rotate(154 1307 1482)"/><ellipse cx="1461" cy="1629" rx="3.1" ry="1.4" fill="#1414ff" fill-opacity="0.84" transform="rotate(26 1461 1629)"/><ellipse cx="1558" cy="1310" rx="2.1" ry="1.5" fill="#0808a0" fill-opacity="0.72" transform="rotate(170 1558 1310)"/><ellipse cx="1357" cy="1592" rx="3.5" ry="2.0" fill="#2020ff" fill-opacity="0.80" transform="rotate(51 1357 1592)"/><ellipse cx="1276" cy="1331" rx="1.8" ry="2.0" fill="#0c0ce8" fill-opacity="0.86" transform="rotate(165 1276 1331)"/><ellipse cx="1548" cy="1307" rx="3.6" ry="2.3" fill="#0c0ce8" fill-opacity="0.37" transform="rotate(78 1548 1307)"/><ellipse cx="1323" cy="1520" rx="2.2" ry="2.5" fill="#1414ff" fill-opacity="0.90" transform="rotate(35 1323 1520)"/><ellipse cx="1602" cy="1286" rx="2.9" ry="2.0" fill="#0a0ac4" fill-opacity="0.39" transform="rotate(1 1602 1286)"/><ellipse cx="1436" cy="1401" rx="2.9" ry="2.0" fill="#1414ff" fill-opacity="0.76" transform="rotate(30 1436 1401)"/><ellipse cx="1276" cy="1435" rx="3.9" ry="2.0" fill="#0c0ce8" fill-opacity="0.66" transform="rotate(24 1276 1435)"/><ellipse cx="1485" cy="1329" rx="3.2" ry="1.4" fill="#0808a0" fill-opacity="0.92" transform="rotate(105 1485 1329)"/><ellipse cx="1309" cy="1551" rx="3.5" ry="2.1" fill="#2020ff" fill-opacity="0.93" transform="rotate(98 1309 1551)"/><ellipse cx="1307" cy="1409" rx="2.8" ry="2.6" fill="#0808a0" fill-opacity="0.95" transform="rotate(82 1307 1409)"/><ellipse cx="1456" cy="1291" rx="2.4" ry="2.1" fill="#1414ff" fill-opacity="0.69" transform="rotate(100 1456 1291)"/><ellipse cx="1462" cy="1527" rx="2.5" ry="1.7" fill="#1414ff" fill-opacity="0.53" transform="rotate(170 1462 1527)"/><ellipse cx="1364" cy="1355" rx="2.4" ry="2.4" fill="#0a0ac4" fill-opacity="0.45" transform="rotate(87 1364 1355)"/><ellipse cx="1288" cy="1364" rx="2.2" ry="1.4" fill="#1414ff" fill-opacity="0.95" transform="rotate(162 1288 1364)"/><ellipse cx="1265" cy="1284" rx="3.7" ry="2.2" fill="#0c0ce8" fill-opacity="0.46" transform="rotate(156 1265 1284)"/><ellipse cx="1573" cy="1413" rx="2.3" ry="1.9" fill="#2020ff" fill-opacity="0.79" transform="rotate(116 1573 1413)"/><ellipse cx="1355" cy="1313" rx="2.2" ry="1.8" fill="#0c0ce8" fill-opacity="0.59" transform="rotate(142 1355 1313)"/><ellipse cx="1311" cy="1522" rx="3.9" ry="1.7" fill="#1414ff" fill-opacity="0.56" transform="rotate(8 1311 1522)"/><ellipse cx="1491" cy="1282" rx="3.1" ry="1.9" fill="#2020ff" fill-opacity="0.91" transform="rotate(65 1491 1282)"/><ellipse cx="1405" cy="1539" rx="2.8" ry="2.0" fill="#0c0ce8" fill-opacity="0.80" transform="rotate(71 1405 1539)"/><ellipse cx="1286" cy="1317" rx="3.4" ry="2.3" fill="#2020ff" fill-opacity="0.88" transform="rotate(23 1286 1317)"/><ellipse cx="1365" cy="1517" rx="3.8" ry="2.2" fill="#2020ff" fill-opacity="0.83" transform="rotate(160 1365 1517)"/><ellipse cx="1373" cy="1414" rx="3.4" ry="1.9" fill="#0c0ce8" fill-opacity="0.78" transform="rotate(92 1373 1414)"/><ellipse cx="1560" cy="1484" rx="2.4" ry="1.7" fill="#2020ff" fill-opacity="0.37" transform="rotate(112 1560 1484)"/><ellipse cx="1559" cy="1503" rx="3.2" ry="2.3" fill="#1414ff" fill-opacity="0.49" transform="rotate(121 1559 1503)"/><ellipse cx="1434" cy="1606" rx="3.7" ry="1.5" fill="#0808a0" fill-opacity="0.87" transform="rotate(79 1434 1606)"/><ellipse cx="1258" cy="1527" rx="3.7" ry="2.3" fill="#2020ff" fill-opacity="0.47" transform="rotate(137 1258 1527)"/><ellipse cx="1370" cy="1336" rx="3.8" ry="2.6" fill="#0808a0" fill-opacity="0.64" transform="rotate(97 1370 1336)"/><ellipse cx="1463" cy="1330" rx="3.4" ry="1.8" fill="#2020ff" fill-opacity="0.65" transform="rotate(88 1463 1330)"/><ellipse cx="1517" cy="1558" rx="2.4" ry="2.1" fill="#2020ff" fill-opacity="0.46" transform="rotate(162 1517 1558)"/><ellipse cx="1479" cy="1344" rx="2.5" ry="1.4" fill="#0808a0" fill-opacity="0.84" transform="rotate(3 1479 1344)"/><ellipse cx="1522" cy="1336" rx="3.1" ry="1.7" fill="#2020ff" fill-opacity="0.38" transform="rotate(147 1522 1336)"/><ellipse cx="1276" cy="1437" rx="2.3" ry="2.3" fill="#1414ff" fill-opacity="0.39" transform="rotate(130 1276 1437)"/><ellipse cx="1468" cy="1343" rx="2.9" ry="1.5" fill="#1414ff" fill-opacity="0.92" transform="rotate(1 1468 1343)"/><ellipse cx="1428" cy="1397" rx="3.1" ry="2.2" fill="#2020ff" fill-opacity="0.90" transform="rotate(48 1428 1397)"/><ellipse cx="1372" cy="1505" rx="2.4" ry="1.4" fill="#0a0ac4" fill-opacity="0.94" transform="rotate(21 1372 1505)"/><ellipse cx="1568" cy="1302" rx="2.3" ry="1.6" fill="#0c0ce8" fill-opacity="0.64" transform="rotate(140 1568 1302)"/><ellipse cx="1389" cy="1307" rx="3.7" ry="2.2" fill="#0c0ce8" fill-opacity="0.84" transform="rotate(153 1389 1307)"/><ellipse cx="1499" cy="1432" rx="2.2" ry="1.3" fill="#0c0ce8" fill-opacity="0.73" transform="rotate(147 1499 1432)"/><ellipse cx="1439" cy="1607" rx="2.6" ry="2.0" fill="#2020ff" fill-opacity="0.50" transform="rotate(85 1439 1607)"/><ellipse cx="1477" cy="1377" rx="3.3" ry="1.7" fill="#2020ff" fill-opacity="0.77" transform="rotate(1 1477 1377)"/><ellipse cx="1527" cy="1529" rx="3.5" ry="2.5" fill="#0808a0" fill-opacity="0.93" transform="rotate(21 1527 1529)"/><ellipse cx="1495" cy="1419" rx="3.1" ry="1.5" fill="#1414ff" fill-opacity="0.88" transform="rotate(98 1495 1419)"/><ellipse cx="1442" cy="1307" rx="2.9" ry="2.2" fill="#0c0ce8" fill-opacity="0.74" transform="rotate(55 1442 1307)"/><ellipse cx="1256" cy="1375" rx="2.1" ry="1.6" fill="#1414ff" fill-opacity="0.59" transform="rotate(35 1256 1375)"/><ellipse cx="1438" cy="1377" rx="3.1" ry="1.5" fill="#0a0ac4" fill-opacity="0.64" transform="rotate(18 1438 1377)"/><ellipse cx="1562" cy="1403" rx="3.7" ry="1.9" fill="#1414ff" fill-opacity="0.50" transform="rotate(128 1562 1403)"/><ellipse cx="1584" cy="1341" rx="2.2" ry="2.0" fill="#1414ff" fill-opacity="0.92" transform="rotate(132 1584 1341)"/><ellipse cx="1366" cy="1496" rx="2.9" ry="2.4" fill="#0808a0" fill-opacity="0.62" transform="rotate(147 1366 1496)"/><ellipse cx="1368" cy="1603" rx="3.6" ry="1.9" fill="#0c0ce8" fill-opacity="0.51" transform="rotate(124 1368 1603)"/><ellipse cx="1293" cy="1513" rx="2.9" ry="1.9" fill="#0808a0" fill-opacity="0.93" transform="rotate(135 1293 1513)"/><ellipse cx="1284" cy="1414" rx="2.5" ry="1.3" fill="#0808a0" fill-opacity="0.58" transform="rotate(98 1284 1414)"/><ellipse cx="1563" cy="1519" rx="2.5" ry="2.1" fill="#0c0ce8" fill-opacity="0.59" transform="rotate(87 1563 1519)"/><ellipse cx="1312" cy="1447" rx="2.7" ry="1.7" fill="#0a0ac4" fill-opacity="0.47" transform="rotate(121 1312 1447)"/><ellipse cx="1479" cy="1541" rx="2.2" ry="2.4" fill="#0808a0" fill-opacity="0.37" transform="rotate(103 1479 1541)"/><ellipse cx="1426" cy="1372" rx="2.1" ry="1.4" fill="#0c0ce8" fill-opacity="0.79" transform="rotate(140 1426 1372)"/><ellipse cx="1400" cy="1413" rx="2.7" ry="1.3" fill="#0a0ac4" fill-opacity="0.79" transform="rotate(63 1400 1413)"/><ellipse cx="1302" cy="1425" rx="3.4" ry="2.5" fill="#1414ff" fill-opacity="0.62" transform="rotate(45 1302 1425)"/><ellipse cx="1380" cy="1560" rx="2.1" ry="2.1" fill="#1414ff" fill-opacity="0.66" transform="rotate(18 1380 1560)"/><ellipse cx="1523" cy="1304" rx="1.9" ry="2.2" fill="#0808a0" fill-opacity="0.52" transform="rotate(121 1523 1304)"/><ellipse cx="1513" cy="1626" rx="2.4" ry="1.5" fill="#2020ff" fill-opacity="0.85" transform="rotate(0 1513 1626)"/><ellipse cx="1582" cy="1320" rx="3.0" ry="2.5" fill="#0a0ac4" fill-opacity="0.84" transform="rotate(166 1582 1320)"/><ellipse cx="1559" cy="1505" rx="2.2" ry="1.3" fill="#2020ff" fill-opacity="0.55" transform="rotate(47 1559 1505)"/><ellipse cx="1343" cy="1418" rx="2.2" ry="2.4" fill="#0808a0" fill-opacity="0.69" transform="rotate(11 1343 1418)"/><ellipse cx="1337" cy="1318" rx="2.4" ry="2.5" fill="#0808a0" fill-opacity="0.42" transform="rotate(89 1337 1318)"/><ellipse cx="1390" cy="1555" rx="3.1" ry="2.5" fill="#2020ff" fill-opacity="0.75" transform="rotate(94 1390 1555)"/><ellipse cx="1420" cy="1343" rx="3.3" ry="1.4" fill="#0a0ac4" fill-opacity="0.76" transform="rotate(152 1420 1343)"/><ellipse cx="1462" cy="1538" rx="2.5" ry="2.2" fill="#1414ff" fill-opacity="0.77" transform="rotate(94 1462 1538)"/><ellipse cx="1570" cy="1418" rx="2.5" ry="1.7" fill="#0808a0" fill-opacity="0.72" transform="rotate(96 1570 1418)"/><ellipse cx="1384" cy="1579" rx="2.3" ry="1.8" fill="#1414ff" fill-opacity="0.40" transform="rotate(62 1384 1579)"/><ellipse cx="1344" cy="1598" rx="3.2" ry="2.0" fill="#0a0ac4" fill-opacity="0.70" transform="rotate(153 1344 1598)"/><ellipse cx="1394" cy="1584" rx="3.4" ry="2.5" fill="#0a0ac4" fill-opacity="0.50" transform="rotate(161 1394 1584)"/><ellipse cx="1582" cy="1353" rx="3.1" ry="1.4" fill="#2020ff" fill-opacity="0.93" transform="rotate(18 1582 1353)"/><ellipse cx="1260" cy="1394" rx="2.0" ry="2.0" fill="#1414ff" fill-opacity="0.63" transform="rotate(59 1260 1394)"/><ellipse cx="1310" cy="1404" rx="2.9" ry="1.4" fill="#0a0ac4" fill-opacity="0.90" transform="rotate(65 1310 1404)"/><ellipse cx="1487" cy="1458" rx="2.1" ry="2.2" fill="#1414ff" fill-opacity="0.60" transform="rotate(125 1487 1458)"/><ellipse cx="1551" cy="1328" rx="2.8" ry="2.3" fill="#0a0ac4" fill-opacity="0.78" transform="rotate(98 1551 1328)"/><ellipse cx="1543" cy="1340" rx="2.2" ry="1.8" fill="#2020ff" fill-opacity="0.68" transform="rotate(31 1543 1340)"/><ellipse cx="1362" cy="1606" rx="3.5" ry="1.5" fill="#0808a0" fill-opacity="0.75" transform="rotate(143 1362 1606)"/><ellipse cx="1567" cy="1525" rx="1.9" ry="2.0" fill="#0c0ce8" fill-opacity="0.53" transform="rotate(166 1567 1525)"/><ellipse cx="1407" cy="1538" rx="3.2" ry="2.1" fill="#1414ff" fill-opacity="0.67" transform="rotate(132 1407 1538)"/><ellipse cx="1493" cy="1392" rx="3.2" ry="2.4" fill="#1414ff" fill-opacity="0.46" transform="rotate(5 1493 1392)"/><ellipse cx="1346" cy="1593" rx="2.5" ry="1.7" fill="#0a0ac4" fill-opacity="0.63" transform="rotate(9 1346 1593)"/><ellipse cx="1512" cy="1321" rx="3.1" ry="2.5" fill="#0a0ac4" fill-opacity="0.74" transform="rotate(57 1512 1321)"/><ellipse cx="1274" cy="1284" rx="3.5" ry="2.4" fill="#0a0ac4" fill-opacity="0.57" transform="rotate(179 1274 1284)"/><ellipse cx="1499" cy="1509" rx="3.5" ry="2.3" fill="#0808a0" fill-opacity="0.62" transform="rotate(11 1499 1509)"/><ellipse cx="1487" cy="1452" rx="3.0" ry="2.4" fill="#2020ff" fill-opacity="0.64" transform="rotate(84 1487 1452)"/><ellipse cx="1451" cy="1464" rx="2.2" ry="2.1" fill="#0808a0" fill-opacity="0.95" transform="rotate(121 1451 1464)"/><ellipse cx="1465" cy="1454" rx="4.0" ry="1.6" fill="#1414ff" fill-opacity="0.60" transform="rotate(6 1465 1454)"/><ellipse cx="1382" cy="1590" rx="3.4" ry="2.1" fill="#0a0ac4" fill-opacity="0.70" transform="rotate(132 1382 1590)"/><ellipse cx="1295" cy="1585" rx="3.4" ry="2.5" fill="#0c0ce8" fill-opacity="0.59" transform="rotate(121 1295 1585)"/><ellipse cx="1289" cy="1619" rx="3.4" ry="1.5" fill="#1414ff" fill-opacity="0.39" transform="rotate(102 1289 1619)"/><ellipse cx="1298" cy="1530" rx="3.5" ry="2.0" fill="#0c0ce8" fill-opacity="0.84" transform="rotate(38 1298 1530)"/><ellipse cx="1556" cy="1620" rx="4.0" ry="2.4" fill="#2020ff" fill-opacity="0.66" transform="rotate(16 1556 1620)"/><ellipse cx="1572" cy="1625" rx="2.8" ry="2.1" fill="#2020ff" fill-opacity="0.82" transform="rotate(38 1572 1625)"/><ellipse cx="1422" cy="1598" rx="4.0" ry="1.7" fill="#0a0ac4" fill-opacity="0.84" transform="rotate(53 1422 1598)"/><ellipse cx="1331" cy="1476" rx="2.8" ry="2.6" fill="#0a0ac4" fill-opacity="0.65" transform="rotate(155 1331 1476)"/><ellipse cx="1536" cy="1364" rx="3.0" ry="2.1" fill="#0c0ce8" fill-opacity="0.49" transform="rotate(161 1536 1364)"/><ellipse cx="1601" cy="1302" rx="3.3" ry="1.8" fill="#2020ff" fill-opacity="0.70" transform="rotate(113 1601 1302)"/><ellipse cx="1503" cy="1391" rx="4.0" ry="1.4" fill="#1414ff" fill-opacity="0.61" transform="rotate(137 1503 1391)"/><ellipse cx="1311" cy="1341" rx="2.1" ry="2.3" fill="#0a0ac4" fill-opacity="0.86" transform="rotate(85 1311 1341)"/><ellipse cx="1591" cy="1548" rx="2.6" ry="2.5" fill="#0808a0" fill-opacity="0.36" transform="rotate(38 1591 1548)"/><ellipse cx="1386" cy="1359" rx="2.1" ry="2.4" fill="#0a0ac4" fill-opacity="0.44" transform="rotate(155 1386 1359)"/><ellipse cx="1296" cy="1590" rx="2.7" ry="2.3" fill="#0a0ac4" fill-opacity="0.51" transform="rotate(43 1296 1590)"/><ellipse cx="1319" cy="1538" rx="3.4" ry="2.1" fill="#0808a0" fill-opacity="0.71" transform="rotate(153 1319 1538)"/><ellipse cx="1567" cy="1293" rx="2.6" ry="2.6" fill="#2020ff" fill-opacity="0.48" transform="rotate(51 1567 1293)"/><ellipse cx="1588" cy="1539" rx="2.9" ry="1.4" fill="#2020ff" fill-opacity="0.59" transform="rotate(122 1588 1539)"/><ellipse cx="1461" cy="1590" rx="3.5" ry="1.5" fill="#0c0ce8" fill-opacity="0.85" transform="rotate(115 1461 1590)"/><ellipse cx="1440" cy="1397" rx="2.7" ry="1.7" fill="#0808a0" fill-opacity="0.64" transform="rotate(23 1440 1397)"/><ellipse cx="1554" cy="1564" rx="2.6" ry="2.4" fill="#1414ff" fill-opacity="0.50" transform="rotate(69 1554 1564)"/><ellipse cx="1347" cy="1329" rx="2.2" ry="2.4" fill="#2020ff" fill-opacity="0.36" transform="rotate(109 1347 1329)"/><ellipse cx="1295" cy="1315" rx="3.3" ry="1.5" fill="#0c0ce8" fill-opacity="0.86" transform="rotate(142 1295 1315)"/><ellipse cx="1405" cy="1524" rx="3.3" ry="2.0" fill="#1414ff" fill-opacity="0.63" transform="rotate(23 1405 1524)"/><ellipse cx="1450" cy="1486" rx="2.9" ry="2.4" fill="#1414ff" fill-opacity="0.71" transform="rotate(175 1450 1486)"/><ellipse cx="1389" cy="1592" rx="3.9" ry="1.6" fill="#1414ff" fill-opacity="0.80" transform="rotate(94 1389 1592)"/><ellipse cx="1589" cy="1480" rx="3.7" ry="1.7" fill="#0c0ce8" fill-opacity="0.82" transform="rotate(20 1589 1480)"/><ellipse cx="1573" cy="1559" rx="3.9" ry="2.0" fill="#2020ff" fill-opacity="0.44" transform="rotate(95 1573 1559)"/><ellipse cx="1408" cy="1519" rx="2.5" ry="1.7" fill="#0808a0" fill-opacity="0.64" transform="rotate(73 1408 1519)"/><ellipse cx="1521" cy="1614" rx="2.3" ry="1.8" fill="#1414ff" fill-opacity="0.58" transform="rotate(24 1521 1614)"/><ellipse cx="1515" cy="1621" rx="1.9" ry="1.9" fill="#0c0ce8" fill-opacity="0.73" transform="rotate(50 1515 1621)"/><ellipse cx="1255" cy="1560" rx="3.8" ry="2.0" fill="#2020ff" fill-opacity="0.61" transform="rotate(139 1255 1560)"/><ellipse cx="1593" cy="1540" rx="4.0" ry="2.2" fill="#2020ff" fill-opacity="0.82" transform="rotate(162 1593 1540)"/><ellipse cx="1429" cy="1520" rx="3.3" ry="1.9" fill="#0808a0" fill-opacity="0.60" transform="rotate(169 1429 1520)"/><ellipse cx="1390" cy="1616" rx="3.3" ry="1.4" fill="#1414ff" fill-opacity="0.62" transform="rotate(120 1390 1616)"/><ellipse cx="1376" cy="1622" rx="1.9" ry="1.9" fill="#0a0ac4" fill-opacity="0.36" transform="rotate(124 1376 1622)"/><ellipse cx="1554" cy="1584" rx="3.5" ry="2.1" fill="#1414ff" fill-opacity="0.90" transform="rotate(95 1554 1584)"/><ellipse cx="1386" cy="1389" rx="3.7" ry="2.0" fill="#0c0ce8" fill-opacity="0.43" transform="rotate(25 1386 1389)"/><ellipse cx="1542" cy="1315" rx="1.9" ry="1.9" fill="#0a0ac4" fill-opacity="0.39" transform="rotate(128 1542 1315)"/><ellipse cx="1356" cy="1467" rx="2.8" ry="1.6" fill="#0808a0" fill-opacity="0.78" transform="rotate(78 1356 1467)"/><ellipse cx="1539" cy="1366" rx="2.1" ry="2.0" fill="#1414ff" fill-opacity="0.86" transform="rotate(105 1539 1366)"/><ellipse cx="1360" cy="1384" rx="3.2" ry="2.5" fill="#0c0ce8" fill-opacity="0.89" transform="rotate(38 1360 1384)"/><ellipse cx="1450" cy="1359" rx="2.3" ry="1.6" fill="#0c0ce8" fill-opacity="0.88" transform="rotate(6 1450 1359)"/><ellipse cx="1493" cy="1548" rx="2.2" ry="1.7" fill="#0808a0" fill-opacity="0.52" transform="rotate(62 1493 1548)"/><ellipse cx="1272" cy="1595" rx="2.9" ry="1.8" fill="#1414ff" fill-opacity="0.36" transform="rotate(47 1272 1595)"/><ellipse cx="1539" cy="1461" rx="2.0" ry="2.1" fill="#0a0ac4" fill-opacity="0.84" transform="rotate(153 1539 1461)"/><ellipse cx="1263" cy="1311" rx="3.4" ry="1.7" fill="#1414ff" fill-opacity="0.56" transform="rotate(146 1263 1311)"/></g></g>
<line x1="1274.5" y1="1611" x2="1316" y2="1611" stroke="#fff" stroke-width="1.6"/>
<circle cx="1274.5" cy="1611" r="1.8" fill="#fff"/><circle cx="1316" cy="1611" r="1.8" fill="#fff"/>
<text x="1295.2" y="1618.0" font-family="'Liberation Sans', Arial, sans-serif" font-size="5" font-weight="normal" fill="#fff" text-anchor="middle">50 µm</text>
<text x="1592.0" y="1308.8" font-family="'Liberation Sans', Arial, sans-serif" font-size="29.5" font-weight="normal" fill="#06c4fc" text-anchor="end">DAPI</text>
<text x="1594.3" y="1342.7" font-family="'Liberation Sans', Arial, sans-serif" font-size="30" font-weight="normal" fill="#fcfc6c" text-anchor="end">CD14</text>
<text x="20.5" y="1235.2" font-family="'Liberation Sans', Arial, sans-serif" font-size="53" font-weight="bold" fill="#000" text-anchor="start">G</text>
<text x="96.3" y="1252.0" font-family="'Liberation Sans', Arial, sans-serif" font-size="38.5" font-weight="normal" fill="#000" text-anchor="start" textLength="298.0" lengthAdjust="spacingAndGlyphs">Secondary Alone</text>
<text x="486.5" y="1251.7" font-family="'Liberation Sans', Arial, sans-serif" font-size="38.5" font-weight="normal" fill="#000" text-anchor="start" textLength="254.0" lengthAdjust="spacingAndGlyphs">CD14 Staining</text>
<text x="911.2" y="1251.0" font-family="'Liberation Sans', Arial, sans-serif" font-size="38.5" font-weight="normal" fill="#000" text-anchor="start" textLength="297.0" lengthAdjust="spacingAndGlyphs">Secondary Alone</text>
<text x="1300.8" y="1251.5" font-family="'Liberation Sans', Arial, sans-serif" font-size="38.5" font-weight="normal" fill="#000" text-anchor="start" textLength="254.5" lengthAdjust="spacingAndGlyphs">CD14 Staining</text>
<text x="32.3" y="1462.0" font-family="'Liberation Sans', Arial, sans-serif" font-size="39.5" font-weight="normal" fill="#000" text-anchor="middle" textLength="342.0" lengthAdjust="spacingAndGlyphs" transform="rotate(-90 32.3 1462.0)">Cell-Injected Sheep</text>
<text x="867.5" y="1457.2" font-family="'Liberation Sans', Arial, sans-serif" font-size="39.5" font-weight="normal" fill="#000" text-anchor="middle" textLength="252.5" lengthAdjust="spacingAndGlyphs" transform="rotate(-90 867.5 1457.2)">Control Sheep</text>
<text x="888.0" y="718.2" font-family="'Liberation Sans', Arial, sans-serif" font-size="52" font-weight="bold" fill="#000" text-anchor="start">E</text>
<text x="957.0" y="747.0" font-family="'Liberation Sans', Arial, sans-serif" font-size="39.5" font-weight="normal" fill="#000" text-anchor="start" textLength="233.5" lengthAdjust="spacingAndGlyphs">vWF Staining</text>
<clipPath id="imE"><rect x="898.9" y="767.4" width="352.1" height="352.30000000000007"/></clipPath>
<g clip-path="url(#imE)"><rect x="898.9" y="767.4" width="352.1" height="352.30000000000007" fill="#04111b"/><g filter="url(#bl2)"><polygon points="898,880 898,960 1251,1090 1251,1000" fill="#000305" fill-opacity="0.55"/><polygon points="898,770 1251,770 1251,930 898,800" fill="#020a10" fill-opacity="0.5"/><ellipse cx="1037" cy="1089" rx="3.3" ry="3.0" fill="#1426d8" fill-opacity="0.54" transform="rotate(122 1037 1089)"/><ellipse cx="997" cy="982" rx="2.4" ry="2.0" fill="#3040ff" fill-opacity="0.56" transform="rotate(170 997 982)"/><ellipse cx="1086" cy="961" rx="4.3" ry="1.9" fill="#1a2af0" fill-opacity="0.61" transform="rotate(134 1086 961)"/><ellipse cx="1212" cy="1039" rx="2.7" ry="2.9" fill="#3040ff" fill-opacity="0.60" transform="rotate(164 1212 1039)"/><ellipse cx="1208" cy="787" rx="2.3" ry="2.0" fill="#3040ff" fill-opacity="0.87" transform="rotate(68 1208 787)"/><ellipse cx="1238" cy="769" rx="4.2" ry="1.9" fill="#2438ff" fill-opacity="0.50" transform="rotate(138 1238 769)"/><ellipse cx="948" cy="1000" rx="3.1" ry="2.2" fill="#2438ff" fill-opacity="0.82" transform="rotate(97 948 1000)"/><ellipse cx="1206" cy="1030" rx="2.7" ry="2.7" fill="#1a2af0" fill-opacity="0.93" transform="rotate(172 1206 1030)"/><ellipse cx="1158" cy="970" rx="4.4" ry="2.0" fill="#3040ff" fill-opacity="0.81" transform="rotate(6 1158 970)"/><ellipse cx="1074" cy="1040" rx="4.2" ry="1.8" fill="#1a2af0" fill-opacity="0.94" transform="rotate(102 1074 1040)"/><ellipse cx="1182" cy="1002" rx="2.9" ry="2.6" fill="#1a2af0" fill-opacity="0.50" transform="rotate(103 1182 1002)"/><ellipse cx="1213" cy="968" rx="2.3" ry="2.9" fill="#1426d8" fill-opacity="0.51" transform="rotate(16 1213 968)"/><ellipse cx="1183" cy="943" rx="3.4" ry="1.7" fill="#2438ff" fill-opacity="0.82" transform="rotate(128 1183 943)"/><ellipse cx="1020" cy="1056" rx="3.7" ry="1.9" fill="#2438ff" fill-opacity="0.92" transform="rotate(101 1020 1056)"/><ellipse cx="1068" cy="980" rx="4.5" ry="2.6" fill="#2438ff" fill-opacity="0.51" transform="rotate(47 1068 980)"/><ellipse cx="1234" cy="940" rx="2.7" ry="2.4" fill="#1426d8" fill-opacity="0.64" transform="rotate(3 1234 940)"/><ellipse cx="1162" cy="872" rx="3.1" ry="2.7" fill="#3040ff" fill-opacity="0.88" transform="rotate(21 1162 872)"/><ellipse cx="1163" cy="983" rx="3.2" ry="1.8" fill="#1020b8" fill-opacity="0.52" transform="rotate(108 1163 983)"/><ellipse cx="1202" cy="956" rx="4.1" ry="1.9" fill="#2438ff" fill-opacity="0.74" transform="rotate(29 1202 956)"/><ellipse cx="1164" cy="1076" rx="3.3" ry="3.1" fill="#1426d8" fill-opacity="0.51" transform="rotate(107 1164 1076)"/><ellipse cx="1212" cy="959" rx="3.6" ry="2.9" fill="#1020b8" fill-opacity="0.94" transform="rotate(94 1212 959)"/><ellipse cx="980" cy="1061" rx="3.7" ry="2.3" fill="#1a2af0" fill-opacity="0.75" transform="rotate(25 980 1061)"/><ellipse cx="996" cy="993" rx="2.6" ry="2.9" fill="#3040ff" fill-opacity="0.86" transform="rotate(44 996 993)"/><ellipse cx="1256" cy="968" rx="3.0" ry="1.7" fill="#3040ff" fill-opacity="0.59" transform="rotate(110 1256 968)"/><ellipse cx="1188" cy="1003" rx="3.3" ry="1.6" fill="#1020b8" fill-opacity="0.89" transform="rotate(112 1188 1003)"/><ellipse cx="1164" cy="1074" rx="4.5" ry="2.9" fill="#3040ff" fill-opacity="0.55" transform="rotate(106 1164 1074)"/><ellipse cx="1220" cy="964" rx="2.3" ry="1.8" fill="#1a2af0" fill-opacity="0.97" transform="rotate(174 1220 964)"/><ellipse cx="1029" cy="1028" rx="2.5" ry="3.0" fill="#1020b8" fill-opacity="0.54" transform="rotate(84 1029 1028)"/><ellipse cx="1245" cy="962" rx="3.3" ry="2.3" fill="#1a2af0" fill-opacity="0.95" transform="rotate(110 1245 962)"/><ellipse cx="1012" cy="1057" rx="2.3" ry="1.7" fill="#1426d8" fill-opacity="0.59" transform="rotate(11 1012 1057)"/><ellipse cx="1194" cy="1038" rx="2.1" ry="2.3" fill="#1a2af0" fill-opacity="0.71" transform="rotate(166 1194 1038)"/><ellipse cx="1117" cy="1027" rx="2.7" ry="2.3" fill="#1a2af0" fill-opacity="0.81" transform="rotate(77 1117 1027)"/><ellipse cx="1173" cy="1062" rx="2.4" ry="2.5" fill="#1a2af0" fill-opacity="0.59" transform="rotate(11 1173 1062)"/><ellipse cx="1131" cy="816" rx="4.4" ry="3.1" fill="#1426d8" fill-opacity="0.80" transform="rotate(113 1131 816)"/><ellipse cx="1135" cy="903" rx="2.2" ry="2.7" fill="#1426d8" fill-opacity="0.71" transform="rotate(125 1135 903)"/><ellipse cx="1048" cy="1016" rx="3.8" ry="2.1" fill="#3040ff" fill-opacity="0.77" transform="rotate(90 1048 1016)"/><ellipse cx="1035" cy="997" rx="2.4" ry="1.8" fill="#1426d8" fill-opacity="0.91" transform="rotate(16 1035 997)"/><ellipse cx="1127" cy="907" rx="4.2" ry="2.4" fill="#1020b8" fill-opacity="0.68" transform="rotate(160 1127 907)"/><ellipse cx="969" cy="1089" rx="3.9" ry="1.9" fill="#1020b8" fill-opacity="0.59" transform="rotate(102 969 1089)"/><ellipse cx="991" cy="1036" rx="4.3" ry="2.8" fill="#3040ff" fill-opacity="0.64" transform="rotate(136 991 1036)"/><ellipse cx="1073" cy="1058" rx="3.9" ry="2.2" fill="#2438ff" fill-opacity="0.80" transform="rotate(32 1073 1058)"/><ellipse cx="1072" cy="1073" rx="3.1" ry="2.1" fill="#1a2af0" fill-opacity="0.87" transform="rotate(140 1072 1073)"/><ellipse cx="1126" cy="1076" rx="2.0" ry="2.5" fill="#3040ff" fill-opacity="0.52" transform="rotate(123 1126 1076)"/><ellipse cx="1023" cy="899" rx="4.2" ry="2.3" fill="#3040ff" fill-opacity="0.86" transform="rotate(67 1023 899)"/><ellipse cx="1170" cy="952" rx="2.7" ry="2.0" fill="#1426d8" fill-opacity="0.73" transform="rotate(15 1170 952)"/><ellipse cx="1045" cy="985" rx="2.1" ry="2.7" fill="#2438ff" fill-opacity="0.79" transform="rotate(121 1045 985)"/><ellipse cx="1130" cy="887" rx="2.7" ry="1.7" fill="#1426d8" fill-opacity="0.70" transform="rotate(127 1130 887)"/><ellipse cx="1058" cy="1107" rx="4.1" ry="3.0" fill="#2438ff" fill-opacity="0.86" transform="rotate(8 1058 1107)"/><ellipse cx="1160" cy="1023" rx="4.1" ry="1.7" fill="#2438ff" fill-opacity="1.00" transform="rotate(166 1160 1023)"/><ellipse cx="1095" cy="1062" rx="2.2" ry="3.1" fill="#1020b8" fill-opacity="0.76" transform="rotate(153 1095 1062)"/><ellipse cx="867" cy="1045" rx="3.2" ry="3.1" fill="#1020b8" fill-opacity="0.55" transform="rotate(133 867 1045)"/><ellipse cx="968" cy="1021" rx="2.6" ry="1.9" fill="#1426d8" fill-opacity="0.82" transform="rotate(46 968 1021)"/><ellipse cx="1029" cy="992" rx="3.4" ry="1.6" fill="#2438ff" fill-opacity="0.87" transform="rotate(58 1029 992)"/><ellipse cx="1008" cy="1022" rx="2.9" ry="2.5" fill="#3040ff" fill-opacity="0.85" transform="rotate(159 1008 1022)"/><ellipse cx="1096" cy="1002" rx="2.4" ry="2.5" fill="#1020b8" fill-opacity="0.71" transform="rotate(11 1096 1002)"/><ellipse cx="966" cy="993" rx="4.2" ry="1.7" fill="#1020b8" fill-opacity="0.99" transform="rotate(130 966 993)"/><ellipse cx="1189" cy="1071" rx="3.9" ry="1.8" fill="#3040ff" fill-opacity="0.94" transform="rotate(176 1189 1071)"/><ellipse cx="1138" cy="846" rx="2.9" ry="3.2" fill="#3040ff" fill-opacity="0.90" transform="rotate(47 1138 846)"/><ellipse cx="1198" cy="1005" rx="3.1" ry="1.6" fill="#1426d8" fill-opacity="0.72" transform="rotate(129 1198 1005)"/><ellipse cx="1279" cy="950" rx="3.5" ry="2.0" fill="#2438ff" fill-opacity="0.86" transform="rotate(176 1279 950)"/><ellipse cx="1017" cy="1039" rx="3.7" ry="3.0" fill="#1426d8" fill-opacity="0.99" transform="rotate(69 1017 1039)"/><ellipse cx="991" cy="1102" rx="2.8" ry="2.1" fill="#2438ff" fill-opacity="0.86" transform="rotate(160 991 1102)"/><ellipse cx="1077" cy="1103" rx="3.9" ry="2.3" fill="#1020b8" fill-opacity="0.80" transform="rotate(176 1077 1103)"/><ellipse cx="1207" cy="1043" rx="2.2" ry="2.4" fill="#1426d8" fill-opacity="0.79" transform="rotate(136 1207 1043)"/><ellipse cx="1226" cy="999" rx="4.3" ry="2.5" fill="#3040ff" fill-opacity="0.51" transform="rotate(74 1226 999)"/><ellipse cx="1113" cy="960" rx="2.4" ry="1.6" fill="#1020b8" fill-opacity="0.94" transform="rotate(48 1113 960)"/><ellipse cx="1274" cy="1017" rx="3.9" ry="1.9" fill="#1426d8" fill-opacity="0.99" transform="rotate(180 1274 1017)"/><ellipse cx="1030" cy="1081" rx="4.3" ry="3.1" fill="#1426d8" fill-opacity="0.63" transform="rotate(141 1030 1081)"/><ellipse cx="1113" cy="1052" rx="2.6" ry="2.1" fill="#3040ff" fill-opacity="0.69" transform="rotate(13 1113 1052)"/><ellipse cx="1246" cy="993" rx="2.2" ry="2.8" fill="#1a2af0" fill-opacity="0.93" transform="rotate(21 1246 993)"/><ellipse cx="1253" cy="1028" rx="2.4" ry="1.7" fill="#2438ff" fill-opacity="0.95" transform="rotate(80 1253 1028)"/><ellipse cx="1180" cy="1024" rx="3.2" ry="2.5" fill="#2438ff" fill-opacity="0.70" transform="rotate(40 1180 1024)"/><ellipse cx="993" cy="854" rx="2.7" ry="1.8" fill="#1426d8" fill-opacity="0.87" transform="rotate(125 993 854)"/><ellipse cx="1112" cy="902" rx="3.5" ry="2.9" fill="#1a2af0" fill-opacity="0.69" transform="rotate(82 1112 902)"/><ellipse cx="1070" cy="1090" rx="3.4" ry="2.6" fill="#1426d8" fill-opacity="0.55" transform="rotate(146 1070 1090)"/><ellipse cx="1254" cy="1040" rx="4.2" ry="3.1" fill="#1020b8" fill-opacity="0.81" transform="rotate(122 1254 1040)"/><ellipse cx="1050" cy="1079" rx="3.5" ry="2.2" fill="#1426d8" fill-opacity="0.92" transform="rotate(143 1050 1079)"/><ellipse cx="1183" cy="996" rx="2.2" ry="3.1" fill="#1020b8" fill-opacity="0.56" transform="rotate(125 1183 996)"/><ellipse cx="1142" cy="974" rx="2.4" ry="1.8" fill="#3040ff" fill-opacity="0.75" transform="rotate(86 1142 974)"/><ellipse cx="1030" cy="1054" rx="3.6" ry="2.6" fill="#1020b8" fill-opacity="0.50" transform="rotate(18 1030 1054)"/><ellipse cx="1207" cy="1030" rx="4.4" ry="2.0" fill="#1426d8" fill-opacity="0.58" transform="rotate(94 1207 1030)"/><ellipse cx="996" cy="942" rx="3.8" ry="2.8" fill="#3040ff" fill-opacity="0.51" transform="rotate(34 996 942)"/><ellipse cx="1139" cy="1029" rx="4.0" ry="2.6" fill="#1426d8" fill-opacity="0.77" transform="rotate(151 1139 1029)"/><ellipse cx="1219" cy="934" rx="2.5" ry="1.7" fill="#1a2af0" fill-opacity="0.92" transform="rotate(17 1219 934)"/><ellipse cx="949" cy="1040" rx="3.9" ry="2.0" fill="#1426d8" fill-opacity="0.53" transform="rotate(163 949 1040)"/><ellipse cx="1121" cy="949" rx="4.3" ry="2.5" fill="#1426d8" fill-opacity="0.59" transform="rotate(126 1121 949)"/><ellipse cx="1178" cy="1061" rx="2.5" ry="1.8" fill="#2438ff" fill-opacity="0.87" transform="rotate(126 1178 1061)"/><ellipse cx="1173" cy="1079" rx="2.6" ry="2.4" fill="#3040ff" fill-opacity="0.64" transform="rotate(81 1173 1079)"/><ellipse cx="1237" cy="971" rx="3.9" ry="2.1" fill="#1426d8" fill-opacity="0.81" transform="rotate(20 1237 971)"/><ellipse cx="1215" cy="1010" rx="4.1" ry="1.8" fill="#1020b8" fill-opacity="0.64" transform="rotate(174 1215 1010)"/><ellipse cx="1132" cy="1095" rx="4.2" ry="2.2" fill="#1020b8" fill-opacity="0.60" transform="rotate(149 1132 1095)"/><ellipse cx="1201" cy="885" rx="4.0" ry="2.3" fill="#1a2af0" fill-opacity="0.91" transform="rotate(161 1201 885)"/><ellipse cx="999" cy="981" rx="2.6" ry="3.1" fill="#3040ff" fill-opacity="0.89" transform="rotate(131 999 981)"/><ellipse cx="990" cy="1066" rx="3.1" ry="2.1" fill="#2438ff" fill-opacity="0.83" transform="rotate(72 990 1066)"/><ellipse cx="1110" cy="978" rx="4.2" ry="2.3" fill="#3040ff" fill-opacity="0.52" transform="rotate(45 1110 978)"/><ellipse cx="1088" cy="1085" rx="2.9" ry="3.1" fill="#3040ff" fill-opacity="0.51" transform="rotate(132 1088 1085)"/><ellipse cx="1211" cy="966" rx="3.6" ry="2.2" fill="#1020b8" fill-opacity="0.74" transform="rotate(129 1211 966)"/><ellipse cx="1248" cy="954" rx="4.1" ry="3.0" fill="#1020b8" fill-opacity="0.56" transform="rotate(69 1248 954)"/><ellipse cx="1091" cy="1048" rx="3.0" ry="2.4" fill="#2438ff" fill-opacity="0.66" transform="rotate(102 1091 1048)"/><ellipse cx="1047" cy="1080" rx="2.8" ry="1.9" fill="#3040ff" fill-opacity="0.55" transform="rotate(135 1047 1080)"/><ellipse cx="1235" cy="985" rx="4.2" ry="2.2" fill="#1020b8" fill-opacity="0.53" transform="rotate(103 1235 985)"/><ellipse cx="1186" cy="997" rx="3.3" ry="2.8" fill="#2438ff" fill-opacity="0.83" transform="rotate(171 1186 997)"/><ellipse cx="1123" cy="1069" rx="2.1" ry="2.9" fill="#3040ff" fill-opacity="0.89" transform="rotate(156 1123 1069)"/><ellipse cx="1180" cy="847" rx="3.9" ry="1.7" fill="#1426d8" fill-opacity="0.66" transform="rotate(65 1180 847)"/><ellipse cx="1018" cy="997" rx="3.8" ry="2.8" fill="#1020b8" fill-opacity="1.00" transform="rotate(56 1018 997)"/><ellipse cx="1125" cy="928" rx="2.6" ry="2.4" fill="#3040ff" fill-opacity="0.78" transform="rotate(176 1125 928)"/><ellipse cx="1078" cy="980" rx="2.0" ry="1.7" fill="#1020b8" fill-opacity="0.88" transform="rotate(96 1078 980)"/><ellipse cx="1056" cy="1073" rx="4.3" ry="2.5" fill="#2438ff" fill-opacity="0.70" transform="rotate(176 1056 1073)"/><ellipse cx="1105" cy="861" rx="4.5" ry="2.8" fill="#1020b8" fill-opacity="0.62" transform="rotate(178 1105 861)"/><ellipse cx="1198" cy="973" rx="4.2" ry="2.4" fill="#2438ff" fill-opacity="0.72" transform="rotate(5 1198 973)"/><ellipse cx="1087" cy="991" rx="3.4" ry="2.2" fill="#1426d8" fill-opacity="0.69" transform="rotate(151 1087 991)"/><ellipse cx="986" cy="989" rx="2.3" ry="2.8" fill="#2438ff" fill-opacity="0.88" transform="rotate(68 986 989)"/><ellipse cx="1220" cy="948" rx="2.2" ry="2.4" fill="#1426d8" fill-opacity="0.79" transform="rotate(148 1220 948)"/><ellipse cx="1082" cy="1060" rx="4.4" ry="1.7" fill="#1426d8" fill-opacity="1.00" transform="rotate(89 1082 1060)"/><ellipse cx="1064" cy="1049" rx="3.1" ry="2.4" fill="#2438ff" fill-opacity="0.76" transform="rotate(123 1064 1049)"/><ellipse cx="1194" cy="995" rx="4.4" ry="1.8" fill="#2438ff" fill-opacity="0.90" transform="rotate(88 1194 995)"/><ellipse cx="1049" cy="982" rx="3.3" ry="1.8" fill="#2438ff" fill-opacity="0.55" transform="rotate(43 1049 982)"/><ellipse cx="1187" cy="1069" rx="3.5" ry="2.7" fill="#1426d8" fill-opacity="0.54" transform="rotate(173 1187 1069)"/><ellipse cx="914" cy="942" rx="3.1" ry="2.5" fill="#3040ff" fill-opacity="0.97" transform="rotate(113 914 942)"/><ellipse cx="1163" cy="1046" rx="3.8" ry="1.8" fill="#1020b8" fill-opacity="0.76" transform="rotate(55 1163 1046)"/><ellipse cx="1209" cy="819" rx="2.1" ry="3.1" fill="#3040ff" fill-opacity="0.95" transform="rotate(95 1209 819)"/><ellipse cx="1263" cy="1008" rx="2.4" ry="2.0" fill="#2438ff" fill-opacity="0.77" transform="rotate(83 1263 1008)"/><ellipse cx="1130" cy="1073" rx="3.0" ry="2.9" fill="#2438ff" fill-opacity="0.79" transform="rotate(143 1130 1073)"/><ellipse cx="976" cy="941" rx="2.5" ry="2.5" fill="#1a2af0" fill-opacity="0.52" transform="rotate(145 976 941)"/><ellipse cx="1274" cy="949" rx="2.2" ry="2.2" fill="#1426d8" fill-opacity="0.66" transform="rotate(151 1274 949)"/><ellipse cx="1062" cy="1069" rx="2.5" ry="3.0" fill="#3040ff" fill-opacity="0.59" transform="rotate(163 1062 1069)"/><ellipse cx="1036" cy="992" rx="3.3" ry="3.0" fill="#1426d8" fill-opacity="0.77" transform="rotate(78 1036 992)"/><ellipse cx="1170" cy="1056" rx="4.4" ry="2.1" fill="#1020b8" fill-opacity="0.57" transform="rotate(94 1170 1056)"/><ellipse cx="1203" cy="1044" rx="4.3" ry="2.0" fill="#2438ff" fill-opacity="0.52" transform="rotate(135 1203 1044)"/><ellipse cx="1047" cy="1066" rx="3.1" ry="2.4" fill="#2438ff" fill-opacity="0.72" transform="rotate(103 1047 1066)"/><ellipse cx="1052" cy="1033" rx="3.1" ry="3.2" fill="#1020b8" fill-opacity="0.57" transform="rotate(136 1052 1033)"/><ellipse cx="1173" cy="1068" rx="4.1" ry="2.6" fill="#2438ff" fill-opacity="0.93" transform="rotate(40 1173 1068)"/><ellipse cx="1155" cy="1034" rx="3.1" ry="2.6" fill="#3040ff" fill-opacity="0.80" transform="rotate(159 1155 1034)"/><ellipse cx="948" cy="1010" rx="3.6" ry="3.0" fill="#3040ff" fill-opacity="0.72" transform="rotate(7 948 1010)"/><ellipse cx="1084" cy="1074" rx="2.6" ry="2.8" fill="#1020b8" fill-opacity="0.55" transform="rotate(21 1084 1074)"/><ellipse cx="1134" cy="1067" rx="4.1" ry="2.2" fill="#1020b8" fill-opacity="0.72" transform="rotate(19 1134 1067)"/><ellipse cx="1221" cy="976" rx="3.1" ry="1.8" fill="#1020b8" fill-opacity="0.89" transform="rotate(2 1221 976)"/><ellipse cx="968" cy="1090" rx="3.3" ry="2.4" fill="#1020b8" fill-opacity="0.60" transform="rotate(165 968 1090)"/><ellipse cx="1095" cy="1017" rx="3.4" ry="2.1" fill="#3040ff" fill-opacity="0.83" transform="rotate(109 1095 1017)"/><ellipse cx="1157" cy="1019" rx="3.5" ry="2.8" fill="#1426d8" fill-opacity="0.56" transform="rotate(6 1157 1019)"/><ellipse cx="1046" cy="835" rx="4.2" ry="3.0" fill="#1a2af0" fill-opacity="0.75" transform="rotate(73 1046 835)"/><ellipse cx="1120" cy="946" rx="3.6" ry="2.0" fill="#3040ff" fill-opacity="0.87" transform="rotate(120 1120 946)"/><ellipse cx="911" cy="1082" rx="4.3" ry="3.0" fill="#2438ff" fill-opacity="0.75" transform="rotate(119 911 1082)"/><ellipse cx="1034" cy="1041" rx="3.2" ry="2.3" fill="#3040ff" fill-opacity="0.79" transform="rotate(19 1034 1041)"/><ellipse cx="983" cy="1012" rx="3.8" ry="1.7" fill="#1020b8" fill-opacity="0.52" transform="rotate(103 983 1012)"/><ellipse cx="1223" cy="951" rx="4.4" ry="2.0" fill="#1426d8" fill-opacity="0.78" transform="rotate(9 1223 951)"/><ellipse cx="924" cy="937" rx="2.6" ry="2.6" fill="#3040ff" fill-opacity="1.00" transform="rotate(68 924 937)"/><ellipse cx="1011" cy="1077" rx="4.4" ry="2.5" fill="#1a2af0" fill-opacity="0.87" transform="rotate(161 1011 1077)"/><ellipse cx="974" cy="986" rx="3.9" ry="3.2" fill="#2438ff" fill-opacity="0.81" transform="rotate(167 974 986)"/><ellipse cx="1139" cy="1064" rx="4.2" ry="2.9" fill="#1426d8" fill-opacity="0.82" transform="rotate(152 1139 1064)"/><ellipse cx="984" cy="1075" rx="3.0" ry="2.9" fill="#1a2af0" fill-opacity="0.88" transform="rotate(43 984 1075)"/><ellipse cx="990" cy="1125" rx="3.2" ry="2.5" fill="#2438ff" fill-opacity="0.80" transform="rotate(22 990 1125)"/><ellipse cx="1269" cy="1044" rx="4.1" ry="3.1" fill="#1020b8" fill-opacity="0.70" transform="rotate(99 1269 1044)"/><ellipse cx="1290" cy="987" rx="2.8" ry="1.6" fill="#3040ff" fill-opacity="0.55" transform="rotate(143 1290 987)"/><ellipse cx="971" cy="1049" rx="3.4" ry="1.8" fill="#2438ff" fill-opacity="0.67" transform="rotate(150 971 1049)"/><ellipse cx="1207" cy="1012" rx="3.9" ry="2.4" fill="#1a2af0" fill-opacity="0.72" transform="rotate(162 1207 1012)"/><ellipse cx="1232" cy="922" rx="3.1" ry="2.7" fill="#3040ff" fill-opacity="0.73" transform="rotate(11 1232 922)"/><ellipse cx="1197" cy="1038" rx="4.3" ry="1.8" fill="#1426d8" fill-opacity="0.88" transform="rotate(111 1197 1038)"/><ellipse cx="1192" cy="1021" rx="2.3" ry="2.8" fill="#1020b8" fill-opacity="0.56" transform="rotate(35 1192 1021)"/><ellipse cx="1101" cy="981" rx="2.4" ry="1.8" fill="#1020b8" fill-opacity="0.61" transform="rotate(72 1101 981)"/><ellipse cx="1005" cy="1058" rx="4.1" ry="2.5" fill="#1426d8" fill-opacity="0.77" transform="rotate(136 1005 1058)"/><ellipse cx="1132" cy="988" rx="2.9" ry="2.6" fill="#3040ff" fill-opacity="0.78" transform="rotate(3 1132 988)"/><ellipse cx="1253" cy="996" rx="3.3" ry="2.7" fill="#1a2af0" fill-opacity="0.79" transform="rotate(152 1253 996)"/><ellipse cx="1127" cy="821" rx="2.9" ry="3.1" fill="#1a2af0" fill-opacity="0.78" transform="rotate(137 1127 821)"/><ellipse cx="1232" cy="971" rx="2.9" ry="1.8" fill="#3040ff" fill-opacity="0.97" transform="rotate(46 1232 971)"/><ellipse cx="970" cy="1077" rx="3.7" ry="2.8" fill="#1020b8" fill-opacity="0.93" transform="rotate(16 970 1077)"/><ellipse cx="1030" cy="849" rx="2.3" ry="2.8" fill="#3040ff" fill-opacity="0.94" transform="rotate(16 1030 849)"/><ellipse cx="955" cy="1005" rx="2.9" ry="2.7" fill="#1020b8" fill-opacity="0.87" transform="rotate(136 955 1005)"/><ellipse cx="1114" cy="1043" rx="2.0" ry="2.4" fill="#1426d8" fill-opacity="0.68" transform="rotate(60 1114 1043)"/><ellipse cx="1045" cy="1059" rx="4.2" ry="1.6" fill="#1020b8" fill-opacity="0.90" transform="rotate(73 1045 1059)"/><ellipse cx="915" cy="991" rx="3.7" ry="1.9" fill="#1a2af0" fill-opacity="0.98" transform="rotate(143 915 991)"/><ellipse cx="1161" cy="1078" rx="2.7" ry="2.9" fill="#1020b8" fill-opacity="0.76" transform="rotate(34 1161 1078)"/><ellipse cx="1251" cy="953" rx="3.7" ry="1.9" fill="#3040ff" fill-opacity="0.62" transform="rotate(34 1251 953)"/><ellipse cx="909" cy="1095" rx="4.4" ry="1.9" fill="#2438ff" fill-opacity="0.79" transform="rotate(145 909 1095)"/><ellipse cx="1062" cy="1087" rx="4.0" ry="3.0" fill="#1a2af0" fill-opacity="0.84" transform="rotate(133 1062 1087)"/><ellipse cx="987" cy="816" rx="4.3" ry="2.2" fill="#1a2af0" fill-opacity="0.77" transform="rotate(17 987 816)"/><ellipse cx="1256" cy="937" rx="2.8" ry="2.0" fill="#3040ff" fill-opacity="0.68" transform="rotate(87 1256 937)"/><ellipse cx="1159" cy="1065" rx="2.5" ry="2.4" fill="#1426d8" fill-opacity="0.65" transform="rotate(61 1159 1065)"/><ellipse cx="1249" cy="921" rx="2.6" ry="2.6" fill="#2438ff" fill-opacity="0.80" transform="rotate(159 1249 921)"/><ellipse cx="995" cy="1011" rx="4.3" ry="2.0" fill="#1a2af0" fill-opacity="0.59" transform="rotate(143 995 1011)"/><ellipse cx="1025" cy="1097" rx="4.5" ry="1.7" fill="#1a2af0" fill-opacity="0.72" transform="rotate(100 1025 1097)"/><ellipse cx="1217" cy="1024" rx="3.0" ry="2.7" fill="#2438ff" fill-opacity="0.74" transform="rotate(84 1217 1024)"/><ellipse cx="899" cy="983" rx="4.4" ry="2.9" fill="#2438ff" fill-opacity="1.00" transform="rotate(149 899 983)"/><ellipse cx="1191" cy="1048" rx="2.3" ry="2.0" fill="#1a2af0" fill-opacity="0.96" transform="rotate(163 1191 1048)"/><ellipse cx="980" cy="1017" rx="4.0" ry="2.3" fill="#3040ff" fill-opacity="0.81" transform="rotate(30 980 1017)"/><ellipse cx="982" cy="1081" rx="3.3" ry="2.1" fill="#1a2af0" fill-opacity="0.61" transform="rotate(2 982 1081)"/><ellipse cx="1210" cy="976" rx="2.2" ry="1.9" fill="#3040ff" fill-opacity="0.66" transform="rotate(153 1210 976)"/><ellipse cx="1030" cy="1071" rx="2.3" ry="2.1" fill="#1426d8" fill-opacity="0.96" transform="rotate(63 1030 1071)"/><ellipse cx="1047" cy="973" rx="2.6" ry="1.7" fill="#1020b8" fill-opacity="0.69" transform="rotate(24 1047 973)"/><ellipse cx="1057" cy="1078" rx="2.9" ry="2.1" fill="#3040ff" fill-opacity="0.88" transform="rotate(76 1057 1078)"/><ellipse cx="1238" cy="941" rx="3.4" ry="2.7" fill="#2438ff" fill-opacity="0.99" transform="rotate(96 1238 941)"/><ellipse cx="1208" cy="960" rx="2.9" ry="2.7" fill="#1020b8" fill-opacity="0.59" transform="rotate(90 1208 960)"/><ellipse cx="1095" cy="1048" rx="3.2" ry="2.8" fill="#1020b8" fill-opacity="0.94" transform="rotate(125 1095 1048)"/><ellipse cx="1226" cy="915" rx="3.8" ry="2.6" fill="#1a2af0" fill-opacity="0.59" transform="rotate(129 1226 915)"/><ellipse cx="1050" cy="981" rx="3.1" ry="2.4" fill="#1a2af0" fill-opacity="0.82" transform="rotate(151 1050 981)"/><ellipse cx="1121" cy="1012" rx="2.4" ry="2.4" fill="#1020b8" fill-opacity="0.83" transform="rotate(149 1121 1012)"/><ellipse cx="1157" cy="993" rx="4.5" ry="3.2" fill="#3040ff" fill-opacity="0.63" transform="rotate(141 1157 993)"/><ellipse cx="1162" cy="1039" rx="2.1" ry="3.1" fill="#1020b8" fill-opacity="0.53" transform="rotate(142 1162 1039)"/><ellipse cx="1233" cy="980" rx="2.2" ry="2.2" fill="#1a2af0" fill-opacity="0.86" transform="rotate(118 1233 980)"/><ellipse cx="1142" cy="1055" rx="4.5" ry="1.8" fill="#2438ff" fill-opacity="0.79" transform="rotate(40 1142 1055)"/><ellipse cx="1196" cy="1021" rx="3.0" ry="1.7" fill="#3040ff" fill-opacity="0.79" transform="rotate(9 1196 1021)"/><ellipse cx="937" cy="960" rx="3.0" ry="2.0" fill="#3040ff" fill-opacity="0.78" transform="rotate(158 937 960)"/><ellipse cx="1023" cy="1099" rx="3.1" ry="2.7" fill="#3040ff" fill-opacity="0.75" transform="rotate(73 1023 1099)"/><ellipse cx="976" cy="972" rx="2.2" ry="2.5" fill="#1020b8" fill-opacity="0.52" transform="rotate(10 976 972)"/><ellipse cx="1226" cy="913" rx="2.8" ry="2.2" fill="#3040ff" fill-opacity="0.97" transform="rotate(47 1226 913)"/><ellipse cx="1142" cy="879" rx="3.3" ry="2.2" fill="#2438ff" fill-opacity="0.78" transform="rotate(128 1142 879)"/><ellipse cx="1191" cy="922" rx="3.6" ry="2.6" fill="#2438ff" fill-opacity="0.53" transform="rotate(15 1191 922)"/><ellipse cx="949" cy="1038" rx="2.8" ry="2.2" fill="#1a2af0" fill-opacity="0.56" transform="rotate(8 949 1038)"/><ellipse cx="959" cy="1055" rx="3.9" ry="2.0" fill="#1a2af0" fill-opacity="0.68" transform="rotate(143 959 1055)"/><ellipse cx="1092" cy="942" rx="3.8" ry="2.2" fill="#2438ff" fill-opacity="0.59" transform="rotate(127 1092 942)"/><ellipse cx="1161" cy="988" rx="2.2" ry="3.1" fill="#3040ff" fill-opacity="0.57" transform="rotate(46 1161 988)"/><ellipse cx="1240" cy="1017" rx="3.0" ry="1.7" fill="#3040ff" fill-opacity="0.68" transform="rotate(128 1240 1017)"/><ellipse cx="1073" cy="895" rx="3.4" ry="2.5" fill="#2438ff" fill-opacity="0.96" transform="rotate(41 1073 895)"/><ellipse cx="1002" cy="780" rx="3.9" ry="2.9" fill="#1426d8" fill-opacity="0.55" transform="rotate(21 1002 780)"/><ellipse cx="1268" cy="943" rx="2.0" ry="1.7" fill="#1426d8" fill-opacity="0.98" transform="rotate(96 1268 943)"/><ellipse cx="1237" cy="1064" rx="2.6" ry="3.2" fill="#2438ff" fill-opacity="0.87" transform="rotate(140 1237 1064)"/><ellipse cx="1097" cy="990" rx="2.2" ry="2.6" fill="#1020b8" fill-opacity="0.54" transform="rotate(96 1097 990)"/><ellipse cx="1159" cy="1028" rx="3.4" ry="2.9" fill="#3040ff" fill-opacity="0.91" transform="rotate(164 1159 1028)"/><ellipse cx="926" cy="1085" rx="3.8" ry="3.2" fill="#1a2af0" fill-opacity="0.94" transform="rotate(145 926 1085)"/><ellipse cx="1062" cy="961" rx="3.6" ry="3.1" fill="#1020b8" fill-opacity="0.83" transform="rotate(95 1062 961)"/><ellipse cx="1109" cy="972" rx="3.3" ry="1.7" fill="#3040ff" fill-opacity="0.70" transform="rotate(136 1109 972)"/><ellipse cx="1077" cy="944" rx="4.2" ry="3.2" fill="#1020b8" fill-opacity="0.72" transform="rotate(146 1077 944)"/><ellipse cx="1102" cy="1076" rx="2.6" ry="2.0" fill="#2438ff" fill-opacity="0.62" transform="rotate(99 1102 1076)"/><ellipse cx="986" cy="1090" rx="2.7" ry="1.6" fill="#1426d8" fill-opacity="0.89" transform="rotate(8 986 1090)"/><ellipse cx="1185" cy="1004" rx="3.8" ry="1.9" fill="#1426d8" fill-opacity="0.65" transform="rotate(145 1185 1004)"/><ellipse cx="1250" cy="1014" rx="2.7" ry="2.6" fill="#2438ff" fill-opacity="0.67" transform="rotate(56 1250 1014)"/><ellipse cx="1101" cy="1029" rx="4.5" ry="2.9" fill="#1426d8" fill-opacity="0.66" transform="rotate(71 1101 1029)"/><ellipse cx="967" cy="1027" rx="3.7" ry="2.3" fill="#3040ff" fill-opacity="0.61" transform="rotate(33 967 1027)"/><ellipse cx="1064" cy="999" rx="4.3" ry="2.5" fill="#2438ff" fill-opacity="0.55" transform="rotate(14 1064 999)"/><ellipse cx="1205" cy="797" rx="3.3" ry="1.7" fill="#2438ff" fill-opacity="0.64" transform="rotate(77 1205 797)"/><ellipse cx="1020" cy="1021" rx="4.4" ry="2.0" fill="#1020b8" fill-opacity="0.63" transform="rotate(83 1020 1021)"/><ellipse cx="1250" cy="1043" rx="4.4" ry="2.5" fill="#3040ff" fill-opacity="0.98" transform="rotate(72 1250 1043)"/><ellipse cx="1123" cy="1000" rx="3.6" ry="1.8" fill="#1020b8" fill-opacity="0.83" transform="rotate(37 1123 1000)"/><ellipse cx="1061" cy="1057" rx="2.1" ry="2.2" fill="#1426d8" fill-opacity="0.64" transform="rotate(150 1061 1057)"/><ellipse cx="1187" cy="969" rx="2.0" ry="2.1" fill="#1a2af0" fill-opacity="0.60" transform="rotate(19 1187 969)"/><ellipse cx="935" cy="911" rx="3.3" ry="2.6" fill="#1a2af0" fill-opacity="0.99" transform="rotate(5 935 911)"/><ellipse cx="1012" cy="792" rx="3.8" ry="2.7" fill="#3040ff" fill-opacity="0.71" transform="rotate(120 1012 792)"/><ellipse cx="950" cy="1000" rx="2.2" ry="2.8" fill="#3040ff" fill-opacity="0.80" transform="rotate(17 950 1000)"/><ellipse cx="1243" cy="954" rx="3.7" ry="1.9" fill="#2438ff" fill-opacity="0.58" transform="rotate(160 1243 954)"/><ellipse cx="1081" cy="971" rx="4.3" ry="2.5" fill="#1a2af0" fill-opacity="0.56" transform="rotate(127 1081 971)"/><ellipse cx="1224" cy="995" rx="3.2" ry="1.7" fill="#1a2af0" fill-opacity="0.89" transform="rotate(55 1224 995)"/><ellipse cx="1240" cy="1037" rx="2.9" ry="2.8" fill="#1020b8" fill-opacity="0.54" transform="rotate(130 1240 1037)"/><ellipse cx="941" cy="1091" rx="3.4" ry="2.9" fill="#3040ff" fill-opacity="0.69" transform="rotate(115 941 1091)"/><ellipse cx="1133" cy="1031" rx="2.1" ry="3.0" fill="#3040ff" fill-opacity="0.77" transform="rotate(77 1133 1031)"/><ellipse cx="985" cy="1001" rx="4.2" ry="2.5" fill="#1426d8" fill-opacity="0.97" transform="rotate(52 985 1001)"/><ellipse cx="1214" cy="781" rx="2.4" ry="2.1" fill="#1426d8" fill-opacity="0.71" transform="rotate(116 1214 781)"/><ellipse cx="1003" cy="1003" rx="3.0" ry="1.9" fill="#1426d8" fill-opacity="0.64" transform="rotate(54 1003 1003)"/><ellipse cx="1092" cy="1025" rx="3.4" ry="2.7" fill="#3040ff" fill-opacity="0.90" transform="rotate(24 1092 1025)"/><ellipse cx="1244" cy="894" rx="3.3" ry="2.1" fill="#2438ff" fill-opacity="0.51" transform="rotate(129 1244 894)"/><ellipse cx="1230" cy="955" rx="2.8" ry="2.9" fill="#1a2af0" fill-opacity="0.95" transform="rotate(106 1230 955)"/><ellipse cx="1063" cy="961" rx="4.3" ry="2.4" fill="#1a2af0" fill-opacity="0.56" transform="rotate(134 1063 961)"/><ellipse cx="1242" cy="1106" rx="3.4" ry="2.1" fill="#3040ff" fill-opacity="0.67" transform="rotate(178 1242 1106)"/><ellipse cx="1164" cy="944" rx="2.3" ry="2.5" fill="#3040ff" fill-opacity="0.64" transform="rotate(64 1164 944)"/><ellipse cx="1115" cy="971" rx="2.4" ry="3.1" fill="#1020b8" fill-opacity="0.80" transform="rotate(126 1115 971)"/><ellipse cx="1254" cy="977" rx="3.8" ry="2.9" fill="#3040ff" fill-opacity="0.79" transform="rotate(54 1254 977)"/><ellipse cx="927" cy="1040" rx="3.2" ry="2.1" fill="#1a2af0" fill-opacity="0.61" transform="rotate(109 927 1040)"/><ellipse cx="1239" cy="987" rx="4.0" ry="2.6" fill="#2438ff" fill-opacity="0.81" transform="rotate(27 1239 987)"/><ellipse cx="978" cy="1059" rx="3.7" ry="3.1" fill="#1a2af0" fill-opacity="0.96" transform="rotate(70 978 1059)"/><ellipse cx="1019" cy="1113" rx="3.3" ry="2.4" fill="#1426d8" fill-opacity="0.62" transform="rotate(125 1019 1113)"/><ellipse cx="1003" cy="1082" rx="4.4" ry="3.0" fill="#1a2af0" fill-opacity="0.78" transform="rotate(172 1003 1082)"/><ellipse cx="1103" cy="1043" rx="2.6" ry="1.9" fill="#2438ff" fill-opacity="0.87" transform="rotate(6 1103 1043)"/><ellipse cx="1238" cy="945" rx="3.7" ry="2.5" fill="#1426d8" fill-opacity="0.53" transform="rotate(100 1238 945)"/><ellipse cx="1073" cy="921" rx="2.4" ry="2.1" fill="#3040ff" fill-opacity="0.95" transform="rotate(10 1073 921)"/><ellipse cx="1185" cy="1037" rx="2.2" ry="3.2" fill="#2438ff" fill-opacity="0.81" transform="rotate(20 1185 1037)"/><ellipse cx="1013" cy="946" rx="3.2" ry="2.5" fill="#2438ff" fill-opacity="0.91" transform="rotate(101 1013 946)"/><ellipse cx="1117" cy="984" rx="3.3" ry="2.5" fill="#1426d8" fill-opacity="0.56" transform="rotate(15 1117 984)"/><ellipse cx="1020" cy="1061" rx="3.0" ry="1.7" fill="#2438ff" fill-opacity="0.89" transform="rotate(111 1020 1061)"/><ellipse cx="1180" cy="1002" rx="3.8" ry="2.0" fill="#1a2af0" fill-opacity="0.56" transform="rotate(27 1180 1002)"/><ellipse cx="1040" cy="1041" rx="3.8" ry="1.8" fill="#1a2af0" fill-opacity="0.51" transform="rotate(42 1040 1041)"/><ellipse cx="953" cy="980" rx="3.0" ry="2.4" fill="#1020b8" fill-opacity="0.99" transform="rotate(15 953 980)"/><ellipse cx="964" cy="1093" rx="4.3" ry="3.1" fill="#1a2af0" fill-opacity="0.53" transform="rotate(69 964 1093)"/><ellipse cx="1006" cy="1068" rx="2.3" ry="3.0" fill="#1a2af0" fill-opacity="0.83" transform="rotate(87 1006 1068)"/><ellipse cx="1207" cy="987" rx="3.3" ry="2.0" fill="#3040ff" fill-opacity="0.63" transform="rotate(158 1207 987)"/><ellipse cx="1186" cy="969" rx="3.4" ry="2.0" fill="#1020b8" fill-opacity="0.58" transform="rotate(6 1186 969)"/><ellipse cx="1114" cy="1044" rx="2.7" ry="1.9" fill="#1426d8" fill-opacity="0.74" transform="rotate(109 1114 1044)"/><ellipse cx="1192" cy="959" rx="2.8" ry="3.0" fill="#1a2af0" fill-opacity="0.64" transform="rotate(120 1192 959)"/><ellipse cx="960" cy="973" rx="2.1" ry="3.1" fill="#1020b8" fill-opacity="0.63" transform="rotate(159 960 973)"/><ellipse cx="1179" cy="1063" rx="2.8" ry="1.6" fill="#3040ff" fill-opacity="0.66" transform="rotate(176 1179 1063)"/><ellipse cx="1126" cy="1050" rx="3.8" ry="2.7" fill="#1a2af0" fill-opacity="0.95" transform="rotate(94 1126 1050)"/><ellipse cx="1162" cy="878" rx="3.6" ry="1.6" fill="#1020b8" fill-opacity="0.79" transform="rotate(115 1162 878)"/><ellipse cx="1182" cy="1071" rx="4.0" ry="3.1" fill="#3040ff" fill-opacity="0.63" transform="rotate(56 1182 1071)"/><ellipse cx="1132" cy="996" rx="3.1" ry="2.7" fill="#2438ff" fill-opacity="0.58" transform="rotate(2 1132 996)"/><ellipse cx="1021" cy="1015" rx="2.3" ry="2.7" fill="#3040ff" fill-opacity="0.90" transform="rotate(96 1021 1015)"/><ellipse cx="1160" cy="1032" rx="2.5" ry="2.2" fill="#3040ff" fill-opacity="0.76" transform="rotate(135 1160 1032)"/><ellipse cx="915" cy="1004" rx="3.6" ry="2.5" fill="#1426d8" fill-opacity="0.94" transform="rotate(135 915 1004)"/><ellipse cx="1094" cy="822" rx="4.1" ry="2.3" fill="#1426d8" fill-opacity="0.53" transform="rotate(28 1094 822)"/><ellipse cx="1172" cy="1012" rx="3.0" ry="1.7" fill="#1426d8" fill-opacity="0.81" transform="rotate(14 1172 1012)"/><ellipse cx="946" cy="1050" rx="2.5" ry="1.7" fill="#3040ff" fill-opacity="0.54" transform="rotate(146 946 1050)"/><ellipse cx="1170" cy="1013" rx="2.1" ry="2.0" fill="#1020b8" fill-opacity="0.74" transform="rotate(66 1170 1013)"/><ellipse cx="1006" cy="1004" rx="4.5" ry="2.2" fill="#1020b8" fill-opacity="0.66" transform="rotate(171 1006 1004)"/><ellipse cx="1008" cy="1065" rx="3.7" ry="2.8" fill="#2438ff" fill-opacity="0.52" transform="rotate(165 1008 1065)"/><ellipse cx="927" cy="914" rx="2.0" ry="1.7" fill="#1426d8" fill-opacity="0.50" transform="rotate(96 927 914)"/><ellipse cx="1232" cy="1014" rx="4.3" ry="2.4" fill="#1a2af0" fill-opacity="0.52" transform="rotate(61 1232 1014)"/><ellipse cx="1200" cy="1046" rx="3.8" ry="1.7" fill="#3040ff" fill-opacity="0.53" transform="rotate(114 1200 1046)"/><ellipse cx="1034" cy="873" rx="4.2" ry="2.3" fill="#1020b8" fill-opacity="0.76" transform="rotate(66 1034 873)"/><ellipse cx="1206" cy="1036" rx="2.4" ry="2.0" fill="#1426d8" fill-opacity="0.62" transform="rotate(74 1206 1036)"/><ellipse cx="945" cy="900" rx="2.2" ry="2.2" fill="#1426d8" fill-opacity="0.84" transform="rotate(61 945 900)"/><ellipse cx="1123" cy="1031" rx="2.4" ry="2.2" fill="#1a2af0" fill-opacity="0.84" transform="rotate(118 1123 1031)"/><ellipse cx="1024" cy="1058" rx="2.8" ry="3.1" fill="#3040ff" fill-opacity="0.98" transform="rotate(46 1024 1058)"/><ellipse cx="1015" cy="1045" rx="2.6" ry="3.0" fill="#2438ff" fill-opacity="0.56" transform="rotate(158 1015 1045)"/><ellipse cx="1007" cy="837" rx="3.5" ry="2.3" fill="#1020b8" fill-opacity="0.59" transform="rotate(41 1007 837)"/><ellipse cx="1052" cy="1058" rx="3.6" ry="2.8" fill="#3040ff" fill-opacity="0.77" transform="rotate(44 1052 1058)"/><ellipse cx="1214" cy="976" rx="2.5" ry="2.6" fill="#1426d8" fill-opacity="0.60" transform="rotate(121 1214 976)"/><ellipse cx="1084" cy="1081" rx="3.5" ry="3.0" fill="#1426d8" fill-opacity="0.67" transform="rotate(108 1084 1081)"/><ellipse cx="1061" cy="1048" rx="2.1" ry="2.4" fill="#1426d8" fill-opacity="0.76" transform="rotate(107 1061 1048)"/><ellipse cx="1058" cy="982" rx="2.4" ry="1.7" fill="#1020b8" fill-opacity="0.89" transform="rotate(129 1058 982)"/><ellipse cx="1186" cy="1012" rx="3.1" ry="2.7" fill="#1426d8" fill-opacity="0.92" transform="rotate(42 1186 1012)"/><ellipse cx="1081" cy="1114" rx="3.8" ry="2.9" fill="#1426d8" fill-opacity="0.86" transform="rotate(126 1081 1114)"/><ellipse cx="1105" cy="825" rx="2.9" ry="1.7" fill="#2438ff" fill-opacity="0.84" transform="rotate(58 1105 825)"/><ellipse cx="996" cy="1115" rx="2.6" ry="2.6" fill="#1020b8" fill-opacity="0.69" transform="rotate(147 996 1115)"/><ellipse cx="900" cy="1016" rx="3.2" ry="1.7" fill="#1020b8" fill-opacity="0.83" transform="rotate(24 900 1016)"/><ellipse cx="978" cy="1051" rx="4.4" ry="2.0" fill="#1020b8" fill-opacity="0.77" transform="rotate(17 978 1051)"/><ellipse cx="1157" cy="1038" rx="2.5" ry="2.3" fill="#1a2af0" fill-opacity="0.92" transform="rotate(166 1157 1038)"/><ellipse cx="1104" cy="1041" rx="2.1" ry="3.0" fill="#3040ff" fill-opacity="0.61" transform="rotate(72 1104 1041)"/><ellipse cx="992" cy="965" rx="2.6" ry="2.6" fill="#2438ff" fill-opacity="0.55" transform="rotate(2 992 965)"/><ellipse cx="1249" cy="921" rx="2.6" ry="2.4" fill="#1426d8" fill-opacity="0.53" transform="rotate(78 1249 921)"/><ellipse cx="993" cy="1075" rx="2.4" ry="2.3" fill="#1020b8" fill-opacity="0.77" transform="rotate(150 993 1075)"/><ellipse cx="1035" cy="994" rx="2.1" ry="2.5" fill="#1a2af0" fill-opacity="0.89" transform="rotate(25 1035 994)"/><ellipse cx="900" cy="1103" rx="3.5" ry="2.8" fill="#1020b8" fill-opacity="0.55" transform="rotate(175 900 1103)"/><ellipse cx="1106" cy="1047" rx="3.6" ry="2.5" fill="#3040ff" fill-opacity="0.69" transform="rotate(147 1106 1047)"/><ellipse cx="1230" cy="1061" rx="2.5" ry="2.9" fill="#1a2af0" fill-opacity="0.80" transform="rotate(101 1230 1061)"/><ellipse cx="1019" cy="983" rx="2.6" ry="2.0" fill="#2438ff" fill-opacity="0.62" transform="rotate(83 1019 983)"/><ellipse cx="998" cy="1092" rx="4.2" ry="2.9" fill="#3040ff" fill-opacity="0.59" transform="rotate(82 998 1092)"/><ellipse cx="1035" cy="1118" rx="2.4" ry="2.4" fill="#2438ff" fill-opacity="0.91" transform="rotate(64 1035 1118)"/><ellipse cx="1049" cy="1001" rx="2.2" ry="2.6" fill="#2438ff" fill-opacity="0.92" transform="rotate(134 1049 1001)"/><ellipse cx="1042" cy="1082" rx="2.2" ry="3.2" fill="#3040ff" fill-opacity="0.67" transform="rotate(28 1042 1082)"/><ellipse cx="1057" cy="990" rx="2.6" ry="2.3" fill="#2438ff" fill-opacity="0.64" transform="rotate(85 1057 990)"/><ellipse cx="1079" cy="948" rx="2.1" ry="1.9" fill="#2438ff" fill-opacity="0.91" transform="rotate(113 1079 948)"/><ellipse cx="947" cy="1024" rx="4.3" ry="2.2" fill="#2438ff" fill-opacity="0.99" transform="rotate(42 947 1024)"/><ellipse cx="1029" cy="933" rx="2.5" ry="2.1" fill="#1020b8" fill-opacity="0.64" transform="rotate(116 1029 933)"/><ellipse cx="1210" cy="1102" rx="4.0" ry="1.7" fill="#3040ff" fill-opacity="0.54" transform="rotate(102 1210 1102)"/><ellipse cx="1120" cy="1001" rx="3.6" ry="2.3" fill="#1a2af0" fill-opacity="0.78" transform="rotate(128 1120 1001)"/><ellipse cx="978" cy="1001" rx="4.4" ry="2.8" fill="#1426d8" fill-opacity="0.64" transform="rotate(174 978 1001)"/><ellipse cx="959" cy="1036" rx="2.4" ry="2.3" fill="#1020b8" fill-opacity="0.80" transform="rotate(49 959 1036)"/><ellipse cx="1130" cy="1053" rx="2.9" ry="2.8" fill="#3040ff" fill-opacity="0.62" transform="rotate(138 1130 1053)"/><ellipse cx="962" cy="987" rx="4.0" ry="2.8" fill="#1020b8" fill-opacity="0.98" transform="rotate(117 962 987)"/><ellipse cx="1150" cy="1010" rx="3.2" ry="3.0" fill="#2438ff" fill-opacity="0.85" transform="rotate(111 1150 1010)"/><ellipse cx="1036" cy="988" rx="3.6" ry="2.7" fill="#1020b8" fill-opacity="0.64" transform="rotate(165 1036 988)"/><ellipse cx="1107" cy="1073" rx="4.1" ry="2.8" fill="#2438ff" fill-opacity="0.98" transform="rotate(113 1107 1073)"/><ellipse cx="1110" cy="1047" rx="2.3" ry="1.7" fill="#2438ff" fill-opacity="0.52" transform="rotate(12 1110 1047)"/><ellipse cx="1233" cy="969" rx="3.6" ry="1.9" fill="#3040ff" fill-opacity="0.91" transform="rotate(169 1233 969)"/><ellipse cx="1110" cy="979" rx="4.0" ry="2.0" fill="#1a2af0" fill-opacity="0.52" transform="rotate(69 1110 979)"/><ellipse cx="1224" cy="866" rx="3.3" ry="1.7" fill="#2438ff" fill-opacity="0.69" transform="rotate(160 1224 866)"/><ellipse cx="891" cy="981" rx="2.7" ry="2.5" fill="#1426d8" fill-opacity="0.59" transform="rotate(5 891 981)"/><ellipse cx="1170" cy="1034" rx="4.1" ry="3.0" fill="#2438ff" fill-opacity="0.73" transform="rotate(38 1170 1034)"/><ellipse cx="995" cy="1021" rx="2.8" ry="2.1" fill="#2438ff" fill-opacity="0.73" transform="rotate(105 995 1021)"/><ellipse cx="981" cy="1056" rx="2.1" ry="2.3" fill="#3040ff" fill-opacity="0.86" transform="rotate(12 981 1056)"/><ellipse cx="1228" cy="856" rx="2.4" ry="2.6" fill="#1426d8" fill-opacity="0.82" transform="rotate(42 1228 856)"/><ellipse cx="1008" cy="1036" rx="4.4" ry="2.8" fill="#1426d8" fill-opacity="0.50" transform="rotate(141 1008 1036)"/><ellipse cx="1238" cy="943" rx="3.0" ry="2.4" fill="#1020b8" fill-opacity="0.67" transform="rotate(69 1238 943)"/><ellipse cx="1221" cy="1082" rx="2.6" ry="2.1" fill="#1020b8" fill-opacity="0.78" transform="rotate(48 1221 1082)"/><ellipse cx="989" cy="1068" rx="4.2" ry="3.1" fill="#1426d8" fill-opacity="0.72" transform="rotate(172 989 1068)"/><ellipse cx="1148" cy="875" rx="2.3" ry="2.0" fill="#3040ff" fill-opacity="0.80" transform="rotate(38 1148 875)"/><ellipse cx="1232" cy="985" rx="3.6" ry="2.2" fill="#2438ff" fill-opacity="0.86" transform="rotate(98 1232 985)"/><ellipse cx="1183" cy="945" rx="3.2" ry="2.5" fill="#1020b8" fill-opacity="0.72" transform="rotate(55 1183 945)"/><ellipse cx="1014" cy="989" rx="2.7" ry="3.0" fill="#1a2af0" fill-opacity="0.89" transform="rotate(121 1014 989)"/><ellipse cx="1185" cy="1023" rx="3.3" ry="2.9" fill="#1020b8" fill-opacity="0.58" transform="rotate(43 1185 1023)"/><ellipse cx="1001" cy="1019" rx="3.2" ry="2.0" fill="#2438ff" fill-opacity="0.53" transform="rotate(170 1001 1019)"/><ellipse cx="1007" cy="1045" rx="4.0" ry="1.7" fill="#3040ff" fill-opacity="0.72" transform="rotate(125 1007 1045)"/><ellipse cx="1082" cy="947" rx="3.3" ry="2.5" fill="#1020b8" fill-opacity="0.87" transform="rotate(69 1082 947)"/><ellipse cx="1035" cy="1006" rx="2.4" ry="2.8" fill="#3040ff" fill-opacity="0.95" transform="rotate(160 1035 1006)"/><ellipse cx="1214" cy="792" rx="2.1" ry="3.2" fill="#1426d8" fill-opacity="0.99" transform="rotate(143 1214 792)"/><ellipse cx="1201" cy="945" rx="2.6" ry="1.6" fill="#3040ff" fill-opacity="0.73" transform="rotate(105 1201 945)"/><ellipse cx="1236" cy="1065" rx="4.0" ry="3.0" fill="#1020b8" fill-opacity="0.88" transform="rotate(116 1236 1065)"/><ellipse cx="1030" cy="1092" rx="4.3" ry="1.7" fill="#2438ff" fill-opacity="0.72" transform="rotate(23 1030 1092)"/><ellipse cx="930" cy="1032" rx="3.5" ry="1.6" fill="#1426d8" fill-opacity="0.59" transform="rotate(36 930 1032)"/><ellipse cx="991" cy="1061" rx="2.5" ry="3.1" fill="#3040ff" fill-opacity="0.60" transform="rotate(124 991 1061)"/><ellipse cx="1231" cy="951" rx="3.1" ry="2.9" fill="#3040ff" fill-opacity="0.70" transform="rotate(113 1231 951)"/><ellipse cx="1183" cy="977" rx="3.2" ry="2.8" fill="#1426d8" fill-opacity="0.53" transform="rotate(15 1183 977)"/><ellipse cx="942" cy="1047" rx="4.3" ry="1.7" fill="#1a2af0" fill-opacity="0.50" transform="rotate(37 942 1047)"/><ellipse cx="1182" cy="1027" rx="2.8" ry="1.7" fill="#1a2af0" fill-opacity="0.81" transform="rotate(94 1182 1027)"/><ellipse cx="1037" cy="892" rx="2.7" ry="2.6" fill="#2438ff" fill-opacity="0.83" transform="rotate(115 1037 892)"/><ellipse cx="998" cy="975" rx="3.0" ry="1.9" fill="#1426d8" fill-opacity="0.55" transform="rotate(81 998 975)"/><ellipse cx="1155" cy="1057" rx="2.7" ry="2.0" fill="#2438ff" fill-opacity="0.61" transform="rotate(66 1155 1057)"/><ellipse cx="1032" cy="1101" rx="4.5" ry="1.8" fill="#1426d8" fill-opacity="0.72" transform="rotate(50 1032 1101)"/><ellipse cx="1060" cy="1031" rx="4.5" ry="2.7" fill="#1a2af0" fill-opacity="0.99" transform="rotate(164 1060 1031)"/><ellipse cx="1055" cy="984" rx="4.3" ry="2.1" fill="#1426d8" fill-opacity="0.70" transform="rotate(137 1055 984)"/><ellipse cx="1100" cy="938" rx="2.6" ry="2.3" fill="#3040ff" fill-opacity="0.79" transform="rotate(68 1100 938)"/><ellipse cx="998" cy="956" rx="3.5" ry="2.8" fill="#1a2af0" fill-opacity="0.54" transform="rotate(109 998 956)"/><ellipse cx="1184" cy="1009" rx="4.5" ry="2.2" fill="#1020b8" fill-opacity="0.83" transform="rotate(105 1184 1009)"/><ellipse cx="927" cy="788" rx="2.8" ry="2.0" fill="#1a2af0" fill-opacity="0.88" transform="rotate(104 927 788)"/><ellipse cx="1093" cy="1092" rx="2.1" ry="2.3" fill="#1a2af0" fill-opacity="0.63" transform="rotate(142 1093 1092)"/><ellipse cx="1036" cy="1029" rx="2.0" ry="2.8" fill="#1a2af0" fill-opacity="0.87" transform="rotate(170 1036 1029)"/><ellipse cx="1123" cy="1086" rx="3.0" ry="2.1" fill="#1a2af0" fill-opacity="0.94" transform="rotate(98 1123 1086)"/><ellipse cx="1217" cy="976" rx="3.0" ry="2.4" fill="#3040ff" fill-opacity="0.96" transform="rotate(116 1217 976)"/><ellipse cx="1060" cy="888" rx="2.6" ry="2.8" fill="#2438ff" fill-opacity="0.60" transform="rotate(29 1060 888)"/><ellipse cx="1224" cy="913" rx="3.1" ry="1.7" fill="#2438ff" fill-opacity="0.65" transform="rotate(110 1224 913)"/><ellipse cx="1165" cy="1032" rx="3.9" ry="3.1" fill="#1a2af0" fill-opacity="0.54" transform="rotate(172 1165 1032)"/><ellipse cx="1051" cy="1072" rx="2.1" ry="2.9" fill="#1426d8" fill-opacity="0.91" transform="rotate(113 1051 1072)"/><ellipse cx="942" cy="1023" rx="4.3" ry="2.6" fill="#1020b8" fill-opacity="0.57" transform="rotate(176 942 1023)"/><ellipse cx="1241" cy="950" rx="2.8" ry="2.3" fill="#1a2af0" fill-opacity="0.65" transform="rotate(35 1241 950)"/><ellipse cx="1216" cy="1006" rx="3.9" ry="2.6" fill="#2438ff" fill-opacity="0.75" transform="rotate(55 1216 1006)"/><ellipse cx="1226" cy="1010" rx="2.6" ry="1.9" fill="#3040ff" fill-opacity="0.75" transform="rotate(36 1226 1010)"/><ellipse cx="917" cy="803" rx="3.3" ry="2.3" fill="#2438ff" fill-opacity="0.86" transform="rotate(2 917 803)"/><ellipse cx="1043" cy="915" rx="3.3" ry="2.8" fill="#1426d8" fill-opacity="0.57" transform="rotate(61 1043 915)"/><ellipse cx="1169" cy="972" rx="3.9" ry="2.6" fill="#3040ff" fill-opacity="0.90" transform="rotate(11 1169 972)"/><ellipse cx="1025" cy="1013" rx="4.2" ry="1.9" fill="#3040ff" fill-opacity="0.70" transform="rotate(172 1025 1013)"/><ellipse cx="1046" cy="1098" rx="2.2" ry="2.2" fill="#2438ff" fill-opacity="0.84" transform="rotate(22 1046 1098)"/><ellipse cx="1095" cy="895" rx="2.9" ry="2.3" fill="#1a2af0" fill-opacity="0.89" transform="rotate(69 1095 895)"/><ellipse cx="1083" cy="1090" rx="4.5" ry="2.7" fill="#1020b8" fill-opacity="0.64" transform="rotate(19 1083 1090)"/><ellipse cx="945" cy="1043" rx="2.6" ry="2.4" fill="#1a2af0" fill-opacity="0.87" transform="rotate(90 945 1043)"/><ellipse cx="1236" cy="962" rx="3.7" ry="2.8" fill="#1a2af0" fill-opacity="0.87" transform="rotate(173 1236 962)"/><ellipse cx="1214" cy="1077" rx="4.2" ry="2.4" fill="#3040ff" fill-opacity="0.99" transform="rotate(56 1214 1077)"/><ellipse cx="934" cy="1045" rx="4.4" ry="2.3" fill="#1a2af0" fill-opacity="0.57" transform="rotate(1 934 1045)"/><ellipse cx="1188" cy="1010" rx="2.7" ry="3.1" fill="#1426d8" fill-opacity="0.65" transform="rotate(1 1188 1010)"/><ellipse cx="1055" cy="981" rx="2.5" ry="2.2" fill="#1426d8" fill-opacity="0.88" transform="rotate(163 1055 981)"/><ellipse cx="926" cy="1068" rx="2.3" ry="2.3" fill="#1426d8" fill-opacity="0.66" transform="rotate(136 926 1068)"/><ellipse cx="963" cy="1112" rx="2.4" ry="1.8" fill="#2438ff" fill-opacity="0.71" transform="rotate(148 963 1112)"/><ellipse cx="988" cy="838" rx="2.8" ry="2.4" fill="#1a2af0" fill-opacity="0.62" transform="rotate(5 988 838)"/><ellipse cx="1086" cy="1082" rx="2.5" ry="2.5" fill="#2438ff" fill-opacity="0.53" transform="rotate(77 1086 1082)"/><ellipse cx="1240" cy="994" rx="2.6" ry="2.9" fill="#1020b8" fill-opacity="0.56" transform="rotate(50 1240 994)"/><ellipse cx="1011" cy="1034" rx="3.0" ry="3.0" fill="#2438ff" fill-opacity="0.68" transform="rotate(75 1011 1034)"/><ellipse cx="1150" cy="1050" rx="4.5" ry="2.0" fill="#1020b8" fill-opacity="0.57" transform="rotate(107 1150 1050)"/><ellipse cx="1203" cy="956" rx="2.6" ry="2.0" fill="#1a2af0" fill-opacity="0.78" transform="rotate(161 1203 956)"/><ellipse cx="1153" cy="974" rx="2.7" ry="2.4" fill="#2438ff" fill-opacity="0.62" transform="rotate(67 1153 974)"/><ellipse cx="1230" cy="987" rx="2.7" ry="1.6" fill="#1a2af0" fill-opacity="0.93" transform="rotate(74 1230 987)"/><ellipse cx="1047" cy="1040" rx="2.0" ry="1.9" fill="#1a2af0" fill-opacity="0.52" transform="rotate(153 1047 1040)"/><ellipse cx="944" cy="1042" rx="2.6" ry="2.3" fill="#1426d8" fill-opacity="0.74" transform="rotate(75 944 1042)"/><ellipse cx="1055" cy="1020" rx="3.6" ry="2.1" fill="#1020b8" fill-opacity="0.59" transform="rotate(65 1055 1020)"/><ellipse cx="1103" cy="952" rx="2.2" ry="1.9" fill="#1a2af0" fill-opacity="0.89" transform="rotate(31 1103 952)"/><ellipse cx="905" cy="1029" rx="5.0" ry="1.5" fill="#1828d8" fill-opacity="0.31" transform="rotate(-56 905 1029)"/><ellipse cx="941" cy="1101" rx="4.1" ry="1.1" fill="#1020c0" fill-opacity="0.31" transform="rotate(-61 941 1101)"/><ellipse cx="991" cy="953" rx="5.8" ry="1.1" fill="#1828d8" fill-opacity="0.39" transform="rotate(-61 991 953)"/><ellipse cx="902" cy="970" rx="3.2" ry="1.6" fill="#1020c0" fill-opacity="0.48" transform="rotate(-77 902 970)"/><ellipse cx="998" cy="1077" rx="4.5" ry="1.0" fill="#1020c0" fill-opacity="0.64" transform="rotate(-45 998 1077)"/><ellipse cx="933" cy="1002" rx="3.3" ry="1.8" fill="#1828d8" fill-opacity="0.53" transform="rotate(-66 933 1002)"/><ellipse cx="945" cy="1067" rx="5.1" ry="1.3" fill="#1020c0" fill-opacity="0.56" transform="rotate(-65 945 1067)"/><ellipse cx="991" cy="1109" rx="3.8" ry="1.8" fill="#1020c0" fill-opacity="0.34" transform="rotate(-59 991 1109)"/><ellipse cx="964" cy="1084" rx="5.8" ry="1.0" fill="#1020c0" fill-opacity="0.43" transform="rotate(-58 964 1084)"/><ellipse cx="972" cy="990" rx="4.0" ry="1.6" fill="#1828d8" fill-opacity="0.47" transform="rotate(-56 972 990)"/><ellipse cx="945" cy="1040" rx="3.3" ry="1.4" fill="#1020c0" fill-opacity="0.59" transform="rotate(-62 945 1040)"/><ellipse cx="994" cy="997" rx="4.4" ry="1.1" fill="#1020c0" fill-opacity="0.67" transform="rotate(-58 994 997)"/><ellipse cx="898" cy="934" rx="5.1" ry="1.2" fill="#1020c0" fill-opacity="0.61" transform="rotate(-58 898 934)"/><ellipse cx="933" cy="1013" rx="4.5" ry="1.9" fill="#1020c0" fill-opacity="0.58" transform="rotate(-54 933 1013)"/><ellipse cx="968" cy="1027" rx="5.9" ry="1.1" fill="#1020c0" fill-opacity="0.36" transform="rotate(-60 968 1027)"/><ellipse cx="995" cy="1045" rx="5.2" ry="1.2" fill="#1020c0" fill-opacity="0.58" transform="rotate(-62 995 1045)"/><ellipse cx="905" cy="898" rx="4.6" ry="1.4" fill="#1020c0" fill-opacity="0.60" transform="rotate(-42 905 898)"/><ellipse cx="925" cy="1073" rx="5.7" ry="1.6" fill="#1828d8" fill-opacity="0.36" transform="rotate(-50 925 1073)"/><ellipse cx="981" cy="950" rx="5.7" ry="1.1" fill="#1828d8" fill-opacity="0.43" transform="rotate(-57 981 950)"/><ellipse cx="964" cy="1047" rx="4.5" ry="1.4" fill="#1020c0" fill-opacity="0.46" transform="rotate(-75 964 1047)"/><ellipse cx="941" cy="1114" rx="5.3" ry="1.3" fill="#1828d8" fill-opacity="0.46" transform="rotate(-57 941 1114)"/><ellipse cx="944" cy="894" rx="4.9" ry="1.4" fill="#1828d8" fill-opacity="0.57" transform="rotate(-55 944 894)"/><ellipse cx="911" cy="914" rx="5.9" ry="1.5" fill="#1020c0" fill-opacity="0.49" transform="rotate(-69 911 914)"/><ellipse cx="959" cy="1053" rx="4.5" ry="1.1" fill="#1020c0" fill-opacity="0.37" transform="rotate(-79 959 1053)"/><ellipse cx="982" cy="1017" rx="3.6" ry="1.7" fill="#1828d8" fill-opacity="0.34" transform="rotate(-67 982 1017)"/><ellipse cx="923" cy="1061" rx="4.2" ry="1.0" fill="#1828d8" fill-opacity="0.42" transform="rotate(-73 923 1061)"/><ellipse cx="954" cy="977" rx="5.4" ry="1.7" fill="#1020c0" fill-opacity="0.46" transform="rotate(-64 954 977)"/><ellipse cx="981" cy="990" rx="5.7" ry="1.3" fill="#1020c0" fill-opacity="0.69" transform="rotate(-45 981 990)"/><ellipse cx="986" cy="923" rx="5.5" ry="1.3" fill="#1828d8" fill-opacity="0.37" transform="rotate(-68 986 923)"/><ellipse cx="996" cy="947" rx="5.7" ry="1.3" fill="#1828d8" fill-opacity="0.45" transform="rotate(-68 996 947)"/><ellipse cx="978" cy="955" rx="5.6" ry="1.7" fill="#1020c0" fill-opacity="0.32" transform="rotate(-36 978 955)"/><ellipse cx="925" cy="1099" rx="4.9" ry="1.0" fill="#1828d8" fill-opacity="0.68" transform="rotate(-78 925 1099)"/><ellipse cx="999" cy="1051" rx="5.8" ry="1.5" fill="#1828d8" fill-opacity="0.66" transform="rotate(-62 999 1051)"/><ellipse cx="947" cy="1091" rx="3.1" ry="1.2" fill="#1020c0" fill-opacity="0.30" transform="rotate(-60 947 1091)"/><ellipse cx="914" cy="953" rx="5.4" ry="1.1" fill="#1828d8" fill-opacity="0.40" transform="rotate(-66 914 953)"/><ellipse cx="987" cy="881" rx="3.9" ry="1.6" fill="#1828d8" fill-opacity="0.55" transform="rotate(-41 987 881)"/><ellipse cx="957" cy="922" rx="3.4" ry="2.0" fill="#1828d8" fill-opacity="0.55" transform="rotate(-64 957 922)"/><ellipse cx="932" cy="889" rx="4.9" ry="1.3" fill="#1020c0" fill-opacity="0.69" transform="rotate(-68 932 889)"/><ellipse cx="904" cy="1014" rx="3.3" ry="1.7" fill="#1020c0" fill-opacity="0.64" transform="rotate(-54 904 1014)"/><ellipse cx="945" cy="887" rx="5.0" ry="1.2" fill="#1020c0" fill-opacity="0.69" transform="rotate(-60 945 887)"/><ellipse cx="992" cy="908" rx="3.1" ry="1.4" fill="#1828d8" fill-opacity="0.67" transform="rotate(-56 992 908)"/><ellipse cx="999" cy="944" rx="4.0" ry="1.5" fill="#1828d8" fill-opacity="0.67" transform="rotate(-50 999 944)"/><ellipse cx="987" cy="888" rx="5.0" ry="1.1" fill="#1020c0" fill-opacity="0.66" transform="rotate(-67 987 888)"/><ellipse cx="956" cy="1020" rx="4.7" ry="1.8" fill="#1828d8" fill-opacity="0.46" transform="rotate(-39 956 1020)"/><ellipse cx="985" cy="993" rx="5.6" ry="1.9" fill="#1828d8" fill-opacity="0.34" transform="rotate(-58 985 993)"/><ellipse cx="994" cy="956" rx="5.1" ry="1.6" fill="#1828d8" fill-opacity="0.40" transform="rotate(-78 994 956)"/><ellipse cx="914" cy="1005" rx="5.3" ry="1.5" fill="#1828d8" fill-opacity="0.35" transform="rotate(-72 914 1005)"/><ellipse cx="981" cy="945" rx="4.5" ry="1.5" fill="#1828d8" fill-opacity="0.60" transform="rotate(-56 981 945)"/><ellipse cx="996" cy="929" rx="4.5" ry="1.1" fill="#1020c0" fill-opacity="0.37" transform="rotate(-70 996 929)"/><ellipse cx="923" cy="1107" rx="3.2" ry="1.6" fill="#1020c0" fill-opacity="0.67" transform="rotate(-83 923 1107)"/><ellipse cx="911" cy="960" rx="3.6" ry="2.0" fill="#1020c0" fill-opacity="0.59" transform="rotate(-48 911 960)"/><ellipse cx="908" cy="987" rx="3.2" ry="1.3" fill="#1020c0" fill-opacity="0.52" transform="rotate(-38 908 987)"/><ellipse cx="923" cy="885" rx="4.7" ry="2.0" fill="#1020c0" fill-opacity="0.41" transform="rotate(-70 923 885)"/><ellipse cx="899" cy="905" rx="4.8" ry="1.8" fill="#1020c0" fill-opacity="0.57" transform="rotate(-54 899 905)"/><ellipse cx="925" cy="988" rx="5.6" ry="1.3" fill="#1828d8" fill-opacity="0.69" transform="rotate(-65 925 988)"/><ellipse cx="988" cy="1102" rx="5.8" ry="1.5" fill="#1020c0" fill-opacity="0.68" transform="rotate(-66 988 1102)"/><ellipse cx="987" cy="1004" rx="4.9" ry="1.7" fill="#1828d8" fill-opacity="0.52" transform="rotate(-57 987 1004)"/><ellipse cx="928" cy="1111" rx="5.8" ry="1.7" fill="#1828d8" fill-opacity="0.35" transform="rotate(-53 928 1111)"/><ellipse cx="910" cy="924" rx="4.0" ry="1.4" fill="#1020c0" fill-opacity="0.42" transform="rotate(-57 910 924)"/><ellipse cx="938" cy="986" rx="5.9" ry="1.1" fill="#1828d8" fill-opacity="0.50" transform="rotate(-58 938 986)"/><ellipse cx="991" cy="892" rx="4.4" ry="1.8" fill="#1828d8" fill-opacity="0.47" transform="rotate(-49 991 892)"/><ellipse cx="962" cy="900" rx="3.1" ry="1.9" fill="#1828d8" fill-opacity="0.42" transform="rotate(-77 962 900)"/><ellipse cx="1000" cy="1049" rx="5.5" ry="1.5" fill="#1828d8" fill-opacity="0.62" transform="rotate(-70 1000 1049)"/><ellipse cx="943" cy="929" rx="4.2" ry="1.6" fill="#1020c0" fill-opacity="0.37" transform="rotate(-54 943 929)"/><ellipse cx="913" cy="959" rx="4.0" ry="1.6" fill="#1828d8" fill-opacity="0.39" transform="rotate(-65 913 959)"/><ellipse cx="941" cy="1102" rx="5.0" ry="1.9" fill="#1828d8" fill-opacity="0.66" transform="rotate(-81 941 1102)"/><ellipse cx="999" cy="1032" rx="5.8" ry="1.4" fill="#1828d8" fill-opacity="0.39" transform="rotate(-62 999 1032)"/><ellipse cx="989" cy="999" rx="4.7" ry="1.9" fill="#1020c0" fill-opacity="0.31" transform="rotate(-49 989 999)"/><ellipse cx="997" cy="882" rx="4.8" ry="1.5" fill="#1020c0" fill-opacity="0.41" transform="rotate(-55 997 882)"/><ellipse cx="943" cy="1067" rx="4.2" ry="1.7" fill="#1828d8" fill-opacity="0.54" transform="rotate(-52 943 1067)"/><ellipse cx="943" cy="1043" rx="4.0" ry="1.1" fill="#1020c0" fill-opacity="0.45" transform="rotate(-53 943 1043)"/><ellipse cx="937" cy="1063" rx="4.5" ry="1.4" fill="#1828d8" fill-opacity="0.56" transform="rotate(-72 937 1063)"/><ellipse cx="938" cy="884" rx="4.1" ry="1.4" fill="#1020c0" fill-opacity="0.46" transform="rotate(-79 938 884)"/><ellipse cx="953" cy="888" rx="4.0" ry="1.8" fill="#1828d8" fill-opacity="0.62" transform="rotate(-73 953 888)"/><ellipse cx="989" cy="961" rx="5.3" ry="1.2" fill="#1828d8" fill-opacity="0.31" transform="rotate(-68 989 961)"/><ellipse cx="986" cy="921" rx="3.7" ry="1.3" fill="#1828d8" fill-opacity="0.65" transform="rotate(-61 986 921)"/><ellipse cx="952" cy="929" rx="4.2" ry="1.1" fill="#1828d8" fill-opacity="0.40" transform="rotate(-61 952 929)"/><ellipse cx="979" cy="1048" rx="5.5" ry="1.9" fill="#1020c0" fill-opacity="0.35" transform="rotate(-45 979 1048)"/><ellipse cx="974" cy="882" rx="4.4" ry="1.6" fill="#1020c0" fill-opacity="0.54" transform="rotate(-33 974 882)"/><ellipse cx="924" cy="945" rx="5.5" ry="1.4" fill="#1020c0" fill-opacity="0.39" transform="rotate(-52 924 945)"/><ellipse cx="936" cy="832" rx="12" ry="6" fill="#30c47e" fill-opacity="0.62" transform="rotate(30 936 832)"/><ellipse cx="921" cy="829" rx="9" ry="5" fill="#30c47e" fill-opacity="0.62" transform="rotate(20 921 829)"/><ellipse cx="945" cy="858" rx="9" ry="7" fill="#30c47e" fill-opacity="0.62" transform="rotate(0 945 858)"/><ellipse cx="1071" cy="890" rx="14" ry="5" fill="#30c47e" fill-opacity="0.62" transform="rotate(35 1071 890)"/><ellipse cx="1080" cy="897" rx="8" ry="4" fill="#30c47e" fill-opacity="0.62" transform="rotate(35 1080 897)"/><ellipse cx="1120" cy="887" rx="9" ry="6" fill="#30c47e" fill-opacity="0.62" transform="rotate(20 1120 887)"/><ellipse cx="1180" cy="918" rx="10" ry="7" fill="#30c47e" fill-opacity="0.62" transform="rotate(0 1180 918)"/><ellipse cx="1211" cy="918" rx="8" ry="7" fill="#30c47e" fill-opacity="0.62" transform="rotate(0 1211 918)"/><ellipse cx="1229" cy="947" rx="7" ry="9" fill="#30c47e" fill-opacity="0.62" transform="rotate(60 1229 947)"/><ellipse cx="1234" cy="960" rx="6" ry="9" fill="#30c47e" fill-opacity="0.62" transform="rotate(60 1234 960)"/><ellipse cx="1180" cy="984" rx="16" ry="9" fill="#30c47e" fill-opacity="0.62" transform="rotate(20 1180 984)"/><ellipse cx="1195" cy="990" rx="9" ry="6" fill="#30c47e" fill-opacity="0.62" transform="rotate(0 1195 990)"/><ellipse cx="1240" cy="1007" rx="7" ry="10" fill="#30c47e" fill-opacity="0.62" transform="rotate(0 1240 1007)"/><ellipse cx="956" cy="961" rx="6" ry="14" fill="#30c47e" fill-opacity="0.62" transform="rotate(-20 956 961)"/><ellipse cx="1011" cy="1019" rx="8" ry="7" fill="#30c47e" fill-opacity="0.62" transform="rotate(0 1011 1019)"/><ellipse cx="1034" cy="1027" rx="7" ry="9" fill="#30c47e" fill-opacity="0.62" transform="rotate(40 1034 1027)"/><ellipse cx="1085" cy="1042" rx="8" ry="6" fill="#30c47e" fill-opacity="0.62" transform="rotate(0 1085 1042)"/><ellipse cx="1088" cy="941" rx="8" ry="6" fill="#30c47e" fill-opacity="0.62" transform="rotate(0 1088 941)"/><ellipse cx="1059" cy="844" rx="6" ry="4" fill="#30c47e" fill-opacity="0.62" transform="rotate(0 1059 844)"/><ellipse cx="1013" cy="812" rx="5" ry="3" fill="#30c47e" fill-opacity="0.62" transform="rotate(0 1013 812)"/><ellipse cx="1157" cy="881" rx="7" ry="5" fill="#30c47e" fill-opacity="0.62" transform="rotate(0 1157 881)"/><ellipse cx="1010" cy="1000" rx="5" ry="4" fill="#30c47e" fill-opacity="0.62" transform="rotate(0 1010 1000)"/><ellipse cx="966" cy="995" rx="6" ry="8" fill="#30c47e" fill-opacity="0.62" transform="rotate(0 966 995)"/><ellipse cx="1000" cy="940" rx="4" ry="4" fill="#30c47e" fill-opacity="0.62" transform="rotate(0 1000 940)"/><ellipse cx="1115" cy="900" rx="5" ry="3" fill="#30c47e" fill-opacity="0.62" transform="rotate(0 1115 900)"/><ellipse cx="990" cy="955" rx="5" ry="4" fill="#30c47e" fill-opacity="0.62" transform="rotate(0 990 955)"/><ellipse cx="1150" cy="1003" rx="7" ry="4" fill="#30c47e" fill-opacity="0.62" transform="rotate(-30 1150 1003)"/><ellipse cx="1205" cy="900" rx="6" ry="4" fill="#30c47e" fill-opacity="0.62" transform="rotate(0 1205 900)"/><ellipse cx="940" cy="940" rx="4" ry="6" fill="#30c47e" fill-opacity="0.62" transform="rotate(0 940 940)"/><ellipse cx="905" cy="815" rx="6" ry="4" fill="#30c47e" fill-opacity="0.62" transform="rotate(0 905 815)"/><ellipse cx="1245" cy="1040" rx="5" ry="8" fill="#30c47e" fill-opacity="0.62" transform="rotate(0 1245 1040)"/><ellipse cx="1060" cy="1080" rx="4" ry="5" fill="#30c47e" fill-opacity="0.62" transform="rotate(0 1060 1080)"/><ellipse cx="1050.2" cy="965.4" rx="12" ry="20" fill="#020204" stroke="#f0203a" stroke-width="5" stroke-opacity="0.85" transform="rotate(-10 1050.2 965.4)"/><ellipse cx="1107.5" cy="1004" rx="15" ry="28" fill="#020204" stroke="#f0203a" stroke-width="5" stroke-opacity="0.85" transform="rotate(-8 1107.5 1004)"/><ellipse cx="1167" cy="1026" rx="15" ry="15" fill="#020204" stroke="#f0203a" stroke-width="5" stroke-opacity="0.85" transform="rotate(0 1167 1026)"/><ellipse cx="1245" cy="1070" rx="11" ry="14" fill="#020204" stroke="#f0203a" stroke-width="5" stroke-opacity="0.85" transform="rotate(0 1245 1070)"/><circle cx="1070" cy="1030" r="5" fill="#d02040" fill-opacity="0.8"/><circle cx="1021" cy="966" r="6" fill="#d02040" fill-opacity="0.8"/><circle cx="942" cy="1112" r="4" fill="#d02040" fill-opacity="0.8"/><circle cx="990" cy="1110" r="5" fill="#d02040" fill-opacity="0.8"/><circle cx="913" cy="846" r="4" fill="#d02040" fill-opacity="0.8"/><circle cx="1122" cy="901" r="4" fill="#d02040" fill-opacity="0.8"/><rect x="1165" y="768" width="86" height="99" fill="#010204"/></g></g>
<line x1="1168.2" y1="1081.2" x2="1211.2" y2="1081.2" stroke="#fff" stroke-width="1.6"/>
<circle cx="1168.2" cy="1081.2" r="1.8" fill="#fff"/><circle cx="1211.2" cy="1081.2" r="1.8" fill="#fff"/>
<text x="1189.7" y="1088.2" font-family="'Liberation Sans', Arial, sans-serif" font-size="5" font-weight="normal" fill="#fff" text-anchor="middle">50 µm</text>
<text x="1241.7" y="795.4" font-family="'Liberation Sans', Arial, sans-serif" font-size="29.5" font-weight="normal" fill="#06c4fc" text-anchor="end">DAPI</text>
<text x="1246.5" y="829.3" font-family="'Liberation Sans', Arial, sans-serif" font-size="29.5" font-weight="normal" fill="#66fa9e" text-anchor="end">CFSE</text>
<text x="1238.5" y="863.0" font-family="'Liberation Sans', Arial, sans-serif" font-size="29.5" font-weight="normal" fill="#ff0a0a" text-anchor="end">vWF</text></svg></body></html>
